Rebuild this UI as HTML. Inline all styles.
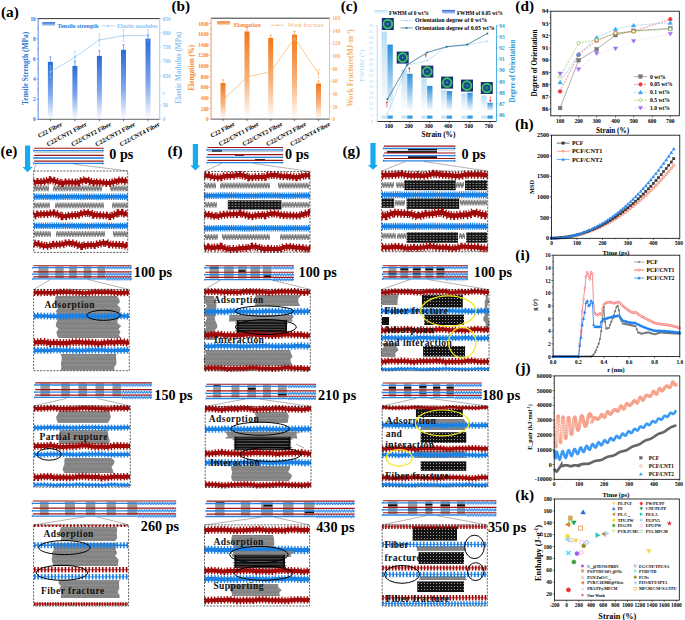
<!DOCTYPE html>
<html><head><meta charset="utf-8"><style>
html,body{margin:0;padding:0;background:#fff;width:685px;height:620px;overflow:hidden}
svg{display:block;font-family:"Liberation Serif", serif}
</style></head><body>
<svg width="685" height="620" viewBox="0 0 685 620">
<defs>
<linearGradient id="gBlue" x1="0" y1="0" x2="0" y2="1"><stop offset="0" stop-color="#2a6ad8"/><stop offset="0.55" stop-color="#7ea6ec"/><stop offset="1" stop-color="#ffffff"/></linearGradient>
<linearGradient id="gOr" x1="0" y1="0" x2="0" y2="1"><stop offset="0" stop-color="#f2771a"/><stop offset="0.55" stop-color="#f7b27c"/><stop offset="1" stop-color="#ffffff"/></linearGradient>
<linearGradient id="gLB" x1="0" y1="0" x2="0" y2="1"><stop offset="0" stop-color="#b9def6"/><stop offset="1" stop-color="#ffffff"/></linearGradient>
<linearGradient id="gDB" x1="0" y1="0" x2="0" y2="1"><stop offset="0" stop-color="#2b8fd8"/><stop offset="1" stop-color="#ffffff"/></linearGradient>
<linearGradient id="gLegB" x1="0" y1="0" x2="0" y2="1"><stop offset="0" stop-color="#2a6ad8"/><stop offset="1" stop-color="#cfdcf6"/></linearGradient>
<linearGradient id="gLegO" x1="0" y1="0" x2="0" y2="1"><stop offset="0" stop-color="#f2771a"/><stop offset="1" stop-color="#fbd3b4"/></linearGradient>
<radialGradient id="saxs" cx="0.5" cy="0.5" r="0.5"><stop offset="0" stop-color="#1c2d7a"/><stop offset="0.45" stop-color="#1b4a8a"/><stop offset="0.62" stop-color="#3ad36a"/><stop offset="0.78" stop-color="#2fae5a"/><stop offset="0.9" stop-color="#1d3d86"/><stop offset="1" stop-color="#1b2f7c"/></radialGradient>

<pattern id="pz" width="2.8" height="6" patternUnits="userSpaceOnUse"><path d="M-1.4,0.8 L0,5.2 L1.4,0.8 L2.8,5.2 L4.2,0.8" stroke="#7a7a7a" stroke-width="1.5" fill="none"/></pattern>
<pattern id="pg" width="2.4" height="4.4" patternUnits="userSpaceOnUse"><rect width="2.4" height="4.4" fill="#b4b4b4"/><path d="M-1.2,0.5 L0,1.9 L1.2,0.5 L2.4,1.9 L3.6,0.5 M-1.2,2.7 L0,4.1 L1.2,2.7 L2.4,4.1 L3.6,2.7" stroke="#7c7c7c" stroke-width="1.2" fill="none"/></pattern>
<pattern id="pc1" width="3.3" height="2.6" patternUnits="userSpaceOnUse"><rect width="3.3" height="2.6" fill="#111"/><path d="M0.5,1.3 H2.2" stroke="#e6e6e6" stroke-width="0.65"/></pattern>
<pattern id="pc2" width="3" height="3" patternUnits="userSpaceOnUse"><rect width="3" height="3" fill="#121212"/><ellipse cx="1.5" cy="1.5" rx="0.6" ry="0.45" fill="#e8e8e8"/></pattern>
<pattern id="pw" width="2.6" height="5" patternUnits="userSpaceOnUse"><path d="M-1.3,1.6 L0,3.4 L1.3,1.6 L2.6,3.4 L3.9,1.6" stroke="#2a86e6" stroke-width="1.2" fill="none"/></pattern></defs>
<rect width="685" height="620" fill="#fff"/>
<text x="0.9" y="16.7" font-size="15.3" fill="#000" text-anchor="start" font-weight="bold">(a)</text>
<rect x="47.9" y="61.9" width="5.0" height="57.4" fill="url(#gBlue)"/>
<line x1="50.4" y1="61.9" x2="50.4" y2="56.9" stroke="#2f74d6" stroke-width="0.6"/>
<line x1="49.2" y1="56.9" x2="51.6" y2="56.9" stroke="#2f74d6" stroke-width="0.6"/>
<rect x="72.4" y="65.9" width="5.0" height="53.4" fill="url(#gBlue)"/>
<line x1="74.9" y1="65.9" x2="74.9" y2="60.9" stroke="#2f74d6" stroke-width="0.6"/>
<line x1="73.7" y1="60.9" x2="76.1" y2="60.9" stroke="#2f74d6" stroke-width="0.6"/>
<rect x="96.9" y="55.9" width="5.0" height="63.4" fill="url(#gBlue)"/>
<line x1="99.4" y1="55.9" x2="99.4" y2="50.8" stroke="#2f74d6" stroke-width="0.6"/>
<line x1="98.2" y1="50.8" x2="100.6" y2="50.8" stroke="#2f74d6" stroke-width="0.6"/>
<rect x="121.0" y="49.8" width="5.0" height="69.5" fill="url(#gBlue)"/>
<line x1="123.5" y1="49.8" x2="123.5" y2="44.8" stroke="#2f74d6" stroke-width="0.6"/>
<line x1="122.3" y1="44.8" x2="124.7" y2="44.8" stroke="#2f74d6" stroke-width="0.6"/>
<rect x="145.5" y="38.7" width="5.0" height="80.6" fill="url(#gBlue)"/>
<line x1="148.0" y1="38.7" x2="148.0" y2="34.7" stroke="#2f74d6" stroke-width="0.6"/>
<line x1="146.8" y1="34.7" x2="149.2" y2="34.7" stroke="#2f74d6" stroke-width="0.6"/>
<polyline points="50.4,71.9 74.9,57.2 99.4,39.9 123.5,35.7 148.0,35.7" stroke="#8cc4f2" stroke-width="0.7" fill="none"/>
<line x1="50.4" y1="65.9" x2="50.4" y2="77.9" stroke="#8cc4f2" stroke-width="0.5"/>
<line x1="49.4" y1="65.9" x2="51.4" y2="65.9" stroke="#8cc4f2" stroke-width="0.5"/>
<line x1="49.4" y1="77.9" x2="51.4" y2="77.9" stroke="#8cc4f2" stroke-width="0.5"/>
<circle cx="50.4" cy="71.9" r="0.9" fill="#8cc4f2"/>
<line x1="74.9" y1="51.2" x2="74.9" y2="63.2" stroke="#8cc4f2" stroke-width="0.5"/>
<line x1="73.9" y1="51.2" x2="75.9" y2="51.2" stroke="#8cc4f2" stroke-width="0.5"/>
<line x1="73.9" y1="63.2" x2="75.9" y2="63.2" stroke="#8cc4f2" stroke-width="0.5"/>
<circle cx="74.9" cy="57.2" r="0.9" fill="#8cc4f2"/>
<line x1="99.4" y1="33.9" x2="99.4" y2="45.9" stroke="#8cc4f2" stroke-width="0.5"/>
<line x1="98.4" y1="33.9" x2="100.4" y2="33.9" stroke="#8cc4f2" stroke-width="0.5"/>
<line x1="98.4" y1="45.9" x2="100.4" y2="45.9" stroke="#8cc4f2" stroke-width="0.5"/>
<circle cx="99.4" cy="39.9" r="0.9" fill="#8cc4f2"/>
<line x1="123.5" y1="29.7" x2="123.5" y2="41.7" stroke="#8cc4f2" stroke-width="0.5"/>
<line x1="122.5" y1="29.7" x2="124.5" y2="29.7" stroke="#8cc4f2" stroke-width="0.5"/>
<line x1="122.5" y1="41.7" x2="124.5" y2="41.7" stroke="#8cc4f2" stroke-width="0.5"/>
<circle cx="123.5" cy="35.7" r="0.9" fill="#8cc4f2"/>
<line x1="148.0" y1="29.7" x2="148.0" y2="41.7" stroke="#8cc4f2" stroke-width="0.5"/>
<line x1="147.0" y1="29.7" x2="149.0" y2="29.7" stroke="#8cc4f2" stroke-width="0.5"/>
<line x1="147.0" y1="41.7" x2="149.0" y2="41.7" stroke="#8cc4f2" stroke-width="0.5"/>
<circle cx="148" cy="35.7" r="0.9" fill="#8cc4f2"/>
<line x1="38.2" y1="18.6" x2="159.7" y2="18.6" stroke="#000" stroke-width="0.8"/>
<line x1="38.2" y1="119.3" x2="159.7" y2="119.3" stroke="#666" stroke-width="1.0"/>
<line x1="38.2" y1="18.6" x2="38.2" y2="119.3" stroke="#2f74d6" stroke-width="0.8"/>
<line x1="159.7" y1="18.6" x2="159.7" y2="119.3" stroke="#8cc4f2" stroke-width="0.8"/>
<line x1="36.2" y1="119.3" x2="38.2" y2="119.3" stroke="#2f74d6" stroke-width="0.5"/>
<line x1="37.0" y1="109.2" x2="38.2" y2="109.2" stroke="#2f74d6" stroke-width="0.5"/>
<line x1="36.2" y1="99.2" x2="38.2" y2="99.2" stroke="#2f74d6" stroke-width="0.5"/>
<line x1="37.0" y1="89.1" x2="38.2" y2="89.1" stroke="#2f74d6" stroke-width="0.5"/>
<line x1="36.2" y1="79.0" x2="38.2" y2="79.0" stroke="#2f74d6" stroke-width="0.5"/>
<line x1="37.0" y1="69.0" x2="38.2" y2="69.0" stroke="#2f74d6" stroke-width="0.5"/>
<line x1="36.2" y1="58.9" x2="38.2" y2="58.9" stroke="#2f74d6" stroke-width="0.5"/>
<line x1="37.0" y1="48.8" x2="38.2" y2="48.8" stroke="#2f74d6" stroke-width="0.5"/>
<line x1="36.2" y1="38.7" x2="38.2" y2="38.7" stroke="#2f74d6" stroke-width="0.5"/>
<line x1="37.0" y1="28.7" x2="38.2" y2="28.7" stroke="#2f74d6" stroke-width="0.5"/>
<line x1="36.2" y1="18.6" x2="38.2" y2="18.6" stroke="#2f74d6" stroke-width="0.5"/>
<text x="35.7" y="121.3" font-size="5.2" fill="#2f74d6" text-anchor="end" font-weight="bold">0</text>
<text x="35.7" y="101.2" font-size="5.2" fill="#2f74d6" text-anchor="end" font-weight="bold">2</text>
<text x="35.7" y="81.0" font-size="5.2" fill="#2f74d6" text-anchor="end" font-weight="bold">4</text>
<text x="35.7" y="60.9" font-size="5.2" fill="#2f74d6" text-anchor="end" font-weight="bold">6</text>
<text x="35.7" y="40.7" font-size="5.2" fill="#2f74d6" text-anchor="end" font-weight="bold">8</text>
<text x="35.7" y="20.6" font-size="5.2" fill="#2f74d6" text-anchor="end" font-weight="bold">10</text>
<line x1="50.4" y1="119.3" x2="50.4" y2="121.3" stroke="#000" stroke-width="0.5"/>
<line x1="74.9" y1="119.3" x2="74.9" y2="121.3" stroke="#000" stroke-width="0.5"/>
<line x1="99.4" y1="119.3" x2="99.4" y2="121.3" stroke="#000" stroke-width="0.5"/>
<line x1="123.5" y1="119.3" x2="123.5" y2="121.3" stroke="#000" stroke-width="0.5"/>
<line x1="148.0" y1="119.3" x2="148.0" y2="121.3" stroke="#000" stroke-width="0.5"/>
<line x1="159.7" y1="18.6" x2="161.7" y2="18.6" stroke="#8cc4f2" stroke-width="0.5"/>
<text x="162.7" y="20.6" font-size="5.2" fill="#8cc4f2" text-anchor="start" font-weight="bold">850</text>
<line x1="159.7" y1="32.9" x2="161.7" y2="32.9" stroke="#8cc4f2" stroke-width="0.5"/>
<text x="162.7" y="34.9" font-size="5.2" fill="#8cc4f2" text-anchor="start" font-weight="bold">800</text>
<line x1="159.7" y1="46.9" x2="161.7" y2="46.9" stroke="#8cc4f2" stroke-width="0.5"/>
<text x="162.7" y="48.9" font-size="5.2" fill="#8cc4f2" text-anchor="start" font-weight="bold">750</text>
<line x1="159.7" y1="61.4" x2="161.7" y2="61.4" stroke="#8cc4f2" stroke-width="0.5"/>
<text x="162.7" y="63.4" font-size="5.2" fill="#8cc4f2" text-anchor="start" font-weight="bold">700</text>
<line x1="159.7" y1="75.9" x2="161.7" y2="75.9" stroke="#8cc4f2" stroke-width="0.5"/>
<text x="162.7" y="77.9" font-size="5.2" fill="#8cc4f2" text-anchor="start" font-weight="bold">650</text>
<line x1="159.7" y1="105.3" x2="161.7" y2="105.3" stroke="#8cc4f2" stroke-width="0.5"/>
<text x="162.7" y="107.3" font-size="5.2" fill="#8cc4f2" text-anchor="start" font-weight="bold">50</text>
<line x1="159.7" y1="119.3" x2="161.7" y2="119.3" stroke="#8cc4f2" stroke-width="0.5"/>
<text x="162.7" y="121.3" font-size="5.2" fill="#8cc4f2" text-anchor="start" font-weight="bold">0</text>
<text x="162.2" y="92.0" font-size="5" fill="#8cc4f2" text-anchor="start" font-weight="bold" transform="rotate(90 162.2 92.0)">≈</text>
<text x="62.7" y="125.5" font-size="6.2" fill="#000" text-anchor="end" font-weight="bold" transform="rotate(-28 62.7 125.5)">C22 Fiber</text>
<text x="87.2" y="125.5" font-size="6.2" fill="#000" text-anchor="end" font-weight="bold" transform="rotate(-28 87.2 125.5)">C22/CNT1 Fiber</text>
<text x="111.7" y="125.5" font-size="6.2" fill="#000" text-anchor="end" font-weight="bold" transform="rotate(-28 111.7 125.5)">C22/CNT2 Fiber</text>
<text x="135.8" y="125.5" font-size="6.2" fill="#000" text-anchor="end" font-weight="bold" transform="rotate(-28 135.8 125.5)">C22/CNT3 Fiber</text>
<text x="160.3" y="125.5" font-size="6.2" fill="#000" text-anchor="end" font-weight="bold" transform="rotate(-28 160.3 125.5)">C22/CNT4 Fiber</text>
<text x="27.8" y="68.4" font-size="7.6" fill="#2f74d6" text-anchor="middle" font-weight="bold" transform="rotate(-90 27.8 68.4)" textLength="73" lengthAdjust="spacingAndGlyphs">Tensile Strength (MPa)</text>
<text x="180.7" y="67.8" font-size="7.6" fill="#8cc4f2" text-anchor="middle" font-weight="bold" transform="rotate(-90 180.7 67.8)" textLength="72" lengthAdjust="spacingAndGlyphs">Elastic Modulus (MPa)</text>
<rect x="42.2" y="22.1" width="12.8" height="3.8" fill="url(#gLegB)"/>
<text x="57.4" y="27.9" font-size="6" fill="#2f74d6" text-anchor="start" font-weight="bold" textLength="41" lengthAdjust="spacingAndGlyphs">Tensile strength</text>
<line x1="101.8" y1="25.9" x2="114.6" y2="25.9" stroke="#8cc4f2" stroke-width="0.6"/>
<circle cx="108.2" cy="25.9" r="0.8" fill="#8cc4f2"/>
<text x="117.0" y="27.9" font-size="6" fill="#8cc4f2" text-anchor="start" font-weight="bold" textLength="40.8" lengthAdjust="spacingAndGlyphs">Elastic modulus</text>
<text x="171.4" y="11.0" font-size="15.3" fill="#000" text-anchor="start" font-weight="bold">(b)</text>
<rect x="220.5" y="83.0" width="5.0" height="36.1" fill="url(#gOr)"/>
<line x1="223.0" y1="83.0" x2="223.0" y2="79.8" stroke="#f5882a" stroke-width="0.6"/>
<line x1="221.8" y1="79.8" x2="224.2" y2="79.8" stroke="#f5882a" stroke-width="0.6"/>
<rect x="244.5" y="31.5" width="5.0" height="87.6" fill="url(#gOr)"/>
<line x1="247.0" y1="31.5" x2="247.0" y2="27.2" stroke="#f5882a" stroke-width="0.6"/>
<line x1="245.8" y1="27.2" x2="248.2" y2="27.2" stroke="#f5882a" stroke-width="0.6"/>
<rect x="268.2" y="37.9" width="5.0" height="81.2" fill="url(#gOr)"/>
<line x1="270.7" y1="37.9" x2="270.7" y2="35.2" stroke="#f5882a" stroke-width="0.6"/>
<line x1="269.5" y1="35.2" x2="271.9" y2="35.2" stroke="#f5882a" stroke-width="0.6"/>
<rect x="292.0" y="34.7" width="5.0" height="84.4" fill="url(#gOr)"/>
<line x1="294.5" y1="34.7" x2="294.5" y2="31.5" stroke="#f5882a" stroke-width="0.6"/>
<line x1="293.3" y1="31.5" x2="295.7" y2="31.5" stroke="#f5882a" stroke-width="0.6"/>
<rect x="316.0" y="83.5" width="5.0" height="35.6" fill="url(#gOr)"/>
<line x1="318.5" y1="83.5" x2="318.5" y2="80.9" stroke="#f5882a" stroke-width="0.6"/>
<line x1="317.3" y1="80.9" x2="319.7" y2="80.9" stroke="#f5882a" stroke-width="0.6"/>
<polyline points="223.0,100.0 247.0,77.0 270.7,71.9 294.5,38.0 318.5,73.6" stroke="#f7b06a" stroke-width="0.7" fill="none"/>
<line x1="223.0" y1="96.0" x2="223.0" y2="104.0" stroke="#f7b06a" stroke-width="0.5"/>
<line x1="222.0" y1="96.0" x2="224.0" y2="96.0" stroke="#f7b06a" stroke-width="0.5"/>
<line x1="222.0" y1="104.0" x2="224.0" y2="104.0" stroke="#f7b06a" stroke-width="0.5"/>
<circle cx="223" cy="100" r="0.9" fill="#f7b06a"/>
<line x1="247.0" y1="73.0" x2="247.0" y2="81.0" stroke="#f7b06a" stroke-width="0.5"/>
<line x1="246.0" y1="73.0" x2="248.0" y2="73.0" stroke="#f7b06a" stroke-width="0.5"/>
<line x1="246.0" y1="81.0" x2="248.0" y2="81.0" stroke="#f7b06a" stroke-width="0.5"/>
<circle cx="247" cy="77" r="0.9" fill="#f7b06a"/>
<line x1="270.7" y1="67.9" x2="270.7" y2="75.9" stroke="#f7b06a" stroke-width="0.5"/>
<line x1="269.7" y1="67.9" x2="271.7" y2="67.9" stroke="#f7b06a" stroke-width="0.5"/>
<line x1="269.7" y1="75.9" x2="271.7" y2="75.9" stroke="#f7b06a" stroke-width="0.5"/>
<circle cx="270.7" cy="71.9" r="0.9" fill="#f7b06a"/>
<line x1="294.5" y1="34.0" x2="294.5" y2="42.0" stroke="#f7b06a" stroke-width="0.5"/>
<line x1="293.5" y1="34.0" x2="295.5" y2="34.0" stroke="#f7b06a" stroke-width="0.5"/>
<line x1="293.5" y1="42.0" x2="295.5" y2="42.0" stroke="#f7b06a" stroke-width="0.5"/>
<circle cx="294.5" cy="38" r="0.9" fill="#f7b06a"/>
<line x1="318.5" y1="69.6" x2="318.5" y2="77.6" stroke="#f7b06a" stroke-width="0.5"/>
<line x1="317.5" y1="69.6" x2="319.5" y2="69.6" stroke="#f7b06a" stroke-width="0.5"/>
<line x1="317.5" y1="77.6" x2="319.5" y2="77.6" stroke="#f7b06a" stroke-width="0.5"/>
<circle cx="318.5" cy="73.6" r="0.9" fill="#f7b06a"/>
<line x1="211.1" y1="18.2" x2="329.5" y2="18.2" stroke="#000" stroke-width="0.8"/>
<line x1="211.1" y1="119.1" x2="329.5" y2="119.1" stroke="#555" stroke-width="1.0"/>
<line x1="211.1" y1="18.2" x2="211.1" y2="119.1" stroke="#f5882a" stroke-width="0.8"/>
<line x1="329.5" y1="18.2" x2="329.5" y2="119.1" stroke="#f7b06a" stroke-width="0.8"/>
<line x1="209.1" y1="119.1" x2="211.1" y2="119.1" stroke="#f5882a" stroke-width="0.5"/>
<line x1="209.9" y1="113.8" x2="211.1" y2="113.8" stroke="#f5882a" stroke-width="0.5"/>
<line x1="209.1" y1="108.5" x2="211.1" y2="108.5" stroke="#f5882a" stroke-width="0.5"/>
<line x1="209.9" y1="103.2" x2="211.1" y2="103.2" stroke="#f5882a" stroke-width="0.5"/>
<line x1="209.1" y1="97.9" x2="211.1" y2="97.9" stroke="#f5882a" stroke-width="0.5"/>
<line x1="209.9" y1="92.5" x2="211.1" y2="92.5" stroke="#f5882a" stroke-width="0.5"/>
<line x1="209.1" y1="87.2" x2="211.1" y2="87.2" stroke="#f5882a" stroke-width="0.5"/>
<line x1="209.9" y1="81.9" x2="211.1" y2="81.9" stroke="#f5882a" stroke-width="0.5"/>
<line x1="209.1" y1="76.6" x2="211.1" y2="76.6" stroke="#f5882a" stroke-width="0.5"/>
<line x1="209.9" y1="71.3" x2="211.1" y2="71.3" stroke="#f5882a" stroke-width="0.5"/>
<line x1="209.1" y1="66.0" x2="211.1" y2="66.0" stroke="#f5882a" stroke-width="0.5"/>
<line x1="209.9" y1="60.7" x2="211.1" y2="60.7" stroke="#f5882a" stroke-width="0.5"/>
<line x1="209.1" y1="55.4" x2="211.1" y2="55.4" stroke="#f5882a" stroke-width="0.5"/>
<line x1="209.9" y1="50.1" x2="211.1" y2="50.1" stroke="#f5882a" stroke-width="0.5"/>
<line x1="209.1" y1="44.8" x2="211.1" y2="44.8" stroke="#f5882a" stroke-width="0.5"/>
<line x1="209.9" y1="39.4" x2="211.1" y2="39.4" stroke="#f5882a" stroke-width="0.5"/>
<line x1="209.1" y1="34.1" x2="211.1" y2="34.1" stroke="#f5882a" stroke-width="0.5"/>
<line x1="209.9" y1="28.8" x2="211.1" y2="28.8" stroke="#f5882a" stroke-width="0.5"/>
<line x1="209.1" y1="23.5" x2="211.1" y2="23.5" stroke="#f5882a" stroke-width="0.5"/>
<text x="208.6" y="121.1" font-size="5.2" fill="#f5882a" text-anchor="end" font-weight="bold">0</text>
<text x="208.6" y="110.5" font-size="5.2" fill="#f5882a" text-anchor="end" font-weight="bold">200</text>
<text x="208.6" y="99.9" font-size="5.2" fill="#f5882a" text-anchor="end" font-weight="bold">400</text>
<text x="208.6" y="89.2" font-size="5.2" fill="#f5882a" text-anchor="end" font-weight="bold">600</text>
<text x="208.6" y="78.6" font-size="5.2" fill="#f5882a" text-anchor="end" font-weight="bold">800</text>
<text x="208.6" y="68.0" font-size="5.2" fill="#f5882a" text-anchor="end" font-weight="bold">1000</text>
<text x="208.6" y="57.4" font-size="5.2" fill="#f5882a" text-anchor="end" font-weight="bold">1200</text>
<text x="208.6" y="46.8" font-size="5.2" fill="#f5882a" text-anchor="end" font-weight="bold">1400</text>
<text x="208.6" y="36.1" font-size="5.2" fill="#f5882a" text-anchor="end" font-weight="bold">1600</text>
<text x="208.6" y="25.5" font-size="5.2" fill="#f5882a" text-anchor="end" font-weight="bold">1800</text>
<line x1="329.5" y1="119.1" x2="331.5" y2="119.1" stroke="#f7b06a" stroke-width="0.5"/>
<text x="332.5" y="121.1" font-size="5.2" fill="#f7b06a" text-anchor="start" font-weight="bold">0</text>
<line x1="329.5" y1="106.5" x2="331.5" y2="106.5" stroke="#f7b06a" stroke-width="0.5"/>
<text x="332.5" y="108.5" font-size="5.2" fill="#f7b06a" text-anchor="start" font-weight="bold">20</text>
<line x1="329.5" y1="93.9" x2="331.5" y2="93.9" stroke="#f7b06a" stroke-width="0.5"/>
<text x="332.5" y="95.9" font-size="5.2" fill="#f7b06a" text-anchor="start" font-weight="bold">40</text>
<line x1="329.5" y1="81.3" x2="331.5" y2="81.3" stroke="#f7b06a" stroke-width="0.5"/>
<text x="332.5" y="83.3" font-size="5.2" fill="#f7b06a" text-anchor="start" font-weight="bold">60</text>
<line x1="329.5" y1="68.7" x2="331.5" y2="68.7" stroke="#f7b06a" stroke-width="0.5"/>
<text x="332.5" y="70.7" font-size="5.2" fill="#f7b06a" text-anchor="start" font-weight="bold">80</text>
<line x1="329.5" y1="56.0" x2="331.5" y2="56.0" stroke="#f7b06a" stroke-width="0.5"/>
<text x="332.5" y="58.0" font-size="5.2" fill="#f7b06a" text-anchor="start" font-weight="bold">100</text>
<line x1="329.5" y1="43.4" x2="331.5" y2="43.4" stroke="#f7b06a" stroke-width="0.5"/>
<text x="332.5" y="45.4" font-size="5.2" fill="#f7b06a" text-anchor="start" font-weight="bold">120</text>
<line x1="329.5" y1="30.8" x2="331.5" y2="30.8" stroke="#f7b06a" stroke-width="0.5"/>
<text x="332.5" y="32.8" font-size="5.2" fill="#f7b06a" text-anchor="start" font-weight="bold">140</text>
<line x1="329.5" y1="18.2" x2="331.5" y2="18.2" stroke="#f7b06a" stroke-width="0.5"/>
<text x="332.5" y="20.2" font-size="5.2" fill="#f7b06a" text-anchor="start" font-weight="bold">160</text>
<line x1="223.0" y1="119.1" x2="223.0" y2="121.1" stroke="#000" stroke-width="0.5"/>
<line x1="247.0" y1="119.1" x2="247.0" y2="121.1" stroke="#000" stroke-width="0.5"/>
<line x1="270.7" y1="119.1" x2="270.7" y2="121.1" stroke="#000" stroke-width="0.5"/>
<line x1="294.5" y1="119.1" x2="294.5" y2="121.1" stroke="#000" stroke-width="0.5"/>
<line x1="318.5" y1="119.1" x2="318.5" y2="121.1" stroke="#000" stroke-width="0.5"/>
<text x="235.3" y="125.3" font-size="6.2" fill="#000" text-anchor="end" font-weight="bold" transform="rotate(-28 235.3 125.3)">C22 Fiber</text>
<text x="259.3" y="125.3" font-size="6.2" fill="#000" text-anchor="end" font-weight="bold" transform="rotate(-28 259.3 125.3)">C22/CNT1 Fiber</text>
<text x="283.0" y="125.3" font-size="6.2" fill="#000" text-anchor="end" font-weight="bold" transform="rotate(-28 283.0 125.3)">C22/CNT2 Fiber</text>
<text x="306.8" y="125.3" font-size="6.2" fill="#000" text-anchor="end" font-weight="bold" transform="rotate(-28 306.8 125.3)">C22/CNT3 Fiber</text>
<text x="330.8" y="125.3" font-size="6.2" fill="#000" text-anchor="end" font-weight="bold" transform="rotate(-28 330.8 125.3)">C22/CNT4 Fiber</text>
<text x="194.0" y="67.8" font-size="7.2" fill="#f5882a" text-anchor="middle" font-weight="bold" transform="rotate(-90 194.0 67.8)" textLength="45.6" lengthAdjust="spacingAndGlyphs">Elongation (%)</text>
<text x="352.5" y="68.0" font-size="7.4" fill="#f7b06a" text-anchor="middle" font-weight="bold" transform="rotate(-90 352.5 68.0)" textLength="77" lengthAdjust="spacingAndGlyphs">Work Fracture(MJ·m<tspan font-size="4.5" dy="-2.5">-3</tspan><tspan dy="2.5">)</tspan></text>
<rect x="217.0" y="21.3" width="13.0" height="3.6" fill="url(#gLegO)"/>
<text x="233.7" y="26.5" font-size="6" fill="#f5882a" text-anchor="start" font-weight="bold" textLength="26.9" lengthAdjust="spacingAndGlyphs">Elongation</text>
<line x1="271.0" y1="25.2" x2="284.0" y2="25.2" stroke="#f7b06a" stroke-width="0.6"/>
<circle cx="277.5" cy="25.2" r="0.8" fill="#f7b06a"/>
<text x="287.5" y="27.2" font-size="6" fill="#f7b06a" text-anchor="start" font-weight="normal" textLength="36.2" lengthAdjust="spacingAndGlyphs">Work fracture</text>
<text x="340.7" y="11.0" font-size="15.3" fill="#000" text-anchor="start" font-weight="bold">(c)</text>
<rect x="381.5" y="31.7" width="5.4" height="79.3" fill="url(#gLB)"/>
<rect x="381.5" y="115.5" width="5.4" height="3.2" fill="#c3e3f8"/>
<rect x="401.4" y="69.6" width="5.4" height="41.4" fill="url(#gLB)"/>
<rect x="401.4" y="115.5" width="5.4" height="3.2" fill="#c3e3f8"/>
<rect x="421.3" y="78.5" width="5.4" height="32.5" fill="url(#gLB)"/>
<rect x="421.3" y="115.5" width="5.4" height="3.2" fill="#c3e3f8"/>
<rect x="441.0" y="89.9" width="5.4" height="21.1" fill="url(#gLB)"/>
<rect x="441.0" y="115.5" width="5.4" height="3.2" fill="#c3e3f8"/>
<rect x="461.4" y="93.4" width="5.4" height="17.6" fill="url(#gLB)"/>
<rect x="461.4" y="115.5" width="5.4" height="3.2" fill="#c3e3f8"/>
<rect x="481.3" y="95.5" width="5.4" height="15.5" fill="url(#gLB)"/>
<rect x="481.3" y="115.5" width="5.4" height="3.2" fill="#c3e3f8"/>
<rect x="387.4" y="44.6" width="5.4" height="66.4" fill="url(#gDB)"/>
<rect x="387.4" y="115.5" width="5.4" height="3.2" fill="#3a9ee0"/>
<rect x="407.2" y="73.8" width="5.4" height="37.2" fill="url(#gDB)"/>
<rect x="407.2" y="115.5" width="5.4" height="3.2" fill="#3a9ee0"/>
<rect x="427.1" y="85.9" width="5.4" height="25.1" fill="url(#gDB)"/>
<rect x="427.1" y="115.5" width="5.4" height="3.2" fill="#3a9ee0"/>
<rect x="446.7" y="91.0" width="5.4" height="20.0" fill="url(#gDB)"/>
<rect x="446.7" y="115.5" width="5.4" height="3.2" fill="#3a9ee0"/>
<rect x="467.3" y="92.7" width="5.4" height="18.3" fill="url(#gDB)"/>
<rect x="467.3" y="115.5" width="5.4" height="3.2" fill="#3a9ee0"/>
<rect x="487.4" y="102.8" width="5.4" height="8.2" fill="url(#gDB)"/>
<rect x="487.4" y="115.5" width="5.4" height="3.2" fill="#3a9ee0"/>
<rect x="381.8" y="18.0" width="12.0" height="12.0" fill="#1b2f7c"/>
<circle cx="387.8" cy="24.0" r="4.3" fill="none" stroke="#37c85e" stroke-width="1.9"/>
<circle cx="387.8" cy="24.0" r="3.2" fill="#1d4f8e"/>
<circle cx="387.8" cy="24.0" r="0.7" fill="#8fd0a0"/>
<rect x="396.7" y="51.6" width="12.0" height="12.0" fill="#1b2f7c"/>
<circle cx="402.7" cy="57.6" r="4.3" fill="none" stroke="#37c85e" stroke-width="1.9"/>
<circle cx="402.7" cy="57.6" r="3.2" fill="#1d4f8e"/>
<circle cx="402.7" cy="57.6" r="0.7" fill="#8fd0a0"/>
<rect x="421.3" y="65.6" width="12.0" height="12.0" fill="#1b2f7c"/>
<circle cx="427.3" cy="71.6" r="4.3" fill="none" stroke="#37c85e" stroke-width="1.9"/>
<circle cx="427.3" cy="71.6" r="3.2" fill="#1d4f8e"/>
<circle cx="427.3" cy="71.6" r="0.7" fill="#8fd0a0"/>
<rect x="441.1" y="76.6" width="12.0" height="12.0" fill="#1b2f7c"/>
<circle cx="447.1" cy="82.6" r="4.3" fill="none" stroke="#37c85e" stroke-width="1.9"/>
<circle cx="447.1" cy="82.6" r="3.2" fill="#1d4f8e"/>
<circle cx="447.1" cy="82.6" r="0.7" fill="#8fd0a0"/>
<rect x="461.0" y="79.6" width="12.0" height="12.0" fill="#1b2f7c"/>
<circle cx="467.0" cy="85.6" r="4.3" fill="none" stroke="#37c85e" stroke-width="1.9"/>
<circle cx="467.0" cy="85.6" r="3.2" fill="#1d4f8e"/>
<circle cx="467.0" cy="85.6" r="0.7" fill="#8fd0a0"/>
<rect x="480.8" y="82.0" width="12.0" height="12.0" fill="#1b2f7c"/>
<circle cx="486.8" cy="88.0" r="4.3" fill="none" stroke="#37c85e" stroke-width="1.9"/>
<circle cx="486.8" cy="88.0" r="3.2" fill="#1d4f8e"/>
<circle cx="486.8" cy="88.0" r="0.7" fill="#8fd0a0"/>
<polyline points="387.4,114.0 407.2,65.4 427.1,60.5 446.7,46.9 467.3,45.0 487.4,41.0" stroke="#9fd2f3" stroke-width="0.6" fill="none"/>
<line x1="386.2" y1="114.0" x2="388.6" y2="114.0" stroke="#9fd2f3" stroke-width="0.5"/>
<line x1="387.4" y1="112.8" x2="387.4" y2="115.2" stroke="#9fd2f3" stroke-width="0.5"/>
<line x1="406.0" y1="65.4" x2="408.4" y2="65.4" stroke="#9fd2f3" stroke-width="0.5"/>
<line x1="407.2" y1="64.2" x2="407.2" y2="66.6" stroke="#9fd2f3" stroke-width="0.5"/>
<line x1="425.9" y1="60.5" x2="428.3" y2="60.5" stroke="#9fd2f3" stroke-width="0.5"/>
<line x1="427.1" y1="59.3" x2="427.1" y2="61.7" stroke="#9fd2f3" stroke-width="0.5"/>
<line x1="445.5" y1="46.9" x2="447.9" y2="46.9" stroke="#9fd2f3" stroke-width="0.5"/>
<line x1="446.7" y1="45.7" x2="446.7" y2="48.1" stroke="#9fd2f3" stroke-width="0.5"/>
<line x1="466.1" y1="45.0" x2="468.5" y2="45.0" stroke="#9fd2f3" stroke-width="0.5"/>
<line x1="467.3" y1="43.8" x2="467.3" y2="46.2" stroke="#9fd2f3" stroke-width="0.5"/>
<line x1="486.2" y1="41.0" x2="488.6" y2="41.0" stroke="#9fd2f3" stroke-width="0.5"/>
<line x1="487.4" y1="39.8" x2="487.4" y2="42.2" stroke="#9fd2f3" stroke-width="0.5"/>
<polyline points="387.4,99.3 407.2,64.9 427.1,52.5 446.7,46.7 467.3,44.6 487.4,33.4" stroke="#2b6e8c" stroke-width="0.8" fill="none"/>
<circle cx="387.4" cy="99.3" r="1" fill="#2b6e8c"/>
<circle cx="407.2" cy="64.9" r="1" fill="#2b6e8c"/>
<circle cx="427.1" cy="52.5" r="1" fill="#2b6e8c"/>
<circle cx="446.7" cy="46.7" r="1" fill="#2b6e8c"/>
<circle cx="467.3" cy="44.6" r="1" fill="#2b6e8c"/>
<circle cx="487.4" cy="33.4" r="1" fill="#2b6e8c"/>
<line x1="386.9" y1="107.5" x2="386.9" y2="102.6" stroke="#e81c1c" stroke-width="0.6"/>
<path d="M385.8,103.0 L386.9,101.0 L388.0,103.0Z" fill="#e81c1c"/>
<line x1="409.3" y1="72.5" x2="409.3" y2="68.6" stroke="#e81c1c" stroke-width="0.6"/>
<path d="M408.2,69.0 L409.3,67.0 L410.4,69.0Z" fill="#e81c1c"/>
<line x1="425.7" y1="57.8" x2="425.7" y2="55.1" stroke="#e81c1c" stroke-width="0.6"/>
<path d="M424.6,55.5 L425.7,53.5 L426.8,55.5Z" fill="#e81c1c"/>
<line x1="490.3" y1="96.4" x2="490.3" y2="100.7" stroke="#e81c1c" stroke-width="0.6"/>
<path d="M489.2,100.3 L490.3,102.3 L491.4,100.3Z" fill="#e81c1c"/>
<line x1="377.3" y1="121.5" x2="496.5" y2="121.5" stroke="#000" stroke-width="0.8"/>
<line x1="377.3" y1="25.6" x2="377.3" y2="121.5" stroke="#a9d8f5" stroke-width="0.8"/>
<line x1="496.5" y1="25.6" x2="496.5" y2="121.5" stroke="#2a9ad8" stroke-width="0.8"/>
<line x1="375.5" y1="108.6" x2="377.3" y2="108.6" stroke="#a9d8f5" stroke-width="0.5"/>
<text x="373.2" y="110.3" font-size="4.8" fill="#a9d8f5" text-anchor="end" font-weight="normal">11</text>
<line x1="375.5" y1="103.1" x2="377.3" y2="103.1" stroke="#a9d8f5" stroke-width="0.5"/>
<text x="373.2" y="104.8" font-size="4.8" fill="#a9d8f5" text-anchor="end" font-weight="normal">12</text>
<line x1="375.5" y1="97.5" x2="377.3" y2="97.5" stroke="#a9d8f5" stroke-width="0.5"/>
<text x="373.2" y="99.2" font-size="4.8" fill="#a9d8f5" text-anchor="end" font-weight="normal">13</text>
<line x1="375.5" y1="92.0" x2="377.3" y2="92.0" stroke="#a9d8f5" stroke-width="0.5"/>
<text x="373.2" y="93.7" font-size="4.8" fill="#a9d8f5" text-anchor="end" font-weight="normal">14</text>
<line x1="375.5" y1="86.5" x2="377.3" y2="86.5" stroke="#a9d8f5" stroke-width="0.5"/>
<text x="373.2" y="88.2" font-size="4.8" fill="#a9d8f5" text-anchor="end" font-weight="normal">15</text>
<line x1="375.5" y1="81.0" x2="377.3" y2="81.0" stroke="#a9d8f5" stroke-width="0.5"/>
<text x="373.2" y="82.7" font-size="4.8" fill="#a9d8f5" text-anchor="end" font-weight="normal">16</text>
<line x1="375.5" y1="75.4" x2="377.3" y2="75.4" stroke="#a9d8f5" stroke-width="0.5"/>
<text x="373.2" y="77.1" font-size="4.8" fill="#a9d8f5" text-anchor="end" font-weight="normal">17</text>
<line x1="375.5" y1="69.9" x2="377.3" y2="69.9" stroke="#a9d8f5" stroke-width="0.5"/>
<text x="373.2" y="71.6" font-size="4.8" fill="#a9d8f5" text-anchor="end" font-weight="normal">18</text>
<line x1="375.5" y1="64.4" x2="377.3" y2="64.4" stroke="#a9d8f5" stroke-width="0.5"/>
<text x="373.2" y="66.1" font-size="4.8" fill="#a9d8f5" text-anchor="end" font-weight="normal">19</text>
<line x1="375.5" y1="58.9" x2="377.3" y2="58.9" stroke="#a9d8f5" stroke-width="0.5"/>
<text x="373.2" y="60.6" font-size="4.8" fill="#a9d8f5" text-anchor="end" font-weight="normal">20</text>
<line x1="375.5" y1="53.3" x2="377.3" y2="53.3" stroke="#a9d8f5" stroke-width="0.5"/>
<text x="373.2" y="55.0" font-size="4.8" fill="#a9d8f5" text-anchor="end" font-weight="normal">21</text>
<line x1="375.5" y1="47.8" x2="377.3" y2="47.8" stroke="#a9d8f5" stroke-width="0.5"/>
<text x="373.2" y="49.5" font-size="4.8" fill="#a9d8f5" text-anchor="end" font-weight="normal">22</text>
<line x1="375.5" y1="42.3" x2="377.3" y2="42.3" stroke="#a9d8f5" stroke-width="0.5"/>
<text x="373.2" y="44.0" font-size="4.8" fill="#a9d8f5" text-anchor="end" font-weight="normal">23</text>
<line x1="375.5" y1="36.8" x2="377.3" y2="36.8" stroke="#a9d8f5" stroke-width="0.5"/>
<text x="373.2" y="38.5" font-size="4.8" fill="#a9d8f5" text-anchor="end" font-weight="normal">24</text>
<line x1="375.5" y1="31.2" x2="377.3" y2="31.2" stroke="#a9d8f5" stroke-width="0.5"/>
<text x="373.2" y="32.9" font-size="4.8" fill="#a9d8f5" text-anchor="end" font-weight="normal">25</text>
<line x1="375.5" y1="25.7" x2="377.3" y2="25.7" stroke="#a9d8f5" stroke-width="0.5"/>
<text x="373.2" y="27.4" font-size="4.8" fill="#a9d8f5" text-anchor="end" font-weight="normal">26</text>
<line x1="375.5" y1="114.9" x2="377.3" y2="114.9" stroke="#a9d8f5" stroke-width="0.5"/>
<text x="373.2" y="116.6" font-size="4.8" fill="#a9d8f5" text-anchor="end" font-weight="normal">7</text>
<line x1="375.5" y1="121.0" x2="377.3" y2="121.0" stroke="#a9d8f5" stroke-width="0.5"/>
<text x="373.2" y="122.7" font-size="4.8" fill="#a9d8f5" text-anchor="end" font-weight="normal">0</text>
<line x1="496.5" y1="115.1" x2="498.5" y2="115.1" stroke="#2a9ad8" stroke-width="0.5"/>
<text x="499.3" y="117.1" font-size="5.4" fill="#2a9ad8" text-anchor="start" font-weight="bold">86</text>
<line x1="496.5" y1="103.9" x2="498.5" y2="103.9" stroke="#2a9ad8" stroke-width="0.5"/>
<text x="499.3" y="105.9" font-size="5.4" fill="#2a9ad8" text-anchor="start" font-weight="bold">87</text>
<line x1="496.5" y1="92.8" x2="498.5" y2="92.8" stroke="#2a9ad8" stroke-width="0.5"/>
<text x="499.3" y="94.8" font-size="5.4" fill="#2a9ad8" text-anchor="start" font-weight="bold">88</text>
<line x1="496.5" y1="81.6" x2="498.5" y2="81.6" stroke="#2a9ad8" stroke-width="0.5"/>
<text x="499.3" y="83.6" font-size="5.4" fill="#2a9ad8" text-anchor="start" font-weight="bold">89</text>
<line x1="496.5" y1="70.4" x2="498.5" y2="70.4" stroke="#2a9ad8" stroke-width="0.5"/>
<text x="499.3" y="72.4" font-size="5.4" fill="#2a9ad8" text-anchor="start" font-weight="bold">90</text>
<line x1="496.5" y1="59.2" x2="498.5" y2="59.2" stroke="#2a9ad8" stroke-width="0.5"/>
<text x="499.3" y="61.2" font-size="5.4" fill="#2a9ad8" text-anchor="start" font-weight="bold">91</text>
<line x1="496.5" y1="48.0" x2="498.5" y2="48.0" stroke="#2a9ad8" stroke-width="0.5"/>
<text x="499.3" y="50.0" font-size="5.4" fill="#2a9ad8" text-anchor="start" font-weight="bold">92</text>
<line x1="496.5" y1="36.9" x2="498.5" y2="36.9" stroke="#2a9ad8" stroke-width="0.5"/>
<text x="499.3" y="38.9" font-size="5.4" fill="#2a9ad8" text-anchor="start" font-weight="bold">93</text>
<line x1="496.5" y1="25.7" x2="498.5" y2="25.7" stroke="#2a9ad8" stroke-width="0.5"/>
<text x="499.3" y="27.7" font-size="5.4" fill="#2a9ad8" text-anchor="start" font-weight="bold">94</text>
<line x1="390.1" y1="121.5" x2="390.1" y2="123.3" stroke="#000" stroke-width="0.5"/>
<text x="388.9" y="128.0" font-size="5.6" fill="#000" text-anchor="middle" font-weight="bold">100</text>
<line x1="409.9" y1="121.5" x2="409.9" y2="123.3" stroke="#000" stroke-width="0.5"/>
<text x="408.7" y="128.0" font-size="5.6" fill="#000" text-anchor="middle" font-weight="bold">200</text>
<line x1="429.8" y1="121.5" x2="429.8" y2="123.3" stroke="#000" stroke-width="0.5"/>
<text x="428.6" y="128.0" font-size="5.6" fill="#000" text-anchor="middle" font-weight="bold">300</text>
<line x1="449.4" y1="121.5" x2="449.4" y2="123.3" stroke="#000" stroke-width="0.5"/>
<text x="448.2" y="128.0" font-size="5.6" fill="#000" text-anchor="middle" font-weight="bold">400</text>
<line x1="470.0" y1="121.5" x2="470.0" y2="123.3" stroke="#000" stroke-width="0.5"/>
<text x="468.8" y="128.0" font-size="5.6" fill="#000" text-anchor="middle" font-weight="bold">500</text>
<line x1="490.1" y1="121.5" x2="490.1" y2="123.3" stroke="#000" stroke-width="0.5"/>
<text x="488.9" y="128.0" font-size="5.6" fill="#000" text-anchor="middle" font-weight="bold">700</text>
<text x="438.5" y="136.5" font-size="7.4" fill="#000" text-anchor="middle" font-weight="bold" textLength="34" lengthAdjust="spacingAndGlyphs">Strain (%)</text>
<text x="364.5" y="65.6" font-size="6.8" fill="#a9d8f5" text-anchor="middle" font-weight="normal" transform="rotate(-90 364.5 65.6)" textLength="32" lengthAdjust="spacingAndGlyphs">FWHM (°)</text>
<text x="514.5" y="71.0" font-size="7.2" fill="#2a9ad8" text-anchor="middle" font-weight="bold" transform="rotate(-90 514.5 71.0)" textLength="63" lengthAdjust="spacingAndGlyphs">Degree of Orientation</text>
<rect x="374.2" y="10.1" width="13.3" height="3.9" fill="url(#gLB)"/>
<text x="389.0" y="15.1" font-size="5.3" fill="#000" text-anchor="start" font-weight="bold" textLength="39.8" lengthAdjust="spacingAndGlyphs">FWHM of 0 wt%</text>
<rect x="442.1" y="9.9" width="12.9" height="3.9" fill="url(#gLegB)"/>
<text x="456.9" y="15.1" font-size="5.3" fill="#000" text-anchor="start" font-weight="bold" textLength="46" lengthAdjust="spacingAndGlyphs">FWHM of 0.05 wt%</text>
<line x1="400.4" y1="20.6" x2="412.7" y2="20.6" stroke="#9fd2f3" stroke-width="0.6"/>
<line x1="406.5" y1="19.4" x2="406.5" y2="21.8" stroke="#9fd2f3" stroke-width="0.5"/>
<line x1="405.3" y1="20.6" x2="407.7" y2="20.6" stroke="#9fd2f3" stroke-width="0.5"/>
<text x="415.0" y="22.4" font-size="5.9" fill="#000" text-anchor="start" font-weight="bold" textLength="72.2" lengthAdjust="spacingAndGlyphs">Orientation degree of 0 wt%</text>
<line x1="400.4" y1="27.9" x2="412.7" y2="27.9" stroke="#2b6e8c" stroke-width="0.7"/>
<circle cx="406.5" cy="27.9" r="1" fill="#2b6e8c"/>
<text x="415.0" y="29.5" font-size="5.9" fill="#000" text-anchor="start" font-weight="bold" textLength="79.7" lengthAdjust="spacingAndGlyphs">Orientation degree of 0.05 wt%</text>
<text x="515.3" y="11.4" font-size="15.3" fill="#000" text-anchor="start" font-weight="bold">(d)</text>
<polyline points="560.1,108.0 578.6,60.2 596.7,49.2 615.5,35.1 633.6,30.8 670.3,28.4" stroke="#7a7a7a" stroke-width="0.6" fill="none"/>
<polyline points="560.1,91.4 578.6,54.7 596.7,40.6 615.5,33.2 633.6,31.4 670.3,19.2" stroke="#ee3b3b" stroke-width="0.6" fill="none" stroke-dasharray="2,1.2"/>
<polyline points="560.1,82.2 578.6,54.1 596.7,37.5 615.5,29.0 633.6,25.3 670.3,22.8" stroke="#3aa6f0" stroke-width="0.6" fill="none" stroke-dasharray="0.8,0.8"/>
<polyline points="560.1,76.7 578.6,43.0 596.7,40.0 615.5,33.2 633.6,31.4 670.3,29.0" stroke="#77c22a" stroke-width="0.6" fill="none" stroke-dasharray="2,1.2"/>
<polyline points="560.1,73.7 578.6,69.4 596.7,53.5 615.5,48.6 633.6,41.2 670.3,33.9" stroke="#d8c8f8" stroke-width="0.3" fill="none"/>
<rect x="558.2" y="106.1" width="3.8" height="3.8" fill="#7a7a7a" stroke="#7a7a7a" stroke-width="0.4"/>
<rect x="576.7" y="58.3" width="3.8" height="3.8" fill="#7a7a7a" stroke="#7a7a7a" stroke-width="0.4"/>
<rect x="594.8" y="47.3" width="3.8" height="3.8" fill="#7a7a7a" stroke="#7a7a7a" stroke-width="0.4"/>
<rect x="613.6" y="33.2" width="3.8" height="3.8" fill="#7a7a7a" stroke="#7a7a7a" stroke-width="0.4"/>
<rect x="631.7" y="28.9" width="3.8" height="3.8" fill="#7a7a7a" stroke="#7a7a7a" stroke-width="0.4"/>
<rect x="668.4" y="26.5" width="3.8" height="3.8" fill="#7a7a7a" stroke="#7a7a7a" stroke-width="0.4"/>
<circle cx="560.1" cy="91.4" r="1.9" fill="#ee3b3b" stroke="#ee3b3b" stroke-width="0.5"/>
<circle cx="578.6" cy="54.7" r="1.9" fill="#ee3b3b" stroke="#ee3b3b" stroke-width="0.5"/>
<circle cx="596.7" cy="40.6" r="1.9" fill="#ee3b3b" stroke="#ee3b3b" stroke-width="0.5"/>
<circle cx="615.5" cy="33.2" r="1.9" fill="#ee3b3b" stroke="#ee3b3b" stroke-width="0.5"/>
<circle cx="633.6" cy="31.4" r="1.9" fill="#ee3b3b" stroke="#ee3b3b" stroke-width="0.5"/>
<circle cx="670.3" cy="19.2" r="1.9" fill="#ee3b3b" stroke="#ee3b3b" stroke-width="0.5"/>
<path d="M557.9,84.0 L560.1,80.2 L562.3,84.0Z" fill="#3aa6f0" stroke="#3aa6f0" stroke-width="0.4"/>
<path d="M576.4,55.8 L578.6,52.0 L580.8,55.8Z" fill="#3aa6f0" stroke="#3aa6f0" stroke-width="0.4"/>
<path d="M594.5,39.2 L596.7,35.4 L598.9,39.2Z" fill="#3aa6f0" stroke="#3aa6f0" stroke-width="0.4"/>
<path d="M613.3,30.7 L615.5,26.9 L617.7,30.7Z" fill="#3aa6f0" stroke="#3aa6f0" stroke-width="0.4"/>
<path d="M631.4,27.0 L633.6,23.2 L635.8,27.0Z" fill="#3aa6f0" stroke="#3aa6f0" stroke-width="0.4"/>
<path d="M668.1,24.5 L670.3,20.7 L672.5,24.5Z" fill="#3aa6f0" stroke="#3aa6f0" stroke-width="0.4"/>
<path d="M558.2,76.7 L560.1,74.8 L562.0,76.7 L560.1,78.6Z" fill="#fff" stroke="#77c22a" stroke-width="0.7"/>
<path d="M576.7,43.0 L578.6,41.1 L580.5,43.0 L578.6,44.9Z" fill="#fff" stroke="#77c22a" stroke-width="0.7"/>
<path d="M594.8,40.0 L596.7,38.1 L598.6,40.0 L596.7,41.9Z" fill="#fff" stroke="#77c22a" stroke-width="0.7"/>
<path d="M613.6,33.2 L615.5,31.3 L617.4,33.2 L615.5,35.1Z" fill="#fff" stroke="#77c22a" stroke-width="0.7"/>
<path d="M631.7,31.4 L633.6,29.5 L635.5,31.4 L633.6,33.3Z" fill="#fff" stroke="#77c22a" stroke-width="0.7"/>
<path d="M668.4,29.0 L670.3,27.1 L672.2,29.0 L670.3,30.9Z" fill="#fff" stroke="#77c22a" stroke-width="0.7"/>
<path d="M557.9,72.0 L560.1,75.8 L562.3,72.0Z" fill="#a06ef0" stroke="#a06ef0" stroke-width="0.4"/>
<path d="M576.4,67.7 L578.6,71.5 L580.8,67.7Z" fill="#a06ef0" stroke="#a06ef0" stroke-width="0.4"/>
<path d="M594.5,51.8 L596.7,55.6 L598.9,51.8Z" fill="#a06ef0" stroke="#a06ef0" stroke-width="0.4"/>
<path d="M613.3,46.9 L615.5,50.7 L617.7,46.9Z" fill="#a06ef0" stroke="#a06ef0" stroke-width="0.4"/>
<path d="M631.4,39.5 L633.6,43.3 L635.8,39.5Z" fill="#a06ef0" stroke="#a06ef0" stroke-width="0.4"/>
<path d="M668.1,32.2 L670.3,36.0 L672.5,32.2Z" fill="#a06ef0" stroke="#a06ef0" stroke-width="0.4"/>
<rect x="550.8" y="11.2" width="128.5" height="104.6" fill="none" stroke="#000" stroke-width="0.8"/>
<line x1="549.0" y1="109.2" x2="550.8" y2="109.2" stroke="#000" stroke-width="0.5"/>
<text x="548.5" y="111.4" font-size="6.5" fill="#000" text-anchor="end" font-weight="bold">86</text>
<line x1="549.8" y1="103.1" x2="550.8" y2="103.1" stroke="#000" stroke-width="0.4"/>
<line x1="549.0" y1="97.0" x2="550.8" y2="97.0" stroke="#000" stroke-width="0.5"/>
<text x="548.5" y="99.2" font-size="6.5" fill="#000" text-anchor="end" font-weight="bold">87</text>
<line x1="549.8" y1="90.8" x2="550.8" y2="90.8" stroke="#000" stroke-width="0.4"/>
<line x1="549.0" y1="84.7" x2="550.8" y2="84.7" stroke="#000" stroke-width="0.5"/>
<text x="548.5" y="86.9" font-size="6.5" fill="#000" text-anchor="end" font-weight="bold">88</text>
<line x1="549.8" y1="78.6" x2="550.8" y2="78.6" stroke="#000" stroke-width="0.4"/>
<line x1="549.0" y1="72.5" x2="550.8" y2="72.5" stroke="#000" stroke-width="0.5"/>
<text x="548.5" y="74.7" font-size="6.5" fill="#000" text-anchor="end" font-weight="bold">89</text>
<line x1="549.8" y1="66.3" x2="550.8" y2="66.3" stroke="#000" stroke-width="0.4"/>
<line x1="549.0" y1="60.2" x2="550.8" y2="60.2" stroke="#000" stroke-width="0.5"/>
<text x="548.5" y="62.4" font-size="6.5" fill="#000" text-anchor="end" font-weight="bold">90</text>
<line x1="549.8" y1="54.1" x2="550.8" y2="54.1" stroke="#000" stroke-width="0.4"/>
<line x1="549.0" y1="48.0" x2="550.8" y2="48.0" stroke="#000" stroke-width="0.5"/>
<text x="548.5" y="50.2" font-size="6.5" fill="#000" text-anchor="end" font-weight="bold">91</text>
<line x1="549.8" y1="41.8" x2="550.8" y2="41.8" stroke="#000" stroke-width="0.4"/>
<line x1="549.0" y1="35.7" x2="550.8" y2="35.7" stroke="#000" stroke-width="0.5"/>
<text x="548.5" y="37.9" font-size="6.5" fill="#000" text-anchor="end" font-weight="bold">92</text>
<line x1="549.8" y1="29.6" x2="550.8" y2="29.6" stroke="#000" stroke-width="0.4"/>
<line x1="549.0" y1="23.5" x2="550.8" y2="23.5" stroke="#000" stroke-width="0.5"/>
<text x="548.5" y="25.7" font-size="6.5" fill="#000" text-anchor="end" font-weight="bold">93</text>
<line x1="549.8" y1="17.3" x2="550.8" y2="17.3" stroke="#000" stroke-width="0.4"/>
<line x1="549.0" y1="11.2" x2="550.8" y2="11.2" stroke="#000" stroke-width="0.5"/>
<text x="548.5" y="13.4" font-size="6.5" fill="#000" text-anchor="end" font-weight="bold">94</text>
<line x1="560.1" y1="115.8" x2="560.1" y2="117.6" stroke="#000" stroke-width="0.5"/>
<text x="560.1" y="122.8" font-size="5.6" fill="#000" text-anchor="middle" font-weight="bold">100</text>
<line x1="578.6" y1="115.8" x2="578.6" y2="117.6" stroke="#000" stroke-width="0.5"/>
<text x="578.6" y="122.8" font-size="5.6" fill="#000" text-anchor="middle" font-weight="bold">200</text>
<line x1="596.7" y1="115.8" x2="596.7" y2="117.6" stroke="#000" stroke-width="0.5"/>
<text x="596.7" y="122.8" font-size="5.6" fill="#000" text-anchor="middle" font-weight="bold">300</text>
<line x1="615.5" y1="115.8" x2="615.5" y2="117.6" stroke="#000" stroke-width="0.5"/>
<text x="615.5" y="122.8" font-size="5.6" fill="#000" text-anchor="middle" font-weight="bold">400</text>
<line x1="633.6" y1="115.8" x2="633.6" y2="117.6" stroke="#000" stroke-width="0.5"/>
<text x="633.6" y="122.8" font-size="5.6" fill="#000" text-anchor="middle" font-weight="bold">500</text>
<line x1="652.2" y1="115.8" x2="652.2" y2="117.6" stroke="#000" stroke-width="0.5"/>
<text x="652.2" y="122.8" font-size="5.6" fill="#000" text-anchor="middle" font-weight="bold">600</text>
<line x1="670.3" y1="115.8" x2="670.3" y2="117.6" stroke="#000" stroke-width="0.5"/>
<text x="670.3" y="122.8" font-size="5.6" fill="#000" text-anchor="middle" font-weight="bold">700</text>
<text x="612.6" y="132.5" font-size="7.2" fill="#000" text-anchor="middle" font-weight="bold">Strain (%)</text>
<text x="537.0" y="63.0" font-size="7.2" fill="#000" text-anchor="middle" font-weight="bold" transform="rotate(-90 537.0 63.0)">Degree of Orientation</text>
<line x1="634.0" y1="76.5" x2="647.0" y2="76.5" stroke="#7a7a7a" stroke-width="0.6"/>
<rect x="638.7" y="74.7" width="3.6" height="3.6" fill="#7a7a7a" stroke="#7a7a7a" stroke-width="0.4"/>
<text x="650.0" y="78.5" font-size="5.6" fill="#000" text-anchor="start" font-weight="bold">0 wt%</text>
<line x1="634.0" y1="84.4" x2="647.0" y2="84.4" stroke="#ee3b3b" stroke-width="0.6" stroke-dasharray="1.5,1"/>
<circle cx="640.5" cy="84.4" r="1.8" fill="#ee3b3b" stroke="#ee3b3b" stroke-width="0.5"/>
<text x="650.0" y="86.4" font-size="5.6" fill="#000" text-anchor="start" font-weight="bold">0.05 wt%</text>
<line x1="634.0" y1="92.3" x2="647.0" y2="92.3" stroke="#3aa6f0" stroke-width="0.6" stroke-dasharray="0.8,0.8"/>
<path d="M638.4,93.9 L640.5,90.3 L642.6,93.9Z" fill="#3aa6f0" stroke="#3aa6f0" stroke-width="0.4"/>
<text x="650.0" y="94.3" font-size="5.6" fill="#000" text-anchor="start" font-weight="bold">0.1 wt%</text>
<line x1="634.0" y1="100.2" x2="647.0" y2="100.2" stroke="#77c22a" stroke-width="0.6" stroke-dasharray="1.5,1"/>
<path d="M638.7,100.2 L640.5,98.4 L642.3,100.2 L640.5,102.0Z" fill="#fff" stroke="#77c22a" stroke-width="0.7"/>
<text x="650.0" y="102.2" font-size="5.6" fill="#000" text-anchor="start" font-weight="bold">0.5 wt%</text>
<line x1="634.0" y1="108.1" x2="647.0" y2="108.1" stroke="#d8c8f8" stroke-width="0.6"/>
<path d="M638.4,106.5 L640.5,110.1 L642.6,106.5Z" fill="#a06ef0" stroke="#a06ef0" stroke-width="0.4"/>
<text x="650.0" y="110.1" font-size="5.6" fill="#000" text-anchor="start" font-weight="bold">1.0 wt%</text>
<text x="514.9" y="129.1" font-size="15.3" fill="#000" text-anchor="start" font-weight="bold">(h)</text>
<polyline points="551.5,238.1 554.0,238.1 556.6,238.0 559.1,237.9 561.7,237.7 564.2,237.4 566.8,237.1 569.3,236.7 571.9,236.2 574.4,235.7 577.0,235.2 579.5,234.5 582.1,233.9 584.6,233.1 587.2,232.3 589.7,231.4 592.3,230.4 594.8,229.4 597.4,228.3 599.9,227.2 602.5,226.0 605.0,224.7 607.6,223.4 610.1,222.0 612.7,220.5 615.2,219.0 617.7,217.4 620.3,215.7 622.8,214.0 625.4,212.2 627.9,210.3 630.5,208.4 633.0,206.4 635.6,204.3 638.1,202.2 640.7,200.0 643.2,197.7 645.8,195.4 648.3,193.0 650.9,190.5 653.4,188.0 656.0,185.4 658.5,182.7 661.1,180.0 663.6,177.1 666.2,174.3 668.7,171.3 671.3,168.3 673.8,165.2" stroke="#f47a62" stroke-width="0.7" fill="none"/>
<circle cx="551.5" cy="238.1" r="1.3" fill="none" stroke="#f47a62" stroke-width="0.7"/>
<circle cx="554.0" cy="238.1" r="1.3" fill="none" stroke="#f47a62" stroke-width="0.7"/>
<circle cx="556.6" cy="238.0" r="1.3" fill="none" stroke="#f47a62" stroke-width="0.7"/>
<circle cx="559.1" cy="237.9" r="1.3" fill="none" stroke="#f47a62" stroke-width="0.7"/>
<circle cx="561.7" cy="237.7" r="1.3" fill="none" stroke="#f47a62" stroke-width="0.7"/>
<circle cx="564.2" cy="237.4" r="1.3" fill="none" stroke="#f47a62" stroke-width="0.7"/>
<circle cx="566.8" cy="237.1" r="1.3" fill="none" stroke="#f47a62" stroke-width="0.7"/>
<circle cx="569.3" cy="236.7" r="1.3" fill="none" stroke="#f47a62" stroke-width="0.7"/>
<circle cx="571.9" cy="236.2" r="1.3" fill="none" stroke="#f47a62" stroke-width="0.7"/>
<circle cx="574.4" cy="235.7" r="1.3" fill="none" stroke="#f47a62" stroke-width="0.7"/>
<circle cx="577.0" cy="235.2" r="1.3" fill="none" stroke="#f47a62" stroke-width="0.7"/>
<circle cx="579.5" cy="234.5" r="1.3" fill="none" stroke="#f47a62" stroke-width="0.7"/>
<circle cx="582.1" cy="233.9" r="1.3" fill="none" stroke="#f47a62" stroke-width="0.7"/>
<circle cx="584.6" cy="233.1" r="1.3" fill="none" stroke="#f47a62" stroke-width="0.7"/>
<circle cx="587.2" cy="232.3" r="1.3" fill="none" stroke="#f47a62" stroke-width="0.7"/>
<circle cx="589.7" cy="231.4" r="1.3" fill="none" stroke="#f47a62" stroke-width="0.7"/>
<circle cx="592.3" cy="230.4" r="1.3" fill="none" stroke="#f47a62" stroke-width="0.7"/>
<circle cx="594.8" cy="229.4" r="1.3" fill="none" stroke="#f47a62" stroke-width="0.7"/>
<circle cx="597.4" cy="228.3" r="1.3" fill="none" stroke="#f47a62" stroke-width="0.7"/>
<circle cx="599.9" cy="227.2" r="1.3" fill="none" stroke="#f47a62" stroke-width="0.7"/>
<circle cx="602.5" cy="226.0" r="1.3" fill="none" stroke="#f47a62" stroke-width="0.7"/>
<circle cx="605.0" cy="224.7" r="1.3" fill="none" stroke="#f47a62" stroke-width="0.7"/>
<circle cx="607.6" cy="223.4" r="1.3" fill="none" stroke="#f47a62" stroke-width="0.7"/>
<circle cx="610.1" cy="222.0" r="1.3" fill="none" stroke="#f47a62" stroke-width="0.7"/>
<circle cx="612.7" cy="220.5" r="1.3" fill="none" stroke="#f47a62" stroke-width="0.7"/>
<circle cx="615.2" cy="219.0" r="1.3" fill="none" stroke="#f47a62" stroke-width="0.7"/>
<circle cx="617.7" cy="217.4" r="1.3" fill="none" stroke="#f47a62" stroke-width="0.7"/>
<circle cx="620.3" cy="215.7" r="1.3" fill="none" stroke="#f47a62" stroke-width="0.7"/>
<circle cx="622.8" cy="214.0" r="1.3" fill="none" stroke="#f47a62" stroke-width="0.7"/>
<circle cx="625.4" cy="212.2" r="1.3" fill="none" stroke="#f47a62" stroke-width="0.7"/>
<circle cx="627.9" cy="210.3" r="1.3" fill="none" stroke="#f47a62" stroke-width="0.7"/>
<circle cx="630.5" cy="208.4" r="1.3" fill="none" stroke="#f47a62" stroke-width="0.7"/>
<circle cx="633.0" cy="206.4" r="1.3" fill="none" stroke="#f47a62" stroke-width="0.7"/>
<circle cx="635.6" cy="204.3" r="1.3" fill="none" stroke="#f47a62" stroke-width="0.7"/>
<circle cx="638.1" cy="202.2" r="1.3" fill="none" stroke="#f47a62" stroke-width="0.7"/>
<circle cx="640.7" cy="200.0" r="1.3" fill="none" stroke="#f47a62" stroke-width="0.7"/>
<circle cx="643.2" cy="197.7" r="1.3" fill="none" stroke="#f47a62" stroke-width="0.7"/>
<circle cx="645.8" cy="195.4" r="1.3" fill="none" stroke="#f47a62" stroke-width="0.7"/>
<circle cx="648.3" cy="193.0" r="1.3" fill="none" stroke="#f47a62" stroke-width="0.7"/>
<circle cx="650.9" cy="190.5" r="1.3" fill="none" stroke="#f47a62" stroke-width="0.7"/>
<circle cx="653.4" cy="188.0" r="1.3" fill="none" stroke="#f47a62" stroke-width="0.7"/>
<circle cx="656.0" cy="185.4" r="1.3" fill="none" stroke="#f47a62" stroke-width="0.7"/>
<circle cx="658.5" cy="182.7" r="1.3" fill="none" stroke="#f47a62" stroke-width="0.7"/>
<circle cx="661.1" cy="180.0" r="1.3" fill="none" stroke="#f47a62" stroke-width="0.7"/>
<circle cx="663.6" cy="177.1" r="1.3" fill="none" stroke="#f47a62" stroke-width="0.7"/>
<circle cx="666.2" cy="174.3" r="1.3" fill="none" stroke="#f47a62" stroke-width="0.7"/>
<circle cx="668.7" cy="171.3" r="1.3" fill="none" stroke="#f47a62" stroke-width="0.7"/>
<circle cx="671.3" cy="168.3" r="1.3" fill="none" stroke="#f47a62" stroke-width="0.7"/>
<circle cx="673.8" cy="165.2" r="1.3" fill="none" stroke="#f47a62" stroke-width="0.7"/>
<polyline points="551.5,238.1 554.0,238.1 556.6,238.0 559.1,237.8 561.7,237.6 564.2,237.3 566.8,237.0 569.3,236.6 571.9,236.1 574.4,235.5 577.0,234.9 579.5,234.2 582.1,233.5 584.6,232.6 587.2,231.7 589.7,230.8 592.3,229.7 594.8,228.6 597.4,227.5 599.9,226.2 602.5,224.9 605.0,223.5 607.6,222.1 610.1,220.5 612.7,218.9 615.2,217.2 617.7,215.5 620.3,213.7 622.8,211.8 625.4,209.8 627.9,207.8 630.5,205.7 633.0,203.5 635.6,201.2 638.1,198.9 640.7,196.5 643.2,194.1 645.8,191.5 648.3,188.9 650.9,186.2 653.4,183.4 656.0,180.6 658.5,177.7 661.1,174.7 663.6,171.6 666.2,168.5 668.7,165.3 671.3,162.0 673.8,158.7" stroke="#333333" stroke-width="0.7" fill="none"/>
<rect x="550.4" y="237.0" width="2.2" height="2.2" fill="#333333" stroke="#333333" stroke-width="0.4"/>
<rect x="552.9" y="237.0" width="2.2" height="2.2" fill="#333333" stroke="#333333" stroke-width="0.4"/>
<rect x="555.5" y="236.9" width="2.2" height="2.2" fill="#333333" stroke="#333333" stroke-width="0.4"/>
<rect x="558.0" y="236.7" width="2.2" height="2.2" fill="#333333" stroke="#333333" stroke-width="0.4"/>
<rect x="560.6" y="236.5" width="2.2" height="2.2" fill="#333333" stroke="#333333" stroke-width="0.4"/>
<rect x="563.1" y="236.2" width="2.2" height="2.2" fill="#333333" stroke="#333333" stroke-width="0.4"/>
<rect x="565.7" y="235.9" width="2.2" height="2.2" fill="#333333" stroke="#333333" stroke-width="0.4"/>
<rect x="568.2" y="235.5" width="2.2" height="2.2" fill="#333333" stroke="#333333" stroke-width="0.4"/>
<rect x="570.8" y="235.0" width="2.2" height="2.2" fill="#333333" stroke="#333333" stroke-width="0.4"/>
<rect x="573.3" y="234.4" width="2.2" height="2.2" fill="#333333" stroke="#333333" stroke-width="0.4"/>
<rect x="575.9" y="233.8" width="2.2" height="2.2" fill="#333333" stroke="#333333" stroke-width="0.4"/>
<rect x="578.4" y="233.1" width="2.2" height="2.2" fill="#333333" stroke="#333333" stroke-width="0.4"/>
<rect x="581.0" y="232.4" width="2.2" height="2.2" fill="#333333" stroke="#333333" stroke-width="0.4"/>
<rect x="583.5" y="231.5" width="2.2" height="2.2" fill="#333333" stroke="#333333" stroke-width="0.4"/>
<rect x="586.1" y="230.6" width="2.2" height="2.2" fill="#333333" stroke="#333333" stroke-width="0.4"/>
<rect x="588.6" y="229.7" width="2.2" height="2.2" fill="#333333" stroke="#333333" stroke-width="0.4"/>
<rect x="591.2" y="228.6" width="2.2" height="2.2" fill="#333333" stroke="#333333" stroke-width="0.4"/>
<rect x="593.7" y="227.5" width="2.2" height="2.2" fill="#333333" stroke="#333333" stroke-width="0.4"/>
<rect x="596.3" y="226.4" width="2.2" height="2.2" fill="#333333" stroke="#333333" stroke-width="0.4"/>
<rect x="598.8" y="225.1" width="2.2" height="2.2" fill="#333333" stroke="#333333" stroke-width="0.4"/>
<rect x="601.4" y="223.8" width="2.2" height="2.2" fill="#333333" stroke="#333333" stroke-width="0.4"/>
<rect x="603.9" y="222.4" width="2.2" height="2.2" fill="#333333" stroke="#333333" stroke-width="0.4"/>
<rect x="606.5" y="221.0" width="2.2" height="2.2" fill="#333333" stroke="#333333" stroke-width="0.4"/>
<rect x="609.0" y="219.4" width="2.2" height="2.2" fill="#333333" stroke="#333333" stroke-width="0.4"/>
<rect x="611.6" y="217.8" width="2.2" height="2.2" fill="#333333" stroke="#333333" stroke-width="0.4"/>
<rect x="614.1" y="216.1" width="2.2" height="2.2" fill="#333333" stroke="#333333" stroke-width="0.4"/>
<rect x="616.6" y="214.4" width="2.2" height="2.2" fill="#333333" stroke="#333333" stroke-width="0.4"/>
<rect x="619.2" y="212.6" width="2.2" height="2.2" fill="#333333" stroke="#333333" stroke-width="0.4"/>
<rect x="621.7" y="210.7" width="2.2" height="2.2" fill="#333333" stroke="#333333" stroke-width="0.4"/>
<rect x="624.3" y="208.7" width="2.2" height="2.2" fill="#333333" stroke="#333333" stroke-width="0.4"/>
<rect x="626.8" y="206.7" width="2.2" height="2.2" fill="#333333" stroke="#333333" stroke-width="0.4"/>
<rect x="629.4" y="204.6" width="2.2" height="2.2" fill="#333333" stroke="#333333" stroke-width="0.4"/>
<rect x="631.9" y="202.4" width="2.2" height="2.2" fill="#333333" stroke="#333333" stroke-width="0.4"/>
<rect x="634.5" y="200.1" width="2.2" height="2.2" fill="#333333" stroke="#333333" stroke-width="0.4"/>
<rect x="637.0" y="197.8" width="2.2" height="2.2" fill="#333333" stroke="#333333" stroke-width="0.4"/>
<rect x="639.6" y="195.4" width="2.2" height="2.2" fill="#333333" stroke="#333333" stroke-width="0.4"/>
<rect x="642.1" y="193.0" width="2.2" height="2.2" fill="#333333" stroke="#333333" stroke-width="0.4"/>
<rect x="644.7" y="190.4" width="2.2" height="2.2" fill="#333333" stroke="#333333" stroke-width="0.4"/>
<rect x="647.2" y="187.8" width="2.2" height="2.2" fill="#333333" stroke="#333333" stroke-width="0.4"/>
<rect x="649.8" y="185.1" width="2.2" height="2.2" fill="#333333" stroke="#333333" stroke-width="0.4"/>
<rect x="652.3" y="182.3" width="2.2" height="2.2" fill="#333333" stroke="#333333" stroke-width="0.4"/>
<rect x="654.9" y="179.5" width="2.2" height="2.2" fill="#333333" stroke="#333333" stroke-width="0.4"/>
<rect x="657.4" y="176.6" width="2.2" height="2.2" fill="#333333" stroke="#333333" stroke-width="0.4"/>
<rect x="660.0" y="173.6" width="2.2" height="2.2" fill="#333333" stroke="#333333" stroke-width="0.4"/>
<rect x="662.5" y="170.5" width="2.2" height="2.2" fill="#333333" stroke="#333333" stroke-width="0.4"/>
<rect x="665.1" y="167.4" width="2.2" height="2.2" fill="#333333" stroke="#333333" stroke-width="0.4"/>
<rect x="667.6" y="164.2" width="2.2" height="2.2" fill="#333333" stroke="#333333" stroke-width="0.4"/>
<rect x="670.2" y="160.9" width="2.2" height="2.2" fill="#333333" stroke="#333333" stroke-width="0.4"/>
<rect x="672.7" y="157.6" width="2.2" height="2.2" fill="#333333" stroke="#333333" stroke-width="0.4"/>
<polyline points="551.5,238.1 554.0,238.1 556.6,238.0 559.1,237.8 561.7,237.6 564.2,237.2 566.8,236.8 569.3,236.4 571.9,235.8 574.4,235.2 577.0,234.5 579.5,233.7 582.1,232.9 584.6,232.0 587.2,231.0 589.7,229.9 592.3,228.7 594.8,227.5 597.4,226.1 599.9,224.7 602.5,223.3 605.0,221.7 607.6,220.1 610.1,218.3 612.7,216.5 615.2,214.6 617.7,212.7 620.3,210.6 622.8,208.5 625.4,206.3 627.9,204.0 630.5,201.7 633.0,199.2 635.6,196.7 638.1,194.1 640.7,191.4 643.2,188.6 645.8,185.7 648.3,182.8 650.9,179.7 653.4,176.6 656.0,173.4 658.5,170.2 661.1,166.8 663.6,163.4 666.2,159.9 668.7,156.2 671.3,152.6 673.8,148.8" stroke="#2a86f0" stroke-width="0.7" fill="none"/>
<path d="M550.0,239.3 L551.5,236.7 L553.0,239.3Z" fill="#2a86f0" stroke="#2a86f0" stroke-width="0.4"/>
<path d="M552.6,239.2 L554.0,236.6 L555.5,239.2Z" fill="#2a86f0" stroke="#2a86f0" stroke-width="0.4"/>
<path d="M555.1,239.1 L556.6,236.5 L558.1,239.1Z" fill="#2a86f0" stroke="#2a86f0" stroke-width="0.4"/>
<path d="M557.6,239.0 L559.1,236.4 L560.6,239.0Z" fill="#2a86f0" stroke="#2a86f0" stroke-width="0.4"/>
<path d="M560.2,238.7 L561.7,236.1 L563.2,238.7Z" fill="#2a86f0" stroke="#2a86f0" stroke-width="0.4"/>
<path d="M562.7,238.4 L564.2,235.8 L565.7,238.4Z" fill="#2a86f0" stroke="#2a86f0" stroke-width="0.4"/>
<path d="M565.3,238.0 L566.8,235.4 L568.3,238.0Z" fill="#2a86f0" stroke="#2a86f0" stroke-width="0.4"/>
<path d="M567.8,237.5 L569.3,234.9 L570.8,237.5Z" fill="#2a86f0" stroke="#2a86f0" stroke-width="0.4"/>
<path d="M570.4,237.0 L571.9,234.4 L573.4,237.0Z" fill="#2a86f0" stroke="#2a86f0" stroke-width="0.4"/>
<path d="M572.9,236.4 L574.4,233.8 L575.9,236.4Z" fill="#2a86f0" stroke="#2a86f0" stroke-width="0.4"/>
<path d="M575.5,235.7 L577.0,233.1 L578.5,235.7Z" fill="#2a86f0" stroke="#2a86f0" stroke-width="0.4"/>
<path d="M578.0,234.9 L579.5,232.3 L581.0,234.9Z" fill="#2a86f0" stroke="#2a86f0" stroke-width="0.4"/>
<path d="M580.6,234.1 L582.1,231.5 L583.6,234.1Z" fill="#2a86f0" stroke="#2a86f0" stroke-width="0.4"/>
<path d="M583.1,233.1 L584.6,230.5 L586.1,233.1Z" fill="#2a86f0" stroke="#2a86f0" stroke-width="0.4"/>
<path d="M585.7,232.1 L587.2,229.5 L588.7,232.1Z" fill="#2a86f0" stroke="#2a86f0" stroke-width="0.4"/>
<path d="M588.2,231.0 L589.7,228.4 L591.2,231.0Z" fill="#2a86f0" stroke="#2a86f0" stroke-width="0.4"/>
<path d="M590.8,229.9 L592.3,227.3 L593.8,229.9Z" fill="#2a86f0" stroke="#2a86f0" stroke-width="0.4"/>
<path d="M593.3,228.6 L594.8,226.0 L596.3,228.6Z" fill="#2a86f0" stroke="#2a86f0" stroke-width="0.4"/>
<path d="M595.9,227.3 L597.4,224.7 L598.9,227.3Z" fill="#2a86f0" stroke="#2a86f0" stroke-width="0.4"/>
<path d="M598.4,225.9 L599.9,223.3 L601.4,225.9Z" fill="#2a86f0" stroke="#2a86f0" stroke-width="0.4"/>
<path d="M601.0,224.4 L602.5,221.8 L604.0,224.4Z" fill="#2a86f0" stroke="#2a86f0" stroke-width="0.4"/>
<path d="M603.5,222.9 L605.0,220.3 L606.5,222.9Z" fill="#2a86f0" stroke="#2a86f0" stroke-width="0.4"/>
<path d="M606.1,221.2 L607.6,218.6 L609.1,221.2Z" fill="#2a86f0" stroke="#2a86f0" stroke-width="0.4"/>
<path d="M608.6,219.5 L610.1,216.9 L611.6,219.5Z" fill="#2a86f0" stroke="#2a86f0" stroke-width="0.4"/>
<path d="M611.2,217.7 L612.7,215.1 L614.1,217.7Z" fill="#2a86f0" stroke="#2a86f0" stroke-width="0.4"/>
<path d="M613.7,215.8 L615.2,213.2 L616.7,215.8Z" fill="#2a86f0" stroke="#2a86f0" stroke-width="0.4"/>
<path d="M616.3,213.9 L617.7,211.3 L619.2,213.9Z" fill="#2a86f0" stroke="#2a86f0" stroke-width="0.4"/>
<path d="M618.8,211.8 L620.3,209.2 L621.8,211.8Z" fill="#2a86f0" stroke="#2a86f0" stroke-width="0.4"/>
<path d="M621.3,209.7 L622.8,207.1 L624.3,209.7Z" fill="#2a86f0" stroke="#2a86f0" stroke-width="0.4"/>
<path d="M623.9,207.5 L625.4,204.9 L626.9,207.5Z" fill="#2a86f0" stroke="#2a86f0" stroke-width="0.4"/>
<path d="M626.4,205.2 L627.9,202.6 L629.4,205.2Z" fill="#2a86f0" stroke="#2a86f0" stroke-width="0.4"/>
<path d="M629.0,202.8 L630.5,200.2 L632.0,202.8Z" fill="#2a86f0" stroke="#2a86f0" stroke-width="0.4"/>
<path d="M631.5,200.4 L633.0,197.8 L634.5,200.4Z" fill="#2a86f0" stroke="#2a86f0" stroke-width="0.4"/>
<path d="M634.1,197.8 L635.6,195.2 L637.1,197.8Z" fill="#2a86f0" stroke="#2a86f0" stroke-width="0.4"/>
<path d="M636.6,195.2 L638.1,192.6 L639.6,195.2Z" fill="#2a86f0" stroke="#2a86f0" stroke-width="0.4"/>
<path d="M639.2,192.5 L640.7,189.9 L642.2,192.5Z" fill="#2a86f0" stroke="#2a86f0" stroke-width="0.4"/>
<path d="M641.7,189.7 L643.2,187.1 L644.7,189.7Z" fill="#2a86f0" stroke="#2a86f0" stroke-width="0.4"/>
<path d="M644.3,186.9 L645.8,184.3 L647.3,186.9Z" fill="#2a86f0" stroke="#2a86f0" stroke-width="0.4"/>
<path d="M646.8,183.9 L648.3,181.3 L649.8,183.9Z" fill="#2a86f0" stroke="#2a86f0" stroke-width="0.4"/>
<path d="M649.4,180.9 L650.9,178.3 L652.4,180.9Z" fill="#2a86f0" stroke="#2a86f0" stroke-width="0.4"/>
<path d="M651.9,177.8 L653.4,175.2 L654.9,177.8Z" fill="#2a86f0" stroke="#2a86f0" stroke-width="0.4"/>
<path d="M654.5,174.6 L656.0,172.0 L657.5,174.6Z" fill="#2a86f0" stroke="#2a86f0" stroke-width="0.4"/>
<path d="M657.0,171.3 L658.5,168.7 L660.0,171.3Z" fill="#2a86f0" stroke="#2a86f0" stroke-width="0.4"/>
<path d="M659.6,168.0 L661.1,165.4 L662.6,168.0Z" fill="#2a86f0" stroke="#2a86f0" stroke-width="0.4"/>
<path d="M662.1,164.5 L663.6,161.9 L665.1,164.5Z" fill="#2a86f0" stroke="#2a86f0" stroke-width="0.4"/>
<path d="M664.7,161.0 L666.2,158.4 L667.7,161.0Z" fill="#2a86f0" stroke="#2a86f0" stroke-width="0.4"/>
<path d="M667.2,157.4 L668.7,154.8 L670.2,157.4Z" fill="#2a86f0" stroke="#2a86f0" stroke-width="0.4"/>
<path d="M669.8,153.7 L671.3,151.1 L672.8,153.7Z" fill="#2a86f0" stroke="#2a86f0" stroke-width="0.4"/>
<path d="M672.3,150.0 L673.8,147.4 L675.3,150.0Z" fill="#2a86f0" stroke="#2a86f0" stroke-width="0.4"/>
<rect x="551.5" y="135.2" width="128.3" height="103.1" fill="none" stroke="#000" stroke-width="0.8"/>
<line x1="549.7" y1="238.1" x2="551.5" y2="238.1" stroke="#000" stroke-width="0.5"/>
<text x="549.0" y="240.1" font-size="6.0" fill="#000" text-anchor="end" font-weight="bold">0</text>
<line x1="550.5" y1="227.8" x2="551.5" y2="227.8" stroke="#000" stroke-width="0.4"/>
<line x1="549.7" y1="217.5" x2="551.5" y2="217.5" stroke="#000" stroke-width="0.5"/>
<text x="549.0" y="219.5" font-size="6.0" fill="#000" text-anchor="end" font-weight="bold">500</text>
<line x1="550.5" y1="207.2" x2="551.5" y2="207.2" stroke="#000" stroke-width="0.4"/>
<line x1="549.7" y1="196.9" x2="551.5" y2="196.9" stroke="#000" stroke-width="0.5"/>
<text x="549.0" y="198.9" font-size="6.0" fill="#000" text-anchor="end" font-weight="bold">1000</text>
<line x1="550.5" y1="186.6" x2="551.5" y2="186.6" stroke="#000" stroke-width="0.4"/>
<line x1="549.7" y1="176.4" x2="551.5" y2="176.4" stroke="#000" stroke-width="0.5"/>
<text x="549.0" y="178.4" font-size="6.0" fill="#000" text-anchor="end" font-weight="bold">1500</text>
<line x1="550.5" y1="166.1" x2="551.5" y2="166.1" stroke="#000" stroke-width="0.4"/>
<line x1="549.7" y1="155.8" x2="551.5" y2="155.8" stroke="#000" stroke-width="0.5"/>
<text x="549.0" y="157.8" font-size="6.0" fill="#000" text-anchor="end" font-weight="bold">2000</text>
<line x1="550.5" y1="145.5" x2="551.5" y2="145.5" stroke="#000" stroke-width="0.4"/>
<line x1="549.7" y1="135.2" x2="551.5" y2="135.2" stroke="#000" stroke-width="0.5"/>
<text x="549.0" y="137.2" font-size="6.0" fill="#000" text-anchor="end" font-weight="bold">2500</text>
<line x1="551.5" y1="238.3" x2="551.5" y2="240.1" stroke="#000" stroke-width="0.5"/>
<text x="551.5" y="245.3" font-size="5.4" fill="#000" text-anchor="middle" font-weight="bold">0</text>
<line x1="564.2" y1="238.3" x2="564.2" y2="239.3" stroke="#000" stroke-width="0.4"/>
<line x1="577.0" y1="238.3" x2="577.0" y2="240.1" stroke="#000" stroke-width="0.5"/>
<text x="577.0" y="245.3" font-size="5.4" fill="#000" text-anchor="middle" font-weight="bold">100</text>
<line x1="589.7" y1="238.3" x2="589.7" y2="239.3" stroke="#000" stroke-width="0.4"/>
<line x1="602.5" y1="238.3" x2="602.5" y2="240.1" stroke="#000" stroke-width="0.5"/>
<text x="602.5" y="245.3" font-size="5.4" fill="#000" text-anchor="middle" font-weight="bold">200</text>
<line x1="615.2" y1="238.3" x2="615.2" y2="239.3" stroke="#000" stroke-width="0.4"/>
<line x1="627.9" y1="238.3" x2="627.9" y2="240.1" stroke="#000" stroke-width="0.5"/>
<text x="627.9" y="245.3" font-size="5.4" fill="#000" text-anchor="middle" font-weight="bold">300</text>
<line x1="640.7" y1="238.3" x2="640.7" y2="239.3" stroke="#000" stroke-width="0.4"/>
<line x1="653.4" y1="238.3" x2="653.4" y2="240.1" stroke="#000" stroke-width="0.5"/>
<text x="653.4" y="245.3" font-size="5.4" fill="#000" text-anchor="middle" font-weight="bold">400</text>
<line x1="666.2" y1="238.3" x2="666.2" y2="239.3" stroke="#000" stroke-width="0.4"/>
<line x1="678.9" y1="238.3" x2="678.9" y2="240.1" stroke="#000" stroke-width="0.5"/>
<text x="678.9" y="245.3" font-size="5.4" fill="#000" text-anchor="middle" font-weight="bold">500</text>
<text x="616.0" y="255.0" font-size="6.6" fill="#000" text-anchor="middle" font-weight="bold">Time (ps)</text>
<text x="534.0" y="187.0" font-size="6.4" fill="#000" text-anchor="middle" font-weight="bold" transform="rotate(-90 534.0 187.0)">MSD</text>
<line x1="556.7" y1="143.1" x2="569.6" y2="143.1" stroke="#333333" stroke-width="0.7"/>
<rect x="561.9" y="141.9" width="2.4" height="2.4" fill="#333333" stroke="#333333" stroke-width="0.4"/>
<text x="571.9" y="145.3" font-size="6.2" fill="#000" text-anchor="start" font-weight="bold" textLength="11.399999999999999" lengthAdjust="spacingAndGlyphs">PCF</text>
<line x1="556.7" y1="151.2" x2="569.6" y2="151.2" stroke="#f47a62" stroke-width="0.7"/>
<circle cx="563.1" cy="151.25" r="1.1" fill="none" stroke="#f47a62" stroke-width="0.5"/>
<text x="571.9" y="153.4" font-size="6.2" fill="#000" text-anchor="start" font-weight="bold" textLength="30.4" lengthAdjust="spacingAndGlyphs">PCF/CNT1</text>
<line x1="556.7" y1="159.4" x2="569.6" y2="159.4" stroke="#2a86f0" stroke-width="0.7"/>
<path d="M561.7,160.5 L563.1,158.1 L564.5,160.5Z" fill="#2a86f0" stroke="#2a86f0" stroke-width="0.4"/>
<text x="571.9" y="161.6" font-size="6.2" fill="#000" text-anchor="start" font-weight="bold" textLength="30.4" lengthAdjust="spacingAndGlyphs">PCF/CNT2</text>
<text x="515.3" y="259.8" font-size="15.3" fill="#000" text-anchor="start" font-weight="bold">(i)</text>
<polyline points="553.1,356.5 553.7,356.5 554.4,356.5 555.0,356.5 555.6,356.5 556.3,356.5 556.9,356.5 557.5,356.5 558.2,356.5 558.8,356.5 559.4,356.5 560.1,356.5 560.7,356.5 561.3,356.5 562.0,356.5 562.6,356.5 563.2,356.5 563.9,356.5 564.5,356.5 565.1,356.5 565.8,356.5 566.4,356.5 567.0,356.5 567.7,356.5 568.3,356.5 568.9,356.5 569.6,356.5 570.2,356.5 570.8,356.5 571.5,356.5 572.1,356.5 572.7,356.5 573.4,356.5 574.0,356.5 574.6,356.5 575.3,356.5 575.9,356.5 576.5,356.5 577.2,356.5 577.8,356.5 578.4,356.5 579.1,356.5 579.7,356.5 580.3,356.5 581.0,356.5 581.6,356.5 582.2,356.5 582.9,356.5 583.5,356.5 584.1,356.5 584.8,356.5 585.4,356.5 586.0,356.5 586.7,356.5 587.3,356.5 587.9,356.5 588.6,356.5 589.2,356.5 589.8,356.5 590.5,356.5 591.1,356.5 591.7,356.0 592.4,355.6 593.0,355.1 593.6,354.6 594.3,353.5 594.9,352.4 595.5,351.3 596.2,350.2 596.8,348.6 597.4,347.0 598.1,345.4 598.7,343.8 599.3,341.3 600.0,338.8 600.6,335.0 601.2,331.2 601.9,324.8 602.5,318.5 603.1,312.8 603.8,307.1 604.4,314.4 605.0,321.7 605.7,325.2 606.3,328.6 606.9,328.5 607.6,328.3 608.2,328.2 608.8,328.0 609.5,326.4 610.1,324.8 610.7,323.3 611.4,321.7 612.0,320.1 612.6,318.5 613.3,316.9 613.9,315.3 614.5,313.3 615.2,311.2 615.8,309.2 616.5,307.1 617.1,306.5 617.7,305.9 618.4,308.1 619.0,310.3 619.6,314.4 620.3,318.5 620.9,319.8 621.5,321.0 622.2,322.3 622.8,323.6 623.4,323.7 624.1,323.8 624.7,324.0 625.3,324.1 626.0,324.2 626.6,324.3 627.2,324.5 627.9,324.6 628.5,324.7 629.1,324.8 629.8,325.0 630.4,325.1 631.0,325.2 631.7,325.4 632.3,325.5 632.9,325.6 633.6,325.7 634.2,325.9 634.8,326.0 635.5,326.1 636.1,327.7 636.7,329.3 637.4,330.9 638.0,332.4 638.6,332.7 639.3,332.9 639.9,333.1 640.5,333.3 641.2,333.5 641.8,333.7 642.4,333.6 643.1,333.5 643.7,333.3 644.3,333.2 645.0,333.1 645.6,332.9 646.2,332.8 646.9,332.7 647.5,332.6 648.1,332.4 648.8,332.6 649.4,332.8 650.0,333.0 650.7,333.2 651.3,333.4 651.9,333.6 652.6,333.8 653.2,334.0 653.8,334.2 654.5,334.3 655.1,334.2 655.7,334.0 656.4,333.8 657.0,333.6 657.6,333.4 658.3,333.2 658.9,333.0 659.5,332.8 660.2,332.6 660.8,332.4 661.4,332.5 662.1,332.6 662.7,332.6 663.3,332.7 664.0,332.8 664.6,332.8 665.2,332.9 665.9,332.9 666.5,333.0 667.1,333.1 667.8,333.1 668.4,333.1 669.0,333.2 669.7,333.2 670.3,333.2 670.9,333.3 671.6,333.3 672.2,333.3 672.8,333.4 673.5,333.4 674.1,333.4 674.7,333.5 675.4,333.5 676.0,333.5 676.6,333.5 677.3,333.6 677.9,333.6 678.5,333.6 679.2,333.7 679.8,333.7" stroke="#7a7a7a" stroke-width="1.0" fill="none"/>
<circle cx="553.1" cy="356.5" r="1.1" fill="#7a7a7a"/>
<circle cx="554.4" cy="356.5" r="1.1" fill="#7a7a7a"/>
<circle cx="555.6" cy="356.5" r="1.1" fill="#7a7a7a"/>
<circle cx="556.9" cy="356.5" r="1.1" fill="#7a7a7a"/>
<circle cx="558.2" cy="356.5" r="1.1" fill="#7a7a7a"/>
<circle cx="559.4" cy="356.5" r="1.1" fill="#7a7a7a"/>
<circle cx="560.7" cy="356.5" r="1.1" fill="#7a7a7a"/>
<circle cx="562.0" cy="356.5" r="1.1" fill="#7a7a7a"/>
<circle cx="563.2" cy="356.5" r="1.1" fill="#7a7a7a"/>
<circle cx="564.5" cy="356.5" r="1.1" fill="#7a7a7a"/>
<circle cx="565.8" cy="356.5" r="1.1" fill="#7a7a7a"/>
<circle cx="567.0" cy="356.5" r="1.1" fill="#7a7a7a"/>
<circle cx="568.3" cy="356.5" r="1.1" fill="#7a7a7a"/>
<circle cx="569.6" cy="356.5" r="1.1" fill="#7a7a7a"/>
<circle cx="570.8" cy="356.5" r="1.1" fill="#7a7a7a"/>
<circle cx="572.1" cy="356.5" r="1.1" fill="#7a7a7a"/>
<circle cx="573.4" cy="356.5" r="1.1" fill="#7a7a7a"/>
<circle cx="574.6" cy="356.5" r="1.1" fill="#7a7a7a"/>
<circle cx="575.9" cy="356.5" r="1.1" fill="#7a7a7a"/>
<circle cx="577.2" cy="356.5" r="1.1" fill="#7a7a7a"/>
<circle cx="578.4" cy="356.5" r="1.1" fill="#7a7a7a"/>
<circle cx="579.7" cy="356.5" r="1.1" fill="#7a7a7a"/>
<circle cx="581.0" cy="356.5" r="1.1" fill="#7a7a7a"/>
<circle cx="582.2" cy="356.5" r="1.1" fill="#7a7a7a"/>
<circle cx="583.5" cy="356.5" r="1.1" fill="#7a7a7a"/>
<circle cx="584.8" cy="356.5" r="1.1" fill="#7a7a7a"/>
<circle cx="586.0" cy="356.5" r="1.1" fill="#7a7a7a"/>
<circle cx="587.3" cy="356.5" r="1.1" fill="#7a7a7a"/>
<circle cx="588.6" cy="356.5" r="1.1" fill="#7a7a7a"/>
<circle cx="589.8" cy="356.5" r="1.1" fill="#7a7a7a"/>
<circle cx="591.1" cy="356.5" r="1.1" fill="#7a7a7a"/>
<circle cx="592.4" cy="355.6" r="1.1" fill="#7a7a7a"/>
<circle cx="593.6" cy="354.6" r="1.1" fill="#7a7a7a"/>
<circle cx="594.9" cy="352.4" r="1.1" fill="#7a7a7a"/>
<circle cx="596.2" cy="350.2" r="1.1" fill="#7a7a7a"/>
<circle cx="597.4" cy="347.0" r="1.1" fill="#7a7a7a"/>
<circle cx="598.7" cy="343.8" r="1.1" fill="#7a7a7a"/>
<circle cx="600.0" cy="338.8" r="1.1" fill="#7a7a7a"/>
<circle cx="601.2" cy="331.2" r="1.1" fill="#7a7a7a"/>
<circle cx="602.5" cy="318.5" r="1.1" fill="#7a7a7a"/>
<circle cx="603.8" cy="307.1" r="1.1" fill="#7a7a7a"/>
<circle cx="605.0" cy="321.7" r="1.1" fill="#7a7a7a"/>
<circle cx="606.3" cy="328.6" r="1.1" fill="#7a7a7a"/>
<circle cx="607.6" cy="328.3" r="1.1" fill="#7a7a7a"/>
<circle cx="608.8" cy="328.0" r="1.1" fill="#7a7a7a"/>
<circle cx="610.1" cy="324.8" r="1.1" fill="#7a7a7a"/>
<circle cx="611.4" cy="321.7" r="1.1" fill="#7a7a7a"/>
<circle cx="612.6" cy="318.5" r="1.1" fill="#7a7a7a"/>
<circle cx="613.9" cy="315.3" r="1.1" fill="#7a7a7a"/>
<circle cx="615.2" cy="311.2" r="1.1" fill="#7a7a7a"/>
<circle cx="616.5" cy="307.1" r="1.1" fill="#7a7a7a"/>
<circle cx="617.7" cy="305.9" r="1.1" fill="#7a7a7a"/>
<circle cx="619.0" cy="310.3" r="1.1" fill="#7a7a7a"/>
<circle cx="620.3" cy="318.5" r="1.1" fill="#7a7a7a"/>
<circle cx="621.5" cy="321.0" r="1.1" fill="#7a7a7a"/>
<circle cx="622.8" cy="323.6" r="1.1" fill="#7a7a7a"/>
<circle cx="624.1" cy="323.8" r="1.1" fill="#7a7a7a"/>
<circle cx="625.3" cy="324.1" r="1.1" fill="#7a7a7a"/>
<circle cx="626.6" cy="324.3" r="1.1" fill="#7a7a7a"/>
<circle cx="627.9" cy="324.6" r="1.1" fill="#7a7a7a"/>
<circle cx="629.1" cy="324.8" r="1.1" fill="#7a7a7a"/>
<circle cx="630.4" cy="325.1" r="1.1" fill="#7a7a7a"/>
<circle cx="631.7" cy="325.4" r="1.1" fill="#7a7a7a"/>
<circle cx="632.9" cy="325.6" r="1.1" fill="#7a7a7a"/>
<circle cx="634.2" cy="325.9" r="1.1" fill="#7a7a7a"/>
<circle cx="635.5" cy="326.1" r="1.1" fill="#7a7a7a"/>
<circle cx="636.7" cy="329.3" r="1.1" fill="#7a7a7a"/>
<circle cx="638.0" cy="332.4" r="1.1" fill="#7a7a7a"/>
<circle cx="639.3" cy="332.9" r="1.1" fill="#7a7a7a"/>
<circle cx="640.5" cy="333.3" r="1.1" fill="#7a7a7a"/>
<circle cx="641.8" cy="333.7" r="1.1" fill="#7a7a7a"/>
<circle cx="643.1" cy="333.5" r="1.1" fill="#7a7a7a"/>
<circle cx="644.3" cy="333.2" r="1.1" fill="#7a7a7a"/>
<circle cx="645.6" cy="332.9" r="1.1" fill="#7a7a7a"/>
<circle cx="646.9" cy="332.7" r="1.1" fill="#7a7a7a"/>
<circle cx="648.1" cy="332.4" r="1.1" fill="#7a7a7a"/>
<circle cx="649.4" cy="332.8" r="1.1" fill="#7a7a7a"/>
<circle cx="650.7" cy="333.2" r="1.1" fill="#7a7a7a"/>
<circle cx="651.9" cy="333.6" r="1.1" fill="#7a7a7a"/>
<circle cx="653.2" cy="334.0" r="1.1" fill="#7a7a7a"/>
<circle cx="654.5" cy="334.3" r="1.1" fill="#7a7a7a"/>
<circle cx="655.7" cy="334.0" r="1.1" fill="#7a7a7a"/>
<circle cx="657.0" cy="333.6" r="1.1" fill="#7a7a7a"/>
<circle cx="658.3" cy="333.2" r="1.1" fill="#7a7a7a"/>
<circle cx="659.5" cy="332.8" r="1.1" fill="#7a7a7a"/>
<circle cx="660.8" cy="332.4" r="1.1" fill="#7a7a7a"/>
<circle cx="662.1" cy="332.6" r="1.1" fill="#7a7a7a"/>
<circle cx="663.3" cy="332.7" r="1.1" fill="#7a7a7a"/>
<circle cx="664.6" cy="332.8" r="1.1" fill="#7a7a7a"/>
<circle cx="665.9" cy="332.9" r="1.1" fill="#7a7a7a"/>
<circle cx="667.1" cy="333.1" r="1.1" fill="#7a7a7a"/>
<circle cx="668.4" cy="333.1" r="1.1" fill="#7a7a7a"/>
<circle cx="669.7" cy="333.2" r="1.1" fill="#7a7a7a"/>
<circle cx="670.9" cy="333.3" r="1.1" fill="#7a7a7a"/>
<circle cx="672.2" cy="333.3" r="1.1" fill="#7a7a7a"/>
<circle cx="673.5" cy="333.4" r="1.1" fill="#7a7a7a"/>
<circle cx="674.7" cy="333.5" r="1.1" fill="#7a7a7a"/>
<circle cx="676.0" cy="333.5" r="1.1" fill="#7a7a7a"/>
<circle cx="677.3" cy="333.6" r="1.1" fill="#7a7a7a"/>
<circle cx="678.5" cy="333.6" r="1.1" fill="#7a7a7a"/>
<circle cx="679.8" cy="333.7" r="1.1" fill="#7a7a7a"/>
<polyline points="553.1,356.5 553.7,356.5 554.4,356.5 555.0,356.5 555.6,356.5 556.3,356.5 556.9,356.5 557.5,356.5 558.2,356.5 558.8,356.5 559.4,356.5 560.1,356.5 560.7,356.5 561.3,356.5 562.0,356.5 562.6,356.5 563.2,356.5 563.9,356.5 564.5,356.5 565.1,356.5 565.8,356.5 566.4,356.5 567.0,356.5 567.7,356.5 568.3,356.5 568.9,356.5 569.6,356.5 570.2,356.5 570.8,356.5 571.5,356.5 572.1,356.5 572.7,356.5 573.4,356.5 574.0,356.5 574.6,356.5 575.3,356.5 575.9,356.5 576.5,356.5 577.2,356.5 577.8,356.5 578.4,356.5 579.1,353.3 579.7,343.8 580.3,337.5 581.0,331.2 581.6,321.0 582.2,310.9 582.9,305.2 583.5,299.5 584.1,293.8 584.8,288.1 585.4,282.4 586.0,276.7 586.7,274.5 587.3,272.3 587.9,273.9 588.6,275.5 589.2,277.4 589.8,279.3 590.5,275.8 591.1,272.3 591.7,273.2 592.4,274.2 593.0,290.0 593.6,305.9 594.3,309.6 594.9,313.4 595.5,313.9 596.2,314.4 596.8,314.9 597.4,315.3 598.1,314.9 598.7,314.4 599.3,313.9 600.0,313.4 600.6,314.1 601.2,314.7 601.9,311.9 602.5,309.0 603.1,306.8 603.8,304.6 604.4,304.1 605.0,303.6 605.7,303.2 606.3,302.7 606.9,302.6 607.6,302.5 608.2,302.4 608.8,302.3 609.5,302.2 610.1,302.1 610.7,302.3 611.4,302.5 612.0,302.7 612.6,302.9 613.3,303.1 613.9,303.3 614.5,303.2 615.2,303.0 615.8,302.8 616.5,302.7 617.1,302.5 617.7,302.4 618.4,302.2 619.0,302.1 619.6,302.7 620.3,303.3 620.9,304.0 621.5,304.6 622.2,305.2 622.8,305.9 623.4,306.4 624.1,306.9 624.7,307.4 625.3,307.9 626.0,308.4 626.6,308.9 627.2,309.4 627.9,309.9 628.5,310.4 629.1,310.9 629.8,311.2 630.4,311.5 631.0,311.9 631.7,312.2 632.3,312.5 632.9,312.8 633.6,312.7 634.2,312.5 634.8,312.3 635.5,312.2 636.1,312.6 636.7,313.1 637.4,313.5 638.0,314.0 638.6,314.4 639.3,314.8 639.9,315.3 640.5,315.7 641.2,316.2 641.8,316.6 642.4,316.9 643.1,317.2 643.7,317.6 644.3,317.9 645.0,318.2 645.6,318.5 646.2,318.8 646.9,319.1 647.5,319.5 648.1,319.8 648.8,320.1 649.4,320.4 650.0,320.7 650.7,321.0 651.3,321.4 651.9,321.7 652.6,322.0 653.2,322.3 653.8,322.6 654.5,322.9 655.1,323.1 655.7,323.2 656.4,323.3 657.0,323.5 657.6,323.6 658.3,323.7 658.9,323.8 659.5,324.0 660.2,324.1 660.8,324.2 661.4,324.3 662.1,324.3 662.7,324.4 663.3,324.5 664.0,324.5 664.6,324.6 665.2,324.7 665.9,324.7 666.5,324.8 667.1,324.8 667.8,325.0 668.4,325.1 669.0,325.2 669.7,325.4 670.3,325.5 670.9,325.6 671.6,325.7 672.2,325.9 672.8,326.0 673.5,326.1 674.1,326.3 674.7,326.5 675.4,326.7 676.0,326.9 676.6,327.1 677.3,327.2 677.9,327.4 678.5,327.6 679.2,327.8 679.8,328.0" stroke="#f03c3c" stroke-width="0.6" fill="none"/>
<circle cx="553.1" cy="356.5" r="1.0" fill="#fff" stroke="#f03c3c" stroke-width="0.5"/>
<circle cx="554.4" cy="356.5" r="1.0" fill="#fff" stroke="#f03c3c" stroke-width="0.5"/>
<circle cx="555.6" cy="356.5" r="1.0" fill="#fff" stroke="#f03c3c" stroke-width="0.5"/>
<circle cx="556.9" cy="356.5" r="1.0" fill="#fff" stroke="#f03c3c" stroke-width="0.5"/>
<circle cx="558.2" cy="356.5" r="1.0" fill="#fff" stroke="#f03c3c" stroke-width="0.5"/>
<circle cx="559.4" cy="356.5" r="1.0" fill="#fff" stroke="#f03c3c" stroke-width="0.5"/>
<circle cx="560.7" cy="356.5" r="1.0" fill="#fff" stroke="#f03c3c" stroke-width="0.5"/>
<circle cx="562.0" cy="356.5" r="1.0" fill="#fff" stroke="#f03c3c" stroke-width="0.5"/>
<circle cx="563.2" cy="356.5" r="1.0" fill="#fff" stroke="#f03c3c" stroke-width="0.5"/>
<circle cx="564.5" cy="356.5" r="1.0" fill="#fff" stroke="#f03c3c" stroke-width="0.5"/>
<circle cx="565.8" cy="356.5" r="1.0" fill="#fff" stroke="#f03c3c" stroke-width="0.5"/>
<circle cx="567.0" cy="356.5" r="1.0" fill="#fff" stroke="#f03c3c" stroke-width="0.5"/>
<circle cx="568.3" cy="356.5" r="1.0" fill="#fff" stroke="#f03c3c" stroke-width="0.5"/>
<circle cx="569.6" cy="356.5" r="1.0" fill="#fff" stroke="#f03c3c" stroke-width="0.5"/>
<circle cx="570.8" cy="356.5" r="1.0" fill="#fff" stroke="#f03c3c" stroke-width="0.5"/>
<circle cx="572.1" cy="356.5" r="1.0" fill="#fff" stroke="#f03c3c" stroke-width="0.5"/>
<circle cx="573.4" cy="356.5" r="1.0" fill="#fff" stroke="#f03c3c" stroke-width="0.5"/>
<circle cx="574.6" cy="356.5" r="1.0" fill="#fff" stroke="#f03c3c" stroke-width="0.5"/>
<circle cx="575.9" cy="356.5" r="1.0" fill="#fff" stroke="#f03c3c" stroke-width="0.5"/>
<circle cx="577.2" cy="356.5" r="1.0" fill="#fff" stroke="#f03c3c" stroke-width="0.5"/>
<circle cx="578.4" cy="356.5" r="1.0" fill="#fff" stroke="#f03c3c" stroke-width="0.5"/>
<circle cx="579.7" cy="343.8" r="1.0" fill="#fff" stroke="#f03c3c" stroke-width="0.5"/>
<circle cx="581.0" cy="331.2" r="1.0" fill="#fff" stroke="#f03c3c" stroke-width="0.5"/>
<circle cx="582.2" cy="310.9" r="1.0" fill="#fff" stroke="#f03c3c" stroke-width="0.5"/>
<circle cx="583.5" cy="299.5" r="1.0" fill="#fff" stroke="#f03c3c" stroke-width="0.5"/>
<circle cx="584.8" cy="288.1" r="1.0" fill="#fff" stroke="#f03c3c" stroke-width="0.5"/>
<circle cx="586.0" cy="276.7" r="1.0" fill="#fff" stroke="#f03c3c" stroke-width="0.5"/>
<circle cx="587.3" cy="272.3" r="1.0" fill="#fff" stroke="#f03c3c" stroke-width="0.5"/>
<circle cx="588.6" cy="275.5" r="1.0" fill="#fff" stroke="#f03c3c" stroke-width="0.5"/>
<circle cx="589.8" cy="279.3" r="1.0" fill="#fff" stroke="#f03c3c" stroke-width="0.5"/>
<circle cx="591.1" cy="272.3" r="1.0" fill="#fff" stroke="#f03c3c" stroke-width="0.5"/>
<circle cx="592.4" cy="274.2" r="1.0" fill="#fff" stroke="#f03c3c" stroke-width="0.5"/>
<circle cx="593.6" cy="305.9" r="1.0" fill="#fff" stroke="#f03c3c" stroke-width="0.5"/>
<circle cx="594.9" cy="313.4" r="1.0" fill="#fff" stroke="#f03c3c" stroke-width="0.5"/>
<circle cx="596.2" cy="314.4" r="1.0" fill="#fff" stroke="#f03c3c" stroke-width="0.5"/>
<circle cx="597.4" cy="315.3" r="1.0" fill="#fff" stroke="#f03c3c" stroke-width="0.5"/>
<circle cx="598.7" cy="314.4" r="1.0" fill="#fff" stroke="#f03c3c" stroke-width="0.5"/>
<circle cx="600.0" cy="313.4" r="1.0" fill="#fff" stroke="#f03c3c" stroke-width="0.5"/>
<circle cx="601.2" cy="314.7" r="1.0" fill="#fff" stroke="#f03c3c" stroke-width="0.5"/>
<circle cx="602.5" cy="309.0" r="1.0" fill="#fff" stroke="#f03c3c" stroke-width="0.5"/>
<circle cx="603.8" cy="304.6" r="1.0" fill="#fff" stroke="#f03c3c" stroke-width="0.5"/>
<circle cx="605.0" cy="303.6" r="1.0" fill="#fff" stroke="#f03c3c" stroke-width="0.5"/>
<circle cx="606.3" cy="302.7" r="1.0" fill="#fff" stroke="#f03c3c" stroke-width="0.5"/>
<circle cx="607.6" cy="302.5" r="1.0" fill="#fff" stroke="#f03c3c" stroke-width="0.5"/>
<circle cx="608.8" cy="302.3" r="1.0" fill="#fff" stroke="#f03c3c" stroke-width="0.5"/>
<circle cx="610.1" cy="302.1" r="1.0" fill="#fff" stroke="#f03c3c" stroke-width="0.5"/>
<circle cx="611.4" cy="302.5" r="1.0" fill="#fff" stroke="#f03c3c" stroke-width="0.5"/>
<circle cx="612.6" cy="302.9" r="1.0" fill="#fff" stroke="#f03c3c" stroke-width="0.5"/>
<circle cx="613.9" cy="303.3" r="1.0" fill="#fff" stroke="#f03c3c" stroke-width="0.5"/>
<circle cx="615.2" cy="303.0" r="1.0" fill="#fff" stroke="#f03c3c" stroke-width="0.5"/>
<circle cx="616.5" cy="302.7" r="1.0" fill="#fff" stroke="#f03c3c" stroke-width="0.5"/>
<circle cx="617.7" cy="302.4" r="1.0" fill="#fff" stroke="#f03c3c" stroke-width="0.5"/>
<circle cx="619.0" cy="302.1" r="1.0" fill="#fff" stroke="#f03c3c" stroke-width="0.5"/>
<circle cx="620.3" cy="303.3" r="1.0" fill="#fff" stroke="#f03c3c" stroke-width="0.5"/>
<circle cx="621.5" cy="304.6" r="1.0" fill="#fff" stroke="#f03c3c" stroke-width="0.5"/>
<circle cx="622.8" cy="305.9" r="1.0" fill="#fff" stroke="#f03c3c" stroke-width="0.5"/>
<circle cx="624.1" cy="306.9" r="1.0" fill="#fff" stroke="#f03c3c" stroke-width="0.5"/>
<circle cx="625.3" cy="307.9" r="1.0" fill="#fff" stroke="#f03c3c" stroke-width="0.5"/>
<circle cx="626.6" cy="308.9" r="1.0" fill="#fff" stroke="#f03c3c" stroke-width="0.5"/>
<circle cx="627.9" cy="309.9" r="1.0" fill="#fff" stroke="#f03c3c" stroke-width="0.5"/>
<circle cx="629.1" cy="310.9" r="1.0" fill="#fff" stroke="#f03c3c" stroke-width="0.5"/>
<circle cx="630.4" cy="311.5" r="1.0" fill="#fff" stroke="#f03c3c" stroke-width="0.5"/>
<circle cx="631.7" cy="312.2" r="1.0" fill="#fff" stroke="#f03c3c" stroke-width="0.5"/>
<circle cx="632.9" cy="312.8" r="1.0" fill="#fff" stroke="#f03c3c" stroke-width="0.5"/>
<circle cx="634.2" cy="312.5" r="1.0" fill="#fff" stroke="#f03c3c" stroke-width="0.5"/>
<circle cx="635.5" cy="312.2" r="1.0" fill="#fff" stroke="#f03c3c" stroke-width="0.5"/>
<circle cx="636.7" cy="313.1" r="1.0" fill="#fff" stroke="#f03c3c" stroke-width="0.5"/>
<circle cx="638.0" cy="314.0" r="1.0" fill="#fff" stroke="#f03c3c" stroke-width="0.5"/>
<circle cx="639.3" cy="314.8" r="1.0" fill="#fff" stroke="#f03c3c" stroke-width="0.5"/>
<circle cx="640.5" cy="315.7" r="1.0" fill="#fff" stroke="#f03c3c" stroke-width="0.5"/>
<circle cx="641.8" cy="316.6" r="1.0" fill="#fff" stroke="#f03c3c" stroke-width="0.5"/>
<circle cx="643.1" cy="317.2" r="1.0" fill="#fff" stroke="#f03c3c" stroke-width="0.5"/>
<circle cx="644.3" cy="317.9" r="1.0" fill="#fff" stroke="#f03c3c" stroke-width="0.5"/>
<circle cx="645.6" cy="318.5" r="1.0" fill="#fff" stroke="#f03c3c" stroke-width="0.5"/>
<circle cx="646.9" cy="319.1" r="1.0" fill="#fff" stroke="#f03c3c" stroke-width="0.5"/>
<circle cx="648.1" cy="319.8" r="1.0" fill="#fff" stroke="#f03c3c" stroke-width="0.5"/>
<circle cx="649.4" cy="320.4" r="1.0" fill="#fff" stroke="#f03c3c" stroke-width="0.5"/>
<circle cx="650.7" cy="321.0" r="1.0" fill="#fff" stroke="#f03c3c" stroke-width="0.5"/>
<circle cx="651.9" cy="321.7" r="1.0" fill="#fff" stroke="#f03c3c" stroke-width="0.5"/>
<circle cx="653.2" cy="322.3" r="1.0" fill="#fff" stroke="#f03c3c" stroke-width="0.5"/>
<circle cx="654.5" cy="322.9" r="1.0" fill="#fff" stroke="#f03c3c" stroke-width="0.5"/>
<circle cx="655.7" cy="323.2" r="1.0" fill="#fff" stroke="#f03c3c" stroke-width="0.5"/>
<circle cx="657.0" cy="323.5" r="1.0" fill="#fff" stroke="#f03c3c" stroke-width="0.5"/>
<circle cx="658.3" cy="323.7" r="1.0" fill="#fff" stroke="#f03c3c" stroke-width="0.5"/>
<circle cx="659.5" cy="324.0" r="1.0" fill="#fff" stroke="#f03c3c" stroke-width="0.5"/>
<circle cx="660.8" cy="324.2" r="1.0" fill="#fff" stroke="#f03c3c" stroke-width="0.5"/>
<circle cx="662.1" cy="324.3" r="1.0" fill="#fff" stroke="#f03c3c" stroke-width="0.5"/>
<circle cx="663.3" cy="324.5" r="1.0" fill="#fff" stroke="#f03c3c" stroke-width="0.5"/>
<circle cx="664.6" cy="324.6" r="1.0" fill="#fff" stroke="#f03c3c" stroke-width="0.5"/>
<circle cx="665.9" cy="324.7" r="1.0" fill="#fff" stroke="#f03c3c" stroke-width="0.5"/>
<circle cx="667.1" cy="324.8" r="1.0" fill="#fff" stroke="#f03c3c" stroke-width="0.5"/>
<circle cx="668.4" cy="325.1" r="1.0" fill="#fff" stroke="#f03c3c" stroke-width="0.5"/>
<circle cx="669.7" cy="325.4" r="1.0" fill="#fff" stroke="#f03c3c" stroke-width="0.5"/>
<circle cx="670.9" cy="325.6" r="1.0" fill="#fff" stroke="#f03c3c" stroke-width="0.5"/>
<circle cx="672.2" cy="325.9" r="1.0" fill="#fff" stroke="#f03c3c" stroke-width="0.5"/>
<circle cx="673.5" cy="326.1" r="1.0" fill="#fff" stroke="#f03c3c" stroke-width="0.5"/>
<circle cx="674.7" cy="326.5" r="1.0" fill="#fff" stroke="#f03c3c" stroke-width="0.5"/>
<circle cx="676.0" cy="326.9" r="1.0" fill="#fff" stroke="#f03c3c" stroke-width="0.5"/>
<circle cx="677.3" cy="327.2" r="1.0" fill="#fff" stroke="#f03c3c" stroke-width="0.5"/>
<circle cx="678.5" cy="327.6" r="1.0" fill="#fff" stroke="#f03c3c" stroke-width="0.5"/>
<circle cx="679.8" cy="328.0" r="1.0" fill="#fff" stroke="#f03c3c" stroke-width="0.5"/>
<polyline points="553.1,356.5 553.7,356.5 554.4,356.5 555.0,356.5 555.6,356.5 556.3,356.5 556.9,356.5 557.5,356.5 558.2,356.5 558.8,356.5 559.4,356.5 560.1,356.5 560.7,356.5 561.3,356.5 562.0,356.5 562.6,356.5 563.2,356.5 563.9,356.5 564.5,356.5 565.1,356.5 565.8,356.5 566.4,356.5 567.0,356.5 567.7,356.5 568.3,356.5 568.9,356.5 569.6,356.5 570.2,356.5 570.8,356.5 571.5,356.5 572.1,356.5 572.7,356.5 573.4,356.5 574.0,356.5 574.6,356.5 575.3,356.5 575.9,356.5 576.5,356.5 577.2,356.5 577.8,356.5 578.4,356.5 579.1,351.4 579.7,345.7 580.3,341.6 581.0,337.5 581.6,331.2 582.2,324.8 582.9,321.7 583.5,318.5 584.1,315.3 584.8,312.2 585.4,307.4 586.0,302.7 586.7,301.7 587.3,300.8 587.9,303.3 588.6,305.9 589.2,305.2 589.8,304.6 590.5,302.7 591.1,300.8 591.7,301.7 592.4,302.7 593.0,313.8 593.6,324.8 594.3,325.8 594.9,326.7 595.5,326.7 596.2,326.7 596.8,326.7 597.4,326.7 598.1,326.7 598.7,326.7 599.3,326.7 600.0,326.7 600.6,324.2 601.2,321.7 601.9,321.0 602.5,320.4 603.1,319.8 603.8,319.1 604.4,319.0 605.0,318.8 605.7,318.6 606.3,318.4 606.9,318.2 607.6,318.0 608.2,317.8 608.8,317.6 609.5,317.4 610.1,317.2 610.7,317.1 611.4,317.0 612.0,316.9 612.6,316.7 613.3,316.6 613.9,316.5 614.5,316.4 615.2,316.2 615.8,316.1 616.5,316.0 617.1,315.8 617.7,315.7 618.4,315.5 619.0,315.3 619.6,316.2 620.3,317.0 620.9,317.9 621.5,318.7 622.2,319.6 622.8,320.4 623.4,320.6 624.1,320.8 624.7,321.0 625.3,321.2 626.0,321.4 626.6,321.6 627.2,321.7 627.9,321.9 628.5,322.1 629.1,322.3 629.8,322.4 630.4,322.4 631.0,322.5 631.7,322.6 632.3,322.6 632.9,322.7 633.6,322.8 634.2,322.8 634.8,322.9 635.5,322.9 636.1,323.3 636.7,323.6 637.4,323.9 638.0,324.2 638.6,324.5 639.3,324.8 639.9,325.2 640.5,325.5 641.2,325.8 641.8,326.1 642.4,326.4 643.1,326.6 643.7,326.9 644.3,327.1 645.0,327.4 645.6,327.6 646.2,327.9 646.9,328.1 647.5,328.4 648.1,328.6 648.8,328.8 649.4,329.0 650.0,329.2 650.7,329.4 651.3,329.6 651.9,329.8 652.6,330.0 653.2,330.2 653.8,330.4 654.5,330.5 655.1,330.6 655.7,330.6 656.4,330.6 657.0,330.7 657.6,330.7 658.3,330.7 658.9,330.8 659.5,330.8 660.2,330.8 660.8,330.9 661.4,330.9 662.1,330.9 662.7,331.0 663.3,331.0 664.0,331.0 664.6,331.0 665.2,331.1 665.9,331.1 666.5,331.1 667.1,331.2 667.8,331.2 668.4,331.3 669.0,331.4 669.7,331.4 670.3,331.5 670.9,331.6 671.6,331.6 672.2,331.7 672.8,331.7 673.5,331.8 674.1,331.9 674.7,331.9 675.4,332.0 676.0,332.1 676.6,332.1 677.3,332.2 677.9,332.3 678.5,332.3 679.2,332.4 679.8,332.4" stroke="#1a7ff0" stroke-width="0.8" fill="none"/>
<path d="M551.8,357.5 L553.1,355.3 L554.4,357.5Z" fill="#1a7ff0" stroke="#1a7ff0" stroke-width="0.4"/>
<path d="M553.1,357.5 L554.4,355.3 L555.6,357.5Z" fill="#1a7ff0" stroke="#1a7ff0" stroke-width="0.4"/>
<path d="M554.4,357.5 L555.6,355.3 L556.9,357.5Z" fill="#1a7ff0" stroke="#1a7ff0" stroke-width="0.4"/>
<path d="M555.6,357.5 L556.9,355.3 L558.2,357.5Z" fill="#1a7ff0" stroke="#1a7ff0" stroke-width="0.4"/>
<path d="M556.9,357.5 L558.2,355.3 L559.4,357.5Z" fill="#1a7ff0" stroke="#1a7ff0" stroke-width="0.4"/>
<path d="M558.2,357.5 L559.4,355.3 L560.7,357.5Z" fill="#1a7ff0" stroke="#1a7ff0" stroke-width="0.4"/>
<path d="M559.4,357.5 L560.7,355.3 L562.0,357.5Z" fill="#1a7ff0" stroke="#1a7ff0" stroke-width="0.4"/>
<path d="M560.7,357.5 L562.0,355.3 L563.2,357.5Z" fill="#1a7ff0" stroke="#1a7ff0" stroke-width="0.4"/>
<path d="M562.0,357.5 L563.2,355.3 L564.5,357.5Z" fill="#1a7ff0" stroke="#1a7ff0" stroke-width="0.4"/>
<path d="M563.2,357.5 L564.5,355.3 L565.8,357.5Z" fill="#1a7ff0" stroke="#1a7ff0" stroke-width="0.4"/>
<path d="M564.5,357.5 L565.8,355.3 L567.0,357.5Z" fill="#1a7ff0" stroke="#1a7ff0" stroke-width="0.4"/>
<path d="M565.8,357.5 L567.0,355.3 L568.3,357.5Z" fill="#1a7ff0" stroke="#1a7ff0" stroke-width="0.4"/>
<path d="M567.0,357.5 L568.3,355.3 L569.6,357.5Z" fill="#1a7ff0" stroke="#1a7ff0" stroke-width="0.4"/>
<path d="M568.3,357.5 L569.6,355.3 L570.8,357.5Z" fill="#1a7ff0" stroke="#1a7ff0" stroke-width="0.4"/>
<path d="M569.6,357.5 L570.8,355.3 L572.1,357.5Z" fill="#1a7ff0" stroke="#1a7ff0" stroke-width="0.4"/>
<path d="M570.8,357.5 L572.1,355.3 L573.4,357.5Z" fill="#1a7ff0" stroke="#1a7ff0" stroke-width="0.4"/>
<path d="M572.1,357.5 L573.4,355.3 L574.6,357.5Z" fill="#1a7ff0" stroke="#1a7ff0" stroke-width="0.4"/>
<path d="M573.4,357.5 L574.6,355.3 L575.9,357.5Z" fill="#1a7ff0" stroke="#1a7ff0" stroke-width="0.4"/>
<path d="M574.6,357.5 L575.9,355.3 L577.2,357.5Z" fill="#1a7ff0" stroke="#1a7ff0" stroke-width="0.4"/>
<path d="M575.9,357.5 L577.2,355.3 L578.4,357.5Z" fill="#1a7ff0" stroke="#1a7ff0" stroke-width="0.4"/>
<path d="M577.2,357.5 L578.4,355.3 L579.7,357.5Z" fill="#1a7ff0" stroke="#1a7ff0" stroke-width="0.4"/>
<path d="M578.4,346.7 L579.7,344.5 L581.0,346.7Z" fill="#1a7ff0" stroke="#1a7ff0" stroke-width="0.4"/>
<path d="M579.7,338.5 L581.0,336.3 L582.2,338.5Z" fill="#1a7ff0" stroke="#1a7ff0" stroke-width="0.4"/>
<path d="M581.0,325.8 L582.2,323.6 L583.5,325.8Z" fill="#1a7ff0" stroke="#1a7ff0" stroke-width="0.4"/>
<path d="M582.2,319.5 L583.5,317.3 L584.8,319.5Z" fill="#1a7ff0" stroke="#1a7ff0" stroke-width="0.4"/>
<path d="M583.5,313.2 L584.8,311.0 L586.0,313.2Z" fill="#1a7ff0" stroke="#1a7ff0" stroke-width="0.4"/>
<path d="M584.8,303.7 L586.0,301.5 L587.3,303.7Z" fill="#1a7ff0" stroke="#1a7ff0" stroke-width="0.4"/>
<path d="M586.0,301.8 L587.3,299.6 L588.6,301.8Z" fill="#1a7ff0" stroke="#1a7ff0" stroke-width="0.4"/>
<path d="M587.3,306.8 L588.6,304.6 L589.8,306.8Z" fill="#1a7ff0" stroke="#1a7ff0" stroke-width="0.4"/>
<path d="M588.6,305.6 L589.8,303.4 L591.1,305.6Z" fill="#1a7ff0" stroke="#1a7ff0" stroke-width="0.4"/>
<path d="M589.8,301.8 L591.1,299.6 L592.4,301.8Z" fill="#1a7ff0" stroke="#1a7ff0" stroke-width="0.4"/>
<path d="M591.1,303.7 L592.4,301.5 L593.6,303.7Z" fill="#1a7ff0" stroke="#1a7ff0" stroke-width="0.4"/>
<path d="M592.4,325.8 L593.6,323.6 L594.9,325.8Z" fill="#1a7ff0" stroke="#1a7ff0" stroke-width="0.4"/>
<path d="M593.6,327.7 L594.9,325.5 L596.2,327.7Z" fill="#1a7ff0" stroke="#1a7ff0" stroke-width="0.4"/>
<path d="M594.9,327.7 L596.2,325.5 L597.4,327.7Z" fill="#1a7ff0" stroke="#1a7ff0" stroke-width="0.4"/>
<path d="M596.2,327.7 L597.4,325.5 L598.7,327.7Z" fill="#1a7ff0" stroke="#1a7ff0" stroke-width="0.4"/>
<path d="M597.4,327.7 L598.7,325.5 L600.0,327.7Z" fill="#1a7ff0" stroke="#1a7ff0" stroke-width="0.4"/>
<path d="M598.7,327.7 L600.0,325.5 L601.2,327.7Z" fill="#1a7ff0" stroke="#1a7ff0" stroke-width="0.4"/>
<path d="M600.0,322.7 L601.2,320.5 L602.5,322.7Z" fill="#1a7ff0" stroke="#1a7ff0" stroke-width="0.4"/>
<path d="M601.2,321.4 L602.5,319.2 L603.8,321.4Z" fill="#1a7ff0" stroke="#1a7ff0" stroke-width="0.4"/>
<path d="M602.5,320.1 L603.8,317.9 L605.0,320.1Z" fill="#1a7ff0" stroke="#1a7ff0" stroke-width="0.4"/>
<path d="M603.8,319.8 L605.0,317.6 L606.3,319.8Z" fill="#1a7ff0" stroke="#1a7ff0" stroke-width="0.4"/>
<path d="M605.0,319.4 L606.3,317.2 L607.6,319.4Z" fill="#1a7ff0" stroke="#1a7ff0" stroke-width="0.4"/>
<path d="M606.3,319.0 L607.6,316.8 L608.8,319.0Z" fill="#1a7ff0" stroke="#1a7ff0" stroke-width="0.4"/>
<path d="M607.6,318.6 L608.8,316.4 L610.1,318.6Z" fill="#1a7ff0" stroke="#1a7ff0" stroke-width="0.4"/>
<path d="M608.9,318.2 L610.1,316.0 L611.4,318.2Z" fill="#1a7ff0" stroke="#1a7ff0" stroke-width="0.4"/>
<path d="M610.1,318.0 L611.4,315.8 L612.6,318.0Z" fill="#1a7ff0" stroke="#1a7ff0" stroke-width="0.4"/>
<path d="M611.4,317.7 L612.6,315.5 L613.9,317.7Z" fill="#1a7ff0" stroke="#1a7ff0" stroke-width="0.4"/>
<path d="M612.7,317.5 L613.9,315.3 L615.2,317.5Z" fill="#1a7ff0" stroke="#1a7ff0" stroke-width="0.4"/>
<path d="M613.9,317.2 L615.2,315.0 L616.4,317.2Z" fill="#1a7ff0" stroke="#1a7ff0" stroke-width="0.4"/>
<path d="M615.2,317.0 L616.5,314.8 L617.7,317.0Z" fill="#1a7ff0" stroke="#1a7ff0" stroke-width="0.4"/>
<path d="M616.5,316.7 L617.7,314.5 L619.0,316.7Z" fill="#1a7ff0" stroke="#1a7ff0" stroke-width="0.4"/>
<path d="M617.7,316.3 L619.0,314.1 L620.2,316.3Z" fill="#1a7ff0" stroke="#1a7ff0" stroke-width="0.4"/>
<path d="M619.0,318.0 L620.3,315.8 L621.5,318.0Z" fill="#1a7ff0" stroke="#1a7ff0" stroke-width="0.4"/>
<path d="M620.3,319.7 L621.5,317.5 L622.8,319.7Z" fill="#1a7ff0" stroke="#1a7ff0" stroke-width="0.4"/>
<path d="M621.5,321.4 L622.8,319.2 L624.0,321.4Z" fill="#1a7ff0" stroke="#1a7ff0" stroke-width="0.4"/>
<path d="M622.8,321.8 L624.1,319.6 L625.3,321.8Z" fill="#1a7ff0" stroke="#1a7ff0" stroke-width="0.4"/>
<path d="M624.1,322.2 L625.3,320.0 L626.6,322.2Z" fill="#1a7ff0" stroke="#1a7ff0" stroke-width="0.4"/>
<path d="M625.3,322.5 L626.6,320.3 L627.9,322.5Z" fill="#1a7ff0" stroke="#1a7ff0" stroke-width="0.4"/>
<path d="M626.6,322.9 L627.9,320.7 L629.1,322.9Z" fill="#1a7ff0" stroke="#1a7ff0" stroke-width="0.4"/>
<path d="M627.9,323.3 L629.1,321.1 L630.4,323.3Z" fill="#1a7ff0" stroke="#1a7ff0" stroke-width="0.4"/>
<path d="M629.1,323.4 L630.4,321.2 L631.7,323.4Z" fill="#1a7ff0" stroke="#1a7ff0" stroke-width="0.4"/>
<path d="M630.4,323.6 L631.7,321.4 L632.9,323.6Z" fill="#1a7ff0" stroke="#1a7ff0" stroke-width="0.4"/>
<path d="M631.7,323.7 L632.9,321.5 L634.2,323.7Z" fill="#1a7ff0" stroke="#1a7ff0" stroke-width="0.4"/>
<path d="M632.9,323.8 L634.2,321.6 L635.5,323.8Z" fill="#1a7ff0" stroke="#1a7ff0" stroke-width="0.4"/>
<path d="M634.2,323.9 L635.5,321.7 L636.7,323.9Z" fill="#1a7ff0" stroke="#1a7ff0" stroke-width="0.4"/>
<path d="M635.5,324.6 L636.7,322.4 L638.0,324.6Z" fill="#1a7ff0" stroke="#1a7ff0" stroke-width="0.4"/>
<path d="M636.7,325.2 L638.0,323.0 L639.3,325.2Z" fill="#1a7ff0" stroke="#1a7ff0" stroke-width="0.4"/>
<path d="M638.0,325.8 L639.3,323.6 L640.5,325.8Z" fill="#1a7ff0" stroke="#1a7ff0" stroke-width="0.4"/>
<path d="M639.3,326.5 L640.5,324.3 L641.8,326.5Z" fill="#1a7ff0" stroke="#1a7ff0" stroke-width="0.4"/>
<path d="M640.5,327.1 L641.8,324.9 L643.1,327.1Z" fill="#1a7ff0" stroke="#1a7ff0" stroke-width="0.4"/>
<path d="M641.8,327.6 L643.1,325.4 L644.3,327.6Z" fill="#1a7ff0" stroke="#1a7ff0" stroke-width="0.4"/>
<path d="M643.1,328.1 L644.3,325.9 L645.6,328.1Z" fill="#1a7ff0" stroke="#1a7ff0" stroke-width="0.4"/>
<path d="M644.3,328.6 L645.6,326.4 L646.9,328.6Z" fill="#1a7ff0" stroke="#1a7ff0" stroke-width="0.4"/>
<path d="M645.6,329.1 L646.9,326.9 L648.1,329.1Z" fill="#1a7ff0" stroke="#1a7ff0" stroke-width="0.4"/>
<path d="M646.9,329.6 L648.1,327.4 L649.4,329.6Z" fill="#1a7ff0" stroke="#1a7ff0" stroke-width="0.4"/>
<path d="M648.1,330.0 L649.4,327.8 L650.7,330.0Z" fill="#1a7ff0" stroke="#1a7ff0" stroke-width="0.4"/>
<path d="M649.4,330.4 L650.7,328.2 L651.9,330.4Z" fill="#1a7ff0" stroke="#1a7ff0" stroke-width="0.4"/>
<path d="M650.7,330.8 L651.9,328.6 L653.2,330.8Z" fill="#1a7ff0" stroke="#1a7ff0" stroke-width="0.4"/>
<path d="M651.9,331.2 L653.2,329.0 L654.5,331.2Z" fill="#1a7ff0" stroke="#1a7ff0" stroke-width="0.4"/>
<path d="M653.2,331.5 L654.5,329.3 L655.7,331.5Z" fill="#1a7ff0" stroke="#1a7ff0" stroke-width="0.4"/>
<path d="M654.5,331.6 L655.7,329.4 L657.0,331.6Z" fill="#1a7ff0" stroke="#1a7ff0" stroke-width="0.4"/>
<path d="M655.7,331.7 L657.0,329.5 L658.3,331.7Z" fill="#1a7ff0" stroke="#1a7ff0" stroke-width="0.4"/>
<path d="M657.0,331.7 L658.3,329.5 L659.5,331.7Z" fill="#1a7ff0" stroke="#1a7ff0" stroke-width="0.4"/>
<path d="M658.3,331.8 L659.5,329.6 L660.8,331.8Z" fill="#1a7ff0" stroke="#1a7ff0" stroke-width="0.4"/>
<path d="M659.5,331.8 L660.8,329.6 L662.1,331.8Z" fill="#1a7ff0" stroke="#1a7ff0" stroke-width="0.4"/>
<path d="M660.8,331.9 L662.1,329.7 L663.3,331.9Z" fill="#1a7ff0" stroke="#1a7ff0" stroke-width="0.4"/>
<path d="M662.1,332.0 L663.3,329.8 L664.6,332.0Z" fill="#1a7ff0" stroke="#1a7ff0" stroke-width="0.4"/>
<path d="M663.3,332.0 L664.6,329.8 L665.9,332.0Z" fill="#1a7ff0" stroke="#1a7ff0" stroke-width="0.4"/>
<path d="M664.6,332.1 L665.9,329.9 L667.1,332.1Z" fill="#1a7ff0" stroke="#1a7ff0" stroke-width="0.4"/>
<path d="M665.9,332.2 L667.1,330.0 L668.4,332.2Z" fill="#1a7ff0" stroke="#1a7ff0" stroke-width="0.4"/>
<path d="M667.1,332.3 L668.4,330.1 L669.7,332.3Z" fill="#1a7ff0" stroke="#1a7ff0" stroke-width="0.4"/>
<path d="M668.4,332.4 L669.7,330.2 L670.9,332.4Z" fill="#1a7ff0" stroke="#1a7ff0" stroke-width="0.4"/>
<path d="M669.7,332.5 L670.9,330.3 L672.2,332.5Z" fill="#1a7ff0" stroke="#1a7ff0" stroke-width="0.4"/>
<path d="M670.9,332.7 L672.2,330.5 L673.5,332.7Z" fill="#1a7ff0" stroke="#1a7ff0" stroke-width="0.4"/>
<path d="M672.2,332.8 L673.5,330.6 L674.7,332.8Z" fill="#1a7ff0" stroke="#1a7ff0" stroke-width="0.4"/>
<path d="M673.5,332.9 L674.7,330.7 L676.0,332.9Z" fill="#1a7ff0" stroke="#1a7ff0" stroke-width="0.4"/>
<path d="M674.7,333.1 L676.0,330.9 L677.3,333.1Z" fill="#1a7ff0" stroke="#1a7ff0" stroke-width="0.4"/>
<path d="M676.0,333.2 L677.3,331.0 L678.5,333.2Z" fill="#1a7ff0" stroke="#1a7ff0" stroke-width="0.4"/>
<path d="M677.3,333.3 L678.5,331.1 L679.8,333.3Z" fill="#1a7ff0" stroke="#1a7ff0" stroke-width="0.4"/>
<path d="M678.5,333.4 L679.8,331.2 L681.1,333.4Z" fill="#1a7ff0" stroke="#1a7ff0" stroke-width="0.4"/>
<rect x="553.1" y="255.2" width="126.7" height="101.3" fill="none" stroke="#000" stroke-width="0.8"/>
<line x1="551.3" y1="356.5" x2="553.1" y2="356.5" stroke="#000" stroke-width="0.5"/>
<text x="550.6" y="358.5" font-size="5.4" fill="#000" text-anchor="end" font-weight="bold">0</text>
<line x1="552.1" y1="350.2" x2="553.1" y2="350.2" stroke="#000" stroke-width="0.4"/>
<line x1="551.3" y1="343.8" x2="553.1" y2="343.8" stroke="#000" stroke-width="0.5"/>
<text x="550.6" y="345.8" font-size="5.4" fill="#000" text-anchor="end" font-weight="bold">2</text>
<line x1="552.1" y1="337.5" x2="553.1" y2="337.5" stroke="#000" stroke-width="0.4"/>
<line x1="551.3" y1="331.2" x2="553.1" y2="331.2" stroke="#000" stroke-width="0.5"/>
<text x="550.6" y="333.2" font-size="5.4" fill="#000" text-anchor="end" font-weight="bold">4</text>
<line x1="552.1" y1="324.8" x2="553.1" y2="324.8" stroke="#000" stroke-width="0.4"/>
<line x1="551.3" y1="318.5" x2="553.1" y2="318.5" stroke="#000" stroke-width="0.5"/>
<text x="550.6" y="320.5" font-size="5.4" fill="#000" text-anchor="end" font-weight="bold">6</text>
<line x1="552.1" y1="312.2" x2="553.1" y2="312.2" stroke="#000" stroke-width="0.4"/>
<line x1="551.3" y1="305.9" x2="553.1" y2="305.9" stroke="#000" stroke-width="0.5"/>
<text x="550.6" y="307.9" font-size="5.4" fill="#000" text-anchor="end" font-weight="bold">8</text>
<line x1="552.1" y1="299.5" x2="553.1" y2="299.5" stroke="#000" stroke-width="0.4"/>
<line x1="551.3" y1="293.2" x2="553.1" y2="293.2" stroke="#000" stroke-width="0.5"/>
<text x="550.6" y="295.2" font-size="5.4" fill="#000" text-anchor="end" font-weight="bold">10</text>
<line x1="552.1" y1="286.9" x2="553.1" y2="286.9" stroke="#000" stroke-width="0.4"/>
<line x1="551.3" y1="280.5" x2="553.1" y2="280.5" stroke="#000" stroke-width="0.5"/>
<text x="550.6" y="282.5" font-size="5.4" fill="#000" text-anchor="end" font-weight="bold">12</text>
<line x1="552.1" y1="274.2" x2="553.1" y2="274.2" stroke="#000" stroke-width="0.4"/>
<line x1="551.3" y1="267.9" x2="553.1" y2="267.9" stroke="#000" stroke-width="0.5"/>
<text x="550.6" y="269.9" font-size="5.4" fill="#000" text-anchor="end" font-weight="bold">14</text>
<line x1="552.1" y1="261.5" x2="553.1" y2="261.5" stroke="#000" stroke-width="0.4"/>
<line x1="551.3" y1="255.2" x2="553.1" y2="255.2" stroke="#000" stroke-width="0.5"/>
<text x="550.6" y="257.2" font-size="5.4" fill="#000" text-anchor="end" font-weight="bold">16</text>
<line x1="553.1" y1="356.5" x2="553.1" y2="358.3" stroke="#000" stroke-width="0.5"/>
<text x="553.1" y="363.5" font-size="5.4" fill="#000" text-anchor="middle" font-weight="bold">0.0</text>
<line x1="565.8" y1="356.5" x2="565.8" y2="357.5" stroke="#000" stroke-width="0.4"/>
<line x1="578.4" y1="356.5" x2="578.4" y2="358.3" stroke="#000" stroke-width="0.5"/>
<text x="578.4" y="363.5" font-size="5.4" fill="#000" text-anchor="middle" font-weight="bold">0.2</text>
<line x1="591.1" y1="356.5" x2="591.1" y2="357.5" stroke="#000" stroke-width="0.4"/>
<line x1="603.8" y1="356.5" x2="603.8" y2="358.3" stroke="#000" stroke-width="0.5"/>
<text x="603.8" y="363.5" font-size="5.4" fill="#000" text-anchor="middle" font-weight="bold">0.4</text>
<line x1="616.5" y1="356.5" x2="616.5" y2="357.5" stroke="#000" stroke-width="0.4"/>
<line x1="629.1" y1="356.5" x2="629.1" y2="358.3" stroke="#000" stroke-width="0.5"/>
<text x="629.1" y="363.5" font-size="5.4" fill="#000" text-anchor="middle" font-weight="bold">0.6</text>
<line x1="641.8" y1="356.5" x2="641.8" y2="357.5" stroke="#000" stroke-width="0.4"/>
<line x1="654.5" y1="356.5" x2="654.5" y2="358.3" stroke="#000" stroke-width="0.5"/>
<text x="654.5" y="363.5" font-size="5.4" fill="#000" text-anchor="middle" font-weight="bold">0.8</text>
<line x1="667.1" y1="356.5" x2="667.1" y2="357.5" stroke="#000" stroke-width="0.4"/>
<line x1="679.8" y1="356.5" x2="679.8" y2="358.3" stroke="#000" stroke-width="0.5"/>
<text x="679.8" y="363.5" font-size="5.4" fill="#000" text-anchor="middle" font-weight="bold">1.0</text>
<text x="616.0" y="371.5" font-size="6.4" fill="#000" text-anchor="middle" font-weight="bold">r (nm)</text>
<text x="537.0" y="305.0" font-size="6.4" fill="#000" text-anchor="middle" font-weight="bold" transform="rotate(-90 537.0 305.0)">g (<tspan font-style="italic">r</tspan>)</text>
<line x1="634.0" y1="262.0" x2="644.3" y2="262.0" stroke="#808080" stroke-width="0.7"/>
<circle cx="639" cy="262" r="1" fill="#808080"/>
<text x="646.5" y="264.2" font-size="5.8" fill="#000" text-anchor="start" font-weight="bold">PCF</text>
<line x1="634.0" y1="270.0" x2="644.3" y2="270.0" stroke="#f03c3c" stroke-width="0.7"/>
<circle cx="639" cy="270" r="1.1" fill="#fff" stroke="#f03c3c" stroke-width="0.5"/>
<text x="646.5" y="272.2" font-size="5.8" fill="#000" text-anchor="start" font-weight="bold">PCF/CNT1</text>
<line x1="634.0" y1="278.0" x2="644.3" y2="278.0" stroke="#1a7ff0" stroke-width="0.7"/>
<path d="M637.6,279.1 L639.0,276.7 L640.4,279.1Z" fill="#1a7ff0" stroke="#1a7ff0" stroke-width="0.4"/>
<text x="646.5" y="280.2" font-size="5.8" fill="#000" text-anchor="start" font-weight="bold">PCF/CNT2</text>
<text x="515.3" y="372.8" font-size="15.3" fill="#000" text-anchor="start" font-weight="bold">(j)</text>
<polyline points="554.2,468.9 554.3,469.1 554.5,469.3 554.6,469.5 554.8,469.6 554.9,469.8 555.1,470.0 555.2,470.2 555.4,470.3 555.5,470.5 555.7,470.7 555.8,470.9 556.0,471.1 556.1,471.2 556.3,471.4 556.4,471.6 556.6,471.8 556.7,471.8 556.9,471.6 557.0,471.4 557.2,471.1 557.3,470.9 557.5,470.7 557.6,470.5 557.8,470.3 557.9,470.0 558.1,469.8 558.2,469.6 558.4,469.4 558.5,469.2 558.7,468.9 558.8,468.7 559.0,468.5 559.1,468.3 559.3,468.0 559.4,467.8 559.6,467.6 559.7,467.4 559.9,467.2 560.0,466.9 560.2,466.7 560.3,466.5 560.5,466.3 560.6,466.1 560.8,465.8 560.9,465.6 561.1,465.4 561.2,465.2 561.4,464.9 561.5,464.7 561.7,466.1 561.8,466.1 562.0,466.1 562.1,466.1 562.3,466.0 562.4,466.0 562.6,466.0 562.7,465.9 562.9,465.9 563.0,465.8 563.2,465.8 563.3,465.8 563.5,465.7 563.6,465.7 563.8,465.6 563.9,465.6 564.1,465.5 564.2,465.5 564.4,465.5 564.5,465.4 564.7,465.4 564.8,465.4 565.0,465.3 565.1,465.3 565.3,465.3 565.4,465.3 565.6,465.3 565.7,465.2 565.9,465.2 566.0,465.2 566.2,465.2 566.3,465.3 566.5,465.3 566.6,465.3 566.8,465.3 566.9,465.3 567.1,465.4 567.2,465.4 567.4,465.4 567.5,465.5 567.7,465.5 567.8,465.5 568.0,465.6 568.1,465.6 568.3,465.7 568.4,465.7 568.6,465.8 568.7,465.8 568.9,465.8 569.0,465.9 569.2,465.9 569.3,466.0 569.5,466.0 569.6,466.0 569.8,466.0 569.9,466.1 570.1,466.1 570.2,466.1 570.4,466.1 570.5,466.1 570.7,466.1 570.8,466.1 571.0,466.1 571.1,466.1 571.3,466.1 571.4,466.1 571.6,466.0 571.7,466.0 571.9,466.0 572.0,466.0 572.2,465.9 572.3,465.9 572.5,465.8 572.6,465.8 572.8,465.8 572.9,465.7 573.1,465.7 573.2,465.6 573.4,465.6 573.5,465.5 573.7,465.5 573.8,465.5 574.0,465.4 574.1,465.4 574.3,465.4 574.4,465.3 574.6,465.3 574.7,465.3 574.9,465.3 575.0,465.3 575.2,465.2 575.3,465.2 575.5,465.2 575.6,465.2 575.8,465.3 575.9,465.3 576.1,465.3 576.2,465.3 576.4,465.3 576.5,465.4 576.7,465.4 576.8,465.4 577.0,465.5 577.1,465.5 577.3,465.5 577.4,465.6 577.6,465.6 577.7,465.7 577.9,465.7 578.0,465.8 578.2,465.8 578.3,465.9 578.5,465.9 578.6,465.9 578.8,466.0 578.9,466.0 579.1,466.0 579.2,465.0 579.4,464.9 579.5,464.9 579.7,464.8 579.8,464.8 580.0,464.7 580.1,464.7 580.3,464.6 580.4,464.6 580.6,464.5 580.7,464.5 580.9,464.5 581.0,464.4 581.2,464.4 581.3,464.3 581.5,464.3 581.6,464.3 581.8,464.2 581.9,464.2 582.1,464.2 582.2,464.1 582.4,464.1 582.5,464.1 582.7,464.1 582.8,464.0 583.0,464.0 583.1,464.0 583.3,464.0 583.4,464.0 583.6,464.0 583.7,463.9 583.9,463.9 584.0,463.9 584.2,463.9 584.3,463.9 584.5,463.9 584.6,463.9 584.8,463.9 584.9,463.9 585.1,463.9 585.2,463.9 585.4,463.9 585.5,463.9 585.6,463.9 585.8,463.9 585.9,463.9 586.1,463.9 586.2,463.9 586.4,463.9 586.5,463.9 586.7,463.9 586.8,463.9 587.0,463.9 587.1,463.9 587.3,463.9 587.4,463.9 587.6,463.8 587.7,463.8 587.9,463.8 588.0,463.8 588.2,463.7 588.3,463.7 588.5,463.7 588.6,463.6 588.8,463.6 588.9,463.6 589.1,463.5 589.2,463.5 589.4,463.4 589.5,463.4 589.7,463.3 589.8,463.3 590.0,463.2 590.1,463.2 590.3,463.1 590.4,463.0 590.6,463.0 590.7,462.9 590.9,462.8 591.0,462.8 591.2,462.7 591.3,462.6 591.5,462.5 591.6,462.5 592.0,462.3 592.4,462.1 592.8,461.9 593.1,461.7 593.5,461.6 593.9,461.4 594.3,461.3 594.6,461.1 595.0,461.0 595.4,460.9 595.8,460.8 596.1,460.8 596.5,460.7 596.9,460.6 597.3,460.6 597.6,460.6 598.0,460.5 598.4,460.5 598.8,460.5 599.1,460.4 599.5,460.4 599.9,460.3 600.3,460.2 600.6,460.1 601.0,460.0 601.4,459.9 601.7,459.8 602.1,459.6 602.5,459.4 602.9,459.3 603.2,459.1 603.6,458.9 604.0,458.7 604.4,458.4 604.7,458.2 605.1,458.0 605.5,457.8 605.9,457.6 606.2,457.4 606.6,457.2 607.0,457.1 607.4,456.9 607.7,456.8 608.1,456.7 608.5,456.6 608.9,456.5 609.2,456.4 609.6,456.3 610.0,456.3 610.4,456.2 610.7,456.1 611.1,456.1 611.5,456.0 611.9,455.9 612.2,455.9 612.6,455.8 613.0,455.7 613.4,455.6 613.7,455.4 614.1,455.3 614.5,455.1 614.9,454.9 615.2,454.7 615.6,454.5 616.0,454.3 616.4,454.1 616.7,453.8 617.1,453.6 617.5,453.4 617.8,453.1 618.2,452.9 618.6,452.7 619.0,452.5 619.3,452.3 619.7,452.1 620.1,452.0 620.5,451.8 620.8,451.7 621.2,451.6 621.6,451.5 622.0,451.4 622.3,451.3 622.7,451.2 623.1,451.1 623.5,451.1 623.8,451.0 624.2,450.9 624.6,450.8 625.0,450.7 625.3,450.6 625.7,450.5 626.1,450.3 626.5,450.2 626.8,450.0 627.2,449.8 627.6,449.6 628.0,449.4 628.3,449.1 628.7,448.9 629.1,448.7 629.5,448.4 629.8,448.2 630.2,447.9 630.6,447.7 631.0,447.4 631.3,447.2 631.7,447.0 632.1,446.8 632.4,446.6 632.8,446.5 633.2,446.3 633.6,446.2 633.9,446.0 634.3,445.9 634.7,445.8 635.1,445.7 635.4,445.6 635.8,445.5 636.2,445.4 636.6,445.4 636.9,445.3 637.3,445.1 637.7,445.0 638.1,444.9 638.4,444.7 638.8,444.6 639.2,444.4 639.6,444.2 639.9,444.0 640.3,443.8 640.7,443.5 641.1,443.3 641.4,443.0 641.8,442.7 642.2,442.5 642.6,442.2 642.9,442.0 643.3,441.7 643.7,441.5 644.1,441.2 644.4,441.0 644.8,440.8 645.2,440.6 645.6,440.5 645.9,440.3 646.3,440.1 646.7,440.0 647.1,439.9 647.4,439.8 647.8,439.7 648.2,439.6 648.5,439.5 648.9,439.4 649.3,439.3 649.7,439.1 650.0,439.0 650.4,438.9 650.8,438.7 651.2,438.5 651.5,438.4 651.9,438.2 652.3,437.9 652.7,437.7 653.0,437.5 653.4,437.2 653.8,436.9 654.2,436.7 654.5,436.4 654.9,436.1 655.3,435.9 655.7,435.6 656.0,435.3 656.4,435.1 656.8,434.8 657.2,434.6 657.5,434.4 657.9,434.2 658.3,434.0 658.7,433.9 659.0,433.7 659.4,433.6 659.8,433.5 660.2,433.3 660.5,433.2 660.9,433.1 661.3,433.0 661.7,432.9 662.0,432.7 662.4,432.6 662.8,432.5 663.2,432.3 663.5,432.1 663.9,431.9 664.3,431.7 664.6,431.5 665.0,431.3 665.4,431.0 665.8,430.8 666.1,430.5 666.5,430.2 666.9,429.9 667.3,429.7 667.6,429.4 668.0,429.1 668.4,428.8 668.8,428.6 669.1,428.3 669.5,428.1 669.9,427.8 670.3,427.6 670.6,427.4 671.0,427.2 671.4,427.1 671.8,426.9 672.1,426.8 672.5,426.6 672.9,426.5 673.3,426.4 673.6,426.3 674.0,426.1 674.4,426.0 674.8,425.9 675.1,425.7 675.5,425.6 675.9,425.4 676.3,425.2" stroke="#666666" stroke-width="2.6" fill="none"/>
<polyline points="554.2,449.7 554.3,450.8 554.5,451.9 554.6,452.9 554.8,454.0 554.9,455.0 555.1,456.1 555.2,457.2 555.4,458.2 555.5,459.3 555.7,453.9 555.8,453.4 556.0,452.9 556.1,452.5 556.3,452.2 556.4,452.0 556.6,451.9 556.7,451.9 556.9,452.0 557.0,452.2 557.2,452.5 557.3,452.9 557.5,453.3 557.6,453.9 557.8,454.4 557.9,455.0 558.1,455.6 558.2,456.2 558.4,456.8 558.5,457.4 558.7,457.9 558.8,458.4 559.0,458.8 559.1,459.1 559.3,459.4 559.4,459.5 559.6,459.6 559.7,459.5 559.9,459.4 560.0,459.1 560.2,458.8 560.3,458.4 560.5,457.9 560.6,457.4 560.8,456.8 560.9,456.2 561.1,455.5 561.2,454.9 561.4,454.3 561.5,453.7 561.7,453.1 561.8,452.6 562.0,452.2 562.1,451.8 562.3,451.5 562.4,451.4 562.6,451.3 562.7,451.2 562.9,451.3 563.0,451.5 563.2,451.7 563.3,452.1 563.5,452.5 563.6,452.9 563.8,453.4 563.9,453.9 564.1,454.5 564.2,455.0 564.4,455.5 564.5,456.0 564.7,456.5 564.8,456.9 565.0,457.2 565.1,457.5 565.3,457.7 565.4,457.8 565.6,457.9 565.7,457.8 565.9,457.7 566.0,457.4 566.2,457.1 566.3,456.7 566.5,456.3 566.6,455.8 566.8,455.3 566.9,454.7 567.1,454.2 567.2,453.6 567.4,453.0 567.5,452.5 567.7,452.0 567.8,451.5 568.0,451.1 568.1,450.8 568.3,450.5 568.4,450.3 568.6,450.2 568.7,450.2 568.9,450.3 569.0,450.4 569.2,450.7 569.3,450.9 569.5,451.3 569.6,451.7 569.8,452.1 569.9,452.6 570.1,453.0 570.2,453.5 570.4,454.0 570.5,454.4 570.7,454.8 570.8,455.1 571.0,455.5 571.1,455.7 571.3,455.9 571.4,456.0 571.6,456.0 571.7,455.9 571.9,455.8 572.0,455.6 572.2,455.3 572.3,454.9 572.5,454.5 572.6,454.1 572.8,453.6 572.9,453.1 573.1,452.6 573.2,452.1 573.4,451.5 573.5,451.1 573.7,450.6 573.8,450.2 574.0,449.8 574.1,449.5 574.3,449.3 574.4,449.1 574.6,449.0 574.7,449.0 574.9,449.0 575.0,449.1 575.2,449.3 575.3,449.6 575.5,449.9 575.6,450.2 575.8,450.6 575.9,451.0 576.1,451.4 576.2,451.8 576.4,452.2 576.5,452.6 576.7,453.0 576.8,453.3 577.0,453.5 577.1,453.8 577.3,453.9 577.4,454.0 577.6,454.0 577.7,453.9 577.9,453.8 578.0,453.6 578.2,453.3 578.3,453.0 578.5,452.7 578.6,452.2 578.8,451.8 578.9,451.3 579.1,450.9 579.2,450.4 579.4,449.9 579.5,449.5 579.7,449.0 579.8,448.6 580.0,448.3 580.1,448.0 580.3,447.8 580.4,447.6 580.6,447.5 580.7,447.5 580.9,447.5 581.0,447.6 581.2,447.8 581.3,448.0 581.5,448.3 581.6,448.6 581.8,448.9 581.9,449.3 582.1,449.6 582.2,450.0 582.4,450.4 582.5,450.7 582.7,451.0 582.8,451.3 583.0,451.5 583.1,451.7 583.3,451.8 583.4,451.9 583.6,451.9 583.7,451.8 583.9,451.7 584.0,451.5 584.2,451.3 584.3,451.0 584.5,450.7 584.6,450.3 584.8,449.9 584.9,449.4 585.1,449.0 585.2,448.6 585.4,448.1 585.5,447.7 585.6,447.3 585.8,447.0 585.9,446.6 586.1,446.4 586.2,446.2 586.4,446.0 586.5,445.9 586.7,445.9 586.8,445.9 587.0,446.0 587.1,446.1 587.3,446.3 587.4,446.6 587.6,446.8 587.7,447.1 587.9,447.4 588.0,447.8 588.2,448.1 588.3,448.4 588.5,448.7 588.6,449.0 588.8,449.2 588.9,449.4 589.1,449.6 589.2,449.7 589.4,449.8 589.5,449.8 589.7,449.7 589.8,449.6 590.0,449.4 590.1,449.2 590.3,448.9 590.4,448.6 590.6,448.2 590.7,447.8 590.9,447.5 591.0,447.0 591.2,446.6 591.3,446.2 591.5,445.8 591.6,445.5 592.0,444.7 592.4,444.2 592.8,444.1 593.1,444.3 593.5,444.8 593.9,445.5 594.3,446.2 594.6,446.9 595.0,447.3 595.4,447.5 595.8,447.4 596.1,447.0 596.5,446.3 596.9,445.4 597.3,444.4 597.6,443.5 598.0,442.8 598.4,442.4 598.8,442.2 599.1,442.4 599.5,442.8 599.9,443.4 600.3,444.1 600.6,444.7 601.0,445.1 601.4,445.3 601.7,445.1 602.1,444.7 602.5,444.0 602.9,443.2 603.2,442.3 603.6,441.5 604.0,440.8 604.4,440.4 604.7,440.2 605.1,440.4 605.5,440.7 605.9,441.3 606.2,441.9 606.6,442.4 607.0,442.8 607.4,442.9 607.7,442.8 608.1,442.4 608.5,441.7 608.9,441.0 609.2,440.1 609.6,439.3 610.0,438.7 610.4,438.2 610.7,438.1 611.1,438.2 611.5,438.6 611.9,439.1 612.2,439.6 612.6,440.1 613.0,440.4 613.4,440.5 613.7,440.4 614.1,440.0 614.5,439.4 614.9,438.6 615.2,437.8 615.6,437.1 616.0,436.5 616.4,436.1 616.7,435.9 617.1,436.0 617.5,436.3 617.8,436.8 618.2,437.2 618.6,437.7 619.0,438.0 619.3,438.1 619.7,438.0 620.1,437.6 620.5,437.0 620.8,436.3 621.2,435.5 621.6,434.8 622.0,434.2 622.3,433.8 622.7,433.6 623.1,433.7 623.5,434.0 623.8,434.4 624.2,434.8 624.6,435.2 625.0,435.5 625.3,435.6 625.7,435.5 626.1,435.1 626.5,434.5 626.8,433.8 627.2,433.1 627.6,432.4 628.0,431.8 628.3,431.4 628.7,431.3 629.1,431.3 629.5,431.6 629.8,431.9 630.2,432.4 630.6,432.7 631.0,433.0 631.3,433.1 631.7,432.9 632.1,432.6 632.4,432.0 632.8,431.3 633.2,430.6 633.6,429.9 633.9,429.4 634.3,429.0 634.7,428.8 635.1,428.9 635.4,429.1 635.8,429.4 636.2,429.8 636.6,430.2 636.9,430.4 637.3,430.5 637.7,430.3 638.1,430.0 638.4,429.4 638.8,428.8 639.2,428.1 639.6,427.4 639.9,426.9 640.3,426.5 640.7,426.3 641.1,426.4 641.4,426.6 641.8,426.9 642.2,427.3 642.6,427.6 642.9,427.8 643.3,427.8 643.7,427.7 644.1,427.3 644.4,426.8 644.8,426.2 645.2,425.5 645.6,424.8 645.9,424.3 646.3,423.9 646.7,423.8 647.1,423.8 647.4,424.0 647.8,424.3 648.2,424.6 648.5,424.9 648.9,425.1 649.3,425.2 649.7,425.0 650.0,424.7 650.4,424.1 650.8,423.5 651.2,422.8 651.5,422.2 651.9,421.7 652.3,421.3 652.7,421.1 653.0,421.1 653.4,421.3 653.8,421.6 654.2,421.9 654.5,422.2 654.9,422.4 655.3,422.4 655.7,422.3 656.0,421.9 656.4,421.4 656.8,420.8 657.2,420.1 657.5,419.5 657.9,419.0 658.3,418.6 658.7,418.5 659.0,418.5 659.4,418.6 659.8,418.9 660.2,419.2 660.5,419.5 660.9,419.7 661.3,419.7 661.7,419.5 662.0,419.2 662.4,418.7 662.8,418.0 663.2,417.4 663.5,416.8 663.9,416.3 664.3,415.9 664.6,415.7 665.0,415.7 665.4,415.9 665.8,416.1 666.1,416.4 666.5,416.7 666.9,416.9 667.3,416.9 667.6,416.7 668.0,416.4 668.4,415.9 668.8,415.3 669.1,414.6 669.5,414.0 669.9,413.5 670.3,413.1 670.6,412.9 671.0,412.9 671.4,413.1 671.8,413.3 672.1,413.6 672.5,413.9 672.9,414.0 673.3,414.0 673.6,413.9 674.0,413.5 674.4,413.0 674.8,412.4 675.1,411.8 675.5,411.2 675.9,410.7 676.3,410.3" stroke="#3a9af5" stroke-width="2.6" fill="none"/>
<circle cx="554.2" cy="420.2" r="1.2" fill="none" stroke="#f7a08a" stroke-width="0.7"/>
<circle cx="554.3" cy="423.7" r="1.2" fill="none" stroke="#f7a08a" stroke-width="0.7"/>
<circle cx="554.5" cy="427.3" r="1.2" fill="none" stroke="#f7a08a" stroke-width="0.7"/>
<circle cx="554.6" cy="430.8" r="1.2" fill="none" stroke="#f7a08a" stroke-width="0.7"/>
<circle cx="554.8" cy="434.4" r="1.2" fill="none" stroke="#f7a08a" stroke-width="0.7"/>
<circle cx="554.9" cy="433.7" r="1.2" fill="none" stroke="#f7a08a" stroke-width="0.7"/>
<circle cx="555.1" cy="437.2" r="1.2" fill="none" stroke="#f7a08a" stroke-width="0.7"/>
<circle cx="555.2" cy="440.2" r="1.2" fill="none" stroke="#f7a08a" stroke-width="0.7"/>
<circle cx="555.4" cy="442.8" r="1.2" fill="none" stroke="#f7a08a" stroke-width="0.7"/>
<circle cx="555.5" cy="444.8" r="1.2" fill="none" stroke="#f7a08a" stroke-width="0.7"/>
<circle cx="555.7" cy="446.2" r="1.2" fill="none" stroke="#f7a08a" stroke-width="0.7"/>
<circle cx="555.8" cy="446.8" r="1.2" fill="none" stroke="#f7a08a" stroke-width="0.7"/>
<circle cx="556.0" cy="446.7" r="1.2" fill="none" stroke="#f7a08a" stroke-width="0.7"/>
<circle cx="556.1" cy="445.9" r="1.2" fill="none" stroke="#f7a08a" stroke-width="0.7"/>
<circle cx="556.3" cy="444.4" r="1.2" fill="none" stroke="#f7a08a" stroke-width="0.7"/>
<circle cx="556.4" cy="442.4" r="1.2" fill="none" stroke="#f7a08a" stroke-width="0.7"/>
<circle cx="556.6" cy="439.9" r="1.2" fill="none" stroke="#f7a08a" stroke-width="0.7"/>
<circle cx="556.7" cy="437.0" r="1.2" fill="none" stroke="#f7a08a" stroke-width="0.7"/>
<circle cx="556.9" cy="433.9" r="1.2" fill="none" stroke="#f7a08a" stroke-width="0.7"/>
<circle cx="557.0" cy="430.7" r="1.2" fill="none" stroke="#f7a08a" stroke-width="0.7"/>
<circle cx="557.2" cy="427.5" r="1.2" fill="none" stroke="#f7a08a" stroke-width="0.7"/>
<circle cx="557.3" cy="424.6" r="1.2" fill="none" stroke="#f7a08a" stroke-width="0.7"/>
<circle cx="557.5" cy="421.9" r="1.2" fill="none" stroke="#f7a08a" stroke-width="0.7"/>
<circle cx="557.6" cy="419.6" r="1.2" fill="none" stroke="#f7a08a" stroke-width="0.7"/>
<circle cx="557.8" cy="417.9" r="1.2" fill="none" stroke="#f7a08a" stroke-width="0.7"/>
<circle cx="557.9" cy="416.6" r="1.2" fill="none" stroke="#f7a08a" stroke-width="0.7"/>
<circle cx="558.1" cy="416.0" r="1.2" fill="none" stroke="#f7a08a" stroke-width="0.7"/>
<circle cx="558.2" cy="415.9" r="1.2" fill="none" stroke="#f7a08a" stroke-width="0.7"/>
<circle cx="558.4" cy="416.4" r="1.2" fill="none" stroke="#f7a08a" stroke-width="0.7"/>
<circle cx="558.5" cy="417.5" r="1.2" fill="none" stroke="#f7a08a" stroke-width="0.7"/>
<circle cx="558.7" cy="419.0" r="1.2" fill="none" stroke="#f7a08a" stroke-width="0.7"/>
<circle cx="558.8" cy="421.0" r="1.2" fill="none" stroke="#f7a08a" stroke-width="0.7"/>
<circle cx="559.0" cy="423.3" r="1.2" fill="none" stroke="#f7a08a" stroke-width="0.7"/>
<circle cx="559.1" cy="425.8" r="1.2" fill="none" stroke="#f7a08a" stroke-width="0.7"/>
<circle cx="559.3" cy="428.4" r="1.2" fill="none" stroke="#f7a08a" stroke-width="0.7"/>
<circle cx="559.4" cy="431.1" r="1.2" fill="none" stroke="#f7a08a" stroke-width="0.7"/>
<circle cx="559.6" cy="433.6" r="1.2" fill="none" stroke="#f7a08a" stroke-width="0.7"/>
<circle cx="559.7" cy="436.0" r="1.2" fill="none" stroke="#f7a08a" stroke-width="0.7"/>
<circle cx="559.9" cy="438.1" r="1.2" fill="none" stroke="#f7a08a" stroke-width="0.7"/>
<circle cx="560.0" cy="439.9" r="1.2" fill="none" stroke="#f7a08a" stroke-width="0.7"/>
<circle cx="560.2" cy="441.2" r="1.2" fill="none" stroke="#f7a08a" stroke-width="0.7"/>
<circle cx="560.3" cy="442.1" r="1.2" fill="none" stroke="#f7a08a" stroke-width="0.7"/>
<circle cx="560.5" cy="442.5" r="1.2" fill="none" stroke="#f7a08a" stroke-width="0.7"/>
<circle cx="560.6" cy="442.5" r="1.2" fill="none" stroke="#f7a08a" stroke-width="0.7"/>
<circle cx="560.8" cy="441.9" r="1.2" fill="none" stroke="#f7a08a" stroke-width="0.7"/>
<circle cx="560.9" cy="441.0" r="1.2" fill="none" stroke="#f7a08a" stroke-width="0.7"/>
<circle cx="561.1" cy="439.6" r="1.2" fill="none" stroke="#f7a08a" stroke-width="0.7"/>
<circle cx="561.2" cy="437.9" r="1.2" fill="none" stroke="#f7a08a" stroke-width="0.7"/>
<circle cx="561.4" cy="435.9" r="1.2" fill="none" stroke="#f7a08a" stroke-width="0.7"/>
<circle cx="561.5" cy="433.7" r="1.2" fill="none" stroke="#f7a08a" stroke-width="0.7"/>
<circle cx="561.7" cy="431.4" r="1.2" fill="none" stroke="#f7a08a" stroke-width="0.7"/>
<circle cx="561.8" cy="429.1" r="1.2" fill="none" stroke="#f7a08a" stroke-width="0.7"/>
<circle cx="562.0" cy="426.7" r="1.2" fill="none" stroke="#f7a08a" stroke-width="0.7"/>
<circle cx="562.1" cy="424.5" r="1.2" fill="none" stroke="#f7a08a" stroke-width="0.7"/>
<circle cx="562.3" cy="422.5" r="1.2" fill="none" stroke="#f7a08a" stroke-width="0.7"/>
<circle cx="562.4" cy="420.8" r="1.2" fill="none" stroke="#f7a08a" stroke-width="0.7"/>
<circle cx="562.6" cy="419.3" r="1.2" fill="none" stroke="#f7a08a" stroke-width="0.7"/>
<circle cx="562.7" cy="418.2" r="1.2" fill="none" stroke="#f7a08a" stroke-width="0.7"/>
<circle cx="562.9" cy="417.5" r="1.2" fill="none" stroke="#f7a08a" stroke-width="0.7"/>
<circle cx="563.0" cy="417.1" r="1.2" fill="none" stroke="#f7a08a" stroke-width="0.7"/>
<circle cx="563.2" cy="417.1" r="1.2" fill="none" stroke="#f7a08a" stroke-width="0.7"/>
<circle cx="563.3" cy="417.6" r="1.2" fill="none" stroke="#f7a08a" stroke-width="0.7"/>
<circle cx="563.5" cy="418.3" r="1.2" fill="none" stroke="#f7a08a" stroke-width="0.7"/>
<circle cx="563.6" cy="419.4" r="1.2" fill="none" stroke="#f7a08a" stroke-width="0.7"/>
<circle cx="563.8" cy="420.8" r="1.2" fill="none" stroke="#f7a08a" stroke-width="0.7"/>
<circle cx="563.9" cy="422.3" r="1.2" fill="none" stroke="#f7a08a" stroke-width="0.7"/>
<circle cx="564.1" cy="424.1" r="1.2" fill="none" stroke="#f7a08a" stroke-width="0.7"/>
<circle cx="564.2" cy="425.9" r="1.2" fill="none" stroke="#f7a08a" stroke-width="0.7"/>
<circle cx="564.4" cy="427.9" r="1.2" fill="none" stroke="#f7a08a" stroke-width="0.7"/>
<circle cx="564.5" cy="429.8" r="1.2" fill="none" stroke="#f7a08a" stroke-width="0.7"/>
<circle cx="564.7" cy="431.6" r="1.2" fill="none" stroke="#f7a08a" stroke-width="0.7"/>
<circle cx="564.8" cy="433.3" r="1.2" fill="none" stroke="#f7a08a" stroke-width="0.7"/>
<circle cx="565.0" cy="434.8" r="1.2" fill="none" stroke="#f7a08a" stroke-width="0.7"/>
<circle cx="565.1" cy="436.1" r="1.2" fill="none" stroke="#f7a08a" stroke-width="0.7"/>
<circle cx="565.3" cy="437.1" r="1.2" fill="none" stroke="#f7a08a" stroke-width="0.7"/>
<circle cx="565.4" cy="437.8" r="1.2" fill="none" stroke="#f7a08a" stroke-width="0.7"/>
<circle cx="565.6" cy="438.3" r="1.2" fill="none" stroke="#f7a08a" stroke-width="0.7"/>
<circle cx="565.7" cy="438.4" r="1.2" fill="none" stroke="#f7a08a" stroke-width="0.7"/>
<circle cx="565.9" cy="438.2" r="1.2" fill="none" stroke="#f7a08a" stroke-width="0.7"/>
<circle cx="566.0" cy="437.7" r="1.2" fill="none" stroke="#f7a08a" stroke-width="0.7"/>
<circle cx="566.2" cy="437.0" r="1.2" fill="none" stroke="#f7a08a" stroke-width="0.7"/>
<circle cx="566.3" cy="435.9" r="1.2" fill="none" stroke="#f7a08a" stroke-width="0.7"/>
<circle cx="566.5" cy="434.7" r="1.2" fill="none" stroke="#f7a08a" stroke-width="0.7"/>
<circle cx="566.6" cy="433.3" r="1.2" fill="none" stroke="#f7a08a" stroke-width="0.7"/>
<circle cx="566.8" cy="431.7" r="1.2" fill="none" stroke="#f7a08a" stroke-width="0.7"/>
<circle cx="566.9" cy="430.1" r="1.2" fill="none" stroke="#f7a08a" stroke-width="0.7"/>
<circle cx="567.1" cy="428.3" r="1.2" fill="none" stroke="#f7a08a" stroke-width="0.7"/>
<circle cx="567.2" cy="426.6" r="1.2" fill="none" stroke="#f7a08a" stroke-width="0.7"/>
<circle cx="567.4" cy="425.0" r="1.2" fill="none" stroke="#f7a08a" stroke-width="0.7"/>
<circle cx="567.5" cy="423.4" r="1.2" fill="none" stroke="#f7a08a" stroke-width="0.7"/>
<circle cx="567.7" cy="422.0" r="1.2" fill="none" stroke="#f7a08a" stroke-width="0.7"/>
<circle cx="567.8" cy="420.7" r="1.2" fill="none" stroke="#f7a08a" stroke-width="0.7"/>
<circle cx="568.0" cy="419.6" r="1.2" fill="none" stroke="#f7a08a" stroke-width="0.7"/>
<circle cx="568.1" cy="418.7" r="1.2" fill="none" stroke="#f7a08a" stroke-width="0.7"/>
<circle cx="568.3" cy="418.1" r="1.2" fill="none" stroke="#f7a08a" stroke-width="0.7"/>
<circle cx="568.4" cy="417.7" r="1.2" fill="none" stroke="#f7a08a" stroke-width="0.7"/>
<circle cx="568.6" cy="417.5" r="1.2" fill="none" stroke="#f7a08a" stroke-width="0.7"/>
<circle cx="568.7" cy="417.6" r="1.2" fill="none" stroke="#f7a08a" stroke-width="0.7"/>
<circle cx="568.9" cy="417.9" r="1.2" fill="none" stroke="#f7a08a" stroke-width="0.7"/>
<circle cx="569.0" cy="418.5" r="1.2" fill="none" stroke="#f7a08a" stroke-width="0.7"/>
<circle cx="569.2" cy="419.3" r="1.2" fill="none" stroke="#f7a08a" stroke-width="0.7"/>
<circle cx="569.3" cy="420.2" r="1.2" fill="none" stroke="#f7a08a" stroke-width="0.7"/>
<circle cx="569.5" cy="421.3" r="1.2" fill="none" stroke="#f7a08a" stroke-width="0.7"/>
<circle cx="569.6" cy="422.5" r="1.2" fill="none" stroke="#f7a08a" stroke-width="0.7"/>
<circle cx="569.8" cy="423.8" r="1.2" fill="none" stroke="#f7a08a" stroke-width="0.7"/>
<circle cx="569.9" cy="425.1" r="1.2" fill="none" stroke="#f7a08a" stroke-width="0.7"/>
<circle cx="570.1" cy="426.5" r="1.2" fill="none" stroke="#f7a08a" stroke-width="0.7"/>
<circle cx="570.2" cy="427.8" r="1.2" fill="none" stroke="#f7a08a" stroke-width="0.7"/>
<circle cx="570.4" cy="429.1" r="1.2" fill="none" stroke="#f7a08a" stroke-width="0.7"/>
<circle cx="570.5" cy="430.3" r="1.2" fill="none" stroke="#f7a08a" stroke-width="0.7"/>
<circle cx="570.7" cy="431.4" r="1.2" fill="none" stroke="#f7a08a" stroke-width="0.7"/>
<circle cx="570.8" cy="432.3" r="1.2" fill="none" stroke="#f7a08a" stroke-width="0.7"/>
<circle cx="571.0" cy="433.1" r="1.2" fill="none" stroke="#f7a08a" stroke-width="0.7"/>
<circle cx="571.1" cy="433.7" r="1.2" fill="none" stroke="#f7a08a" stroke-width="0.7"/>
<circle cx="571.3" cy="434.1" r="1.2" fill="none" stroke="#f7a08a" stroke-width="0.7"/>
<circle cx="571.4" cy="434.3" r="1.2" fill="none" stroke="#f7a08a" stroke-width="0.7"/>
<circle cx="571.6" cy="434.3" r="1.2" fill="none" stroke="#f7a08a" stroke-width="0.7"/>
<circle cx="571.7" cy="434.1" r="1.2" fill="none" stroke="#f7a08a" stroke-width="0.7"/>
<circle cx="571.9" cy="433.7" r="1.2" fill="none" stroke="#f7a08a" stroke-width="0.7"/>
<circle cx="572.0" cy="433.2" r="1.2" fill="none" stroke="#f7a08a" stroke-width="0.7"/>
<circle cx="572.2" cy="432.5" r="1.2" fill="none" stroke="#f7a08a" stroke-width="0.7"/>
<circle cx="572.3" cy="431.6" r="1.2" fill="none" stroke="#f7a08a" stroke-width="0.7"/>
<circle cx="572.5" cy="430.6" r="1.2" fill="none" stroke="#f7a08a" stroke-width="0.7"/>
<circle cx="572.6" cy="429.5" r="1.2" fill="none" stroke="#f7a08a" stroke-width="0.7"/>
<circle cx="572.8" cy="428.4" r="1.2" fill="none" stroke="#f7a08a" stroke-width="0.7"/>
<circle cx="572.9" cy="427.2" r="1.2" fill="none" stroke="#f7a08a" stroke-width="0.7"/>
<circle cx="573.1" cy="425.9" r="1.2" fill="none" stroke="#f7a08a" stroke-width="0.7"/>
<circle cx="573.2" cy="424.7" r="1.2" fill="none" stroke="#f7a08a" stroke-width="0.7"/>
<circle cx="573.4" cy="423.5" r="1.2" fill="none" stroke="#f7a08a" stroke-width="0.7"/>
<circle cx="573.5" cy="422.3" r="1.2" fill="none" stroke="#f7a08a" stroke-width="0.7"/>
<circle cx="573.7" cy="421.2" r="1.2" fill="none" stroke="#f7a08a" stroke-width="0.7"/>
<circle cx="573.8" cy="420.2" r="1.2" fill="none" stroke="#f7a08a" stroke-width="0.7"/>
<circle cx="574.0" cy="419.4" r="1.2" fill="none" stroke="#f7a08a" stroke-width="0.7"/>
<circle cx="574.1" cy="418.6" r="1.2" fill="none" stroke="#f7a08a" stroke-width="0.7"/>
<circle cx="574.3" cy="418.0" r="1.2" fill="none" stroke="#f7a08a" stroke-width="0.7"/>
<circle cx="574.4" cy="417.6" r="1.2" fill="none" stroke="#f7a08a" stroke-width="0.7"/>
<circle cx="574.6" cy="417.3" r="1.2" fill="none" stroke="#f7a08a" stroke-width="0.7"/>
<circle cx="574.7" cy="417.1" r="1.2" fill="none" stroke="#f7a08a" stroke-width="0.7"/>
<circle cx="574.9" cy="417.2" r="1.2" fill="none" stroke="#f7a08a" stroke-width="0.7"/>
<circle cx="575.0" cy="417.3" r="1.2" fill="none" stroke="#f7a08a" stroke-width="0.7"/>
<circle cx="575.2" cy="417.7" r="1.2" fill="none" stroke="#f7a08a" stroke-width="0.7"/>
<circle cx="575.3" cy="418.1" r="1.2" fill="none" stroke="#f7a08a" stroke-width="0.7"/>
<circle cx="575.5" cy="418.7" r="1.2" fill="none" stroke="#f7a08a" stroke-width="0.7"/>
<circle cx="575.6" cy="419.4" r="1.2" fill="none" stroke="#f7a08a" stroke-width="0.7"/>
<circle cx="575.8" cy="420.1" r="1.2" fill="none" stroke="#f7a08a" stroke-width="0.7"/>
<circle cx="575.9" cy="421.0" r="1.2" fill="none" stroke="#f7a08a" stroke-width="0.7"/>
<circle cx="576.1" cy="421.9" r="1.2" fill="none" stroke="#f7a08a" stroke-width="0.7"/>
<circle cx="576.2" cy="422.8" r="1.2" fill="none" stroke="#f7a08a" stroke-width="0.7"/>
<circle cx="576.4" cy="423.8" r="1.2" fill="none" stroke="#f7a08a" stroke-width="0.7"/>
<circle cx="576.5" cy="424.7" r="1.2" fill="none" stroke="#f7a08a" stroke-width="0.7"/>
<circle cx="576.7" cy="425.6" r="1.2" fill="none" stroke="#f7a08a" stroke-width="0.7"/>
<circle cx="576.8" cy="426.5" r="1.2" fill="none" stroke="#f7a08a" stroke-width="0.7"/>
<circle cx="577.0" cy="427.3" r="1.2" fill="none" stroke="#f7a08a" stroke-width="0.7"/>
<circle cx="577.1" cy="428.0" r="1.2" fill="none" stroke="#f7a08a" stroke-width="0.7"/>
<circle cx="577.3" cy="428.7" r="1.2" fill="none" stroke="#f7a08a" stroke-width="0.7"/>
<circle cx="577.4" cy="429.3" r="1.2" fill="none" stroke="#f7a08a" stroke-width="0.7"/>
<circle cx="577.6" cy="429.7" r="1.2" fill="none" stroke="#f7a08a" stroke-width="0.7"/>
<circle cx="577.7" cy="430.0" r="1.2" fill="none" stroke="#f7a08a" stroke-width="0.7"/>
<circle cx="577.9" cy="430.2" r="1.2" fill="none" stroke="#f7a08a" stroke-width="0.7"/>
<circle cx="578.0" cy="430.3" r="1.2" fill="none" stroke="#f7a08a" stroke-width="0.7"/>
<circle cx="578.2" cy="430.3" r="1.2" fill="none" stroke="#f7a08a" stroke-width="0.7"/>
<circle cx="578.3" cy="430.1" r="1.2" fill="none" stroke="#f7a08a" stroke-width="0.7"/>
<circle cx="578.5" cy="429.8" r="1.2" fill="none" stroke="#f7a08a" stroke-width="0.7"/>
<circle cx="578.6" cy="429.4" r="1.2" fill="none" stroke="#f7a08a" stroke-width="0.7"/>
<circle cx="578.8" cy="428.9" r="1.2" fill="none" stroke="#f7a08a" stroke-width="0.7"/>
<circle cx="578.9" cy="428.3" r="1.2" fill="none" stroke="#f7a08a" stroke-width="0.7"/>
<circle cx="579.1" cy="427.6" r="1.2" fill="none" stroke="#f7a08a" stroke-width="0.7"/>
<circle cx="579.2" cy="426.8" r="1.2" fill="none" stroke="#f7a08a" stroke-width="0.7"/>
<circle cx="579.4" cy="426.0" r="1.2" fill="none" stroke="#f7a08a" stroke-width="0.7"/>
<circle cx="579.5" cy="425.2" r="1.2" fill="none" stroke="#f7a08a" stroke-width="0.7"/>
<circle cx="579.7" cy="424.3" r="1.2" fill="none" stroke="#f7a08a" stroke-width="0.7"/>
<circle cx="579.8" cy="423.4" r="1.2" fill="none" stroke="#f7a08a" stroke-width="0.7"/>
<circle cx="580.0" cy="422.5" r="1.2" fill="none" stroke="#f7a08a" stroke-width="0.7"/>
<circle cx="580.1" cy="421.6" r="1.2" fill="none" stroke="#f7a08a" stroke-width="0.7"/>
<circle cx="580.3" cy="420.7" r="1.2" fill="none" stroke="#f7a08a" stroke-width="0.7"/>
<circle cx="580.4" cy="419.9" r="1.2" fill="none" stroke="#f7a08a" stroke-width="0.7"/>
<circle cx="580.6" cy="419.1" r="1.2" fill="none" stroke="#f7a08a" stroke-width="0.7"/>
<circle cx="580.7" cy="418.4" r="1.2" fill="none" stroke="#f7a08a" stroke-width="0.7"/>
<circle cx="580.9" cy="417.8" r="1.2" fill="none" stroke="#f7a08a" stroke-width="0.7"/>
<circle cx="581.0" cy="417.3" r="1.2" fill="none" stroke="#f7a08a" stroke-width="0.7"/>
<circle cx="581.2" cy="416.8" r="1.2" fill="none" stroke="#f7a08a" stroke-width="0.7"/>
<circle cx="581.3" cy="416.4" r="1.2" fill="none" stroke="#f7a08a" stroke-width="0.7"/>
<circle cx="581.5" cy="416.2" r="1.2" fill="none" stroke="#f7a08a" stroke-width="0.7"/>
<circle cx="581.6" cy="416.0" r="1.2" fill="none" stroke="#f7a08a" stroke-width="0.7"/>
<circle cx="581.8" cy="415.9" r="1.2" fill="none" stroke="#f7a08a" stroke-width="0.7"/>
<circle cx="581.9" cy="416.0" r="1.2" fill="none" stroke="#f7a08a" stroke-width="0.7"/>
<circle cx="582.1" cy="416.1" r="1.2" fill="none" stroke="#f7a08a" stroke-width="0.7"/>
<circle cx="582.2" cy="416.3" r="1.2" fill="none" stroke="#f7a08a" stroke-width="0.7"/>
<circle cx="582.4" cy="416.6" r="1.2" fill="none" stroke="#f7a08a" stroke-width="0.7"/>
<circle cx="582.5" cy="417.0" r="1.2" fill="none" stroke="#f7a08a" stroke-width="0.7"/>
<circle cx="582.7" cy="417.4" r="1.2" fill="none" stroke="#f7a08a" stroke-width="0.7"/>
<circle cx="582.8" cy="417.9" r="1.2" fill="none" stroke="#f7a08a" stroke-width="0.7"/>
<circle cx="583.0" cy="418.5" r="1.2" fill="none" stroke="#f7a08a" stroke-width="0.7"/>
<circle cx="583.1" cy="419.1" r="1.2" fill="none" stroke="#f7a08a" stroke-width="0.7"/>
<circle cx="583.3" cy="419.7" r="1.2" fill="none" stroke="#f7a08a" stroke-width="0.7"/>
<circle cx="583.4" cy="420.4" r="1.2" fill="none" stroke="#f7a08a" stroke-width="0.7"/>
<circle cx="583.6" cy="421.0" r="1.2" fill="none" stroke="#f7a08a" stroke-width="0.7"/>
<circle cx="583.7" cy="421.7" r="1.2" fill="none" stroke="#f7a08a" stroke-width="0.7"/>
<circle cx="583.9" cy="422.3" r="1.2" fill="none" stroke="#f7a08a" stroke-width="0.7"/>
<circle cx="584.0" cy="423.0" r="1.2" fill="none" stroke="#f7a08a" stroke-width="0.7"/>
<circle cx="584.2" cy="423.5" r="1.2" fill="none" stroke="#f7a08a" stroke-width="0.7"/>
<circle cx="584.3" cy="424.1" r="1.2" fill="none" stroke="#f7a08a" stroke-width="0.7"/>
<circle cx="584.5" cy="424.6" r="1.2" fill="none" stroke="#f7a08a" stroke-width="0.7"/>
<circle cx="584.6" cy="425.0" r="1.2" fill="none" stroke="#f7a08a" stroke-width="0.7"/>
<circle cx="584.8" cy="425.4" r="1.2" fill="none" stroke="#f7a08a" stroke-width="0.7"/>
<circle cx="584.9" cy="425.7" r="1.2" fill="none" stroke="#f7a08a" stroke-width="0.7"/>
<circle cx="585.1" cy="426.0" r="1.2" fill="none" stroke="#f7a08a" stroke-width="0.7"/>
<circle cx="585.2" cy="426.1" r="1.2" fill="none" stroke="#f7a08a" stroke-width="0.7"/>
<circle cx="585.4" cy="426.2" r="1.2" fill="none" stroke="#f7a08a" stroke-width="0.7"/>
<circle cx="585.5" cy="426.2" r="1.2" fill="none" stroke="#f7a08a" stroke-width="0.7"/>
<circle cx="585.6" cy="426.1" r="1.2" fill="none" stroke="#f7a08a" stroke-width="0.7"/>
<circle cx="585.8" cy="426.0" r="1.2" fill="none" stroke="#f7a08a" stroke-width="0.7"/>
<circle cx="585.9" cy="425.8" r="1.2" fill="none" stroke="#f7a08a" stroke-width="0.7"/>
<circle cx="586.1" cy="425.5" r="1.2" fill="none" stroke="#f7a08a" stroke-width="0.7"/>
<circle cx="586.2" cy="425.1" r="1.2" fill="none" stroke="#f7a08a" stroke-width="0.7"/>
<circle cx="586.4" cy="424.7" r="1.2" fill="none" stroke="#f7a08a" stroke-width="0.7"/>
<circle cx="586.5" cy="424.2" r="1.2" fill="none" stroke="#f7a08a" stroke-width="0.7"/>
<circle cx="586.7" cy="423.7" r="1.2" fill="none" stroke="#f7a08a" stroke-width="0.7"/>
<circle cx="586.8" cy="423.1" r="1.2" fill="none" stroke="#f7a08a" stroke-width="0.7"/>
<circle cx="587.0" cy="422.5" r="1.2" fill="none" stroke="#f7a08a" stroke-width="0.7"/>
<circle cx="587.1" cy="421.9" r="1.2" fill="none" stroke="#f7a08a" stroke-width="0.7"/>
<circle cx="587.3" cy="421.2" r="1.2" fill="none" stroke="#f7a08a" stroke-width="0.7"/>
<circle cx="587.4" cy="420.5" r="1.2" fill="none" stroke="#f7a08a" stroke-width="0.7"/>
<circle cx="587.6" cy="419.9" r="1.2" fill="none" stroke="#f7a08a" stroke-width="0.7"/>
<circle cx="587.7" cy="419.2" r="1.2" fill="none" stroke="#f7a08a" stroke-width="0.7"/>
<circle cx="587.9" cy="418.6" r="1.2" fill="none" stroke="#f7a08a" stroke-width="0.7"/>
<circle cx="588.0" cy="417.9" r="1.2" fill="none" stroke="#f7a08a" stroke-width="0.7"/>
<circle cx="588.2" cy="417.3" r="1.2" fill="none" stroke="#f7a08a" stroke-width="0.7"/>
<circle cx="588.3" cy="416.8" r="1.2" fill="none" stroke="#f7a08a" stroke-width="0.7"/>
<circle cx="588.5" cy="416.2" r="1.2" fill="none" stroke="#f7a08a" stroke-width="0.7"/>
<circle cx="588.6" cy="415.7" r="1.2" fill="none" stroke="#f7a08a" stroke-width="0.7"/>
<circle cx="588.8" cy="415.3" r="1.2" fill="none" stroke="#f7a08a" stroke-width="0.7"/>
<circle cx="588.9" cy="414.9" r="1.2" fill="none" stroke="#f7a08a" stroke-width="0.7"/>
<circle cx="589.1" cy="414.6" r="1.2" fill="none" stroke="#f7a08a" stroke-width="0.7"/>
<circle cx="589.2" cy="414.3" r="1.2" fill="none" stroke="#f7a08a" stroke-width="0.7"/>
<circle cx="589.4" cy="414.1" r="1.2" fill="none" stroke="#f7a08a" stroke-width="0.7"/>
<circle cx="589.5" cy="414.0" r="1.2" fill="none" stroke="#f7a08a" stroke-width="0.7"/>
<circle cx="589.7" cy="413.9" r="1.2" fill="none" stroke="#f7a08a" stroke-width="0.7"/>
<circle cx="589.8" cy="413.9" r="1.2" fill="none" stroke="#f7a08a" stroke-width="0.7"/>
<circle cx="590.0" cy="413.9" r="1.2" fill="none" stroke="#f7a08a" stroke-width="0.7"/>
<circle cx="590.1" cy="414.0" r="1.2" fill="none" stroke="#f7a08a" stroke-width="0.7"/>
<circle cx="590.3" cy="414.2" r="1.2" fill="none" stroke="#f7a08a" stroke-width="0.7"/>
<circle cx="590.4" cy="414.4" r="1.2" fill="none" stroke="#f7a08a" stroke-width="0.7"/>
<circle cx="590.6" cy="414.6" r="1.2" fill="none" stroke="#f7a08a" stroke-width="0.7"/>
<circle cx="590.7" cy="414.9" r="1.2" fill="none" stroke="#f7a08a" stroke-width="0.7"/>
<circle cx="590.9" cy="415.3" r="1.2" fill="none" stroke="#f7a08a" stroke-width="0.7"/>
<circle cx="591.0" cy="415.6" r="1.2" fill="none" stroke="#f7a08a" stroke-width="0.7"/>
<circle cx="591.2" cy="416.0" r="1.2" fill="none" stroke="#f7a08a" stroke-width="0.7"/>
<circle cx="591.3" cy="416.5" r="1.2" fill="none" stroke="#f7a08a" stroke-width="0.7"/>
<circle cx="591.5" cy="416.9" r="1.2" fill="none" stroke="#f7a08a" stroke-width="0.7"/>
<circle cx="591.6" cy="422.3" r="1.2" fill="none" stroke="#f7a08a" stroke-width="0.7"/>
<circle cx="592.0" cy="421.7" r="1.2" fill="none" stroke="#f7a08a" stroke-width="0.7"/>
<circle cx="592.4" cy="420.9" r="1.2" fill="none" stroke="#f7a08a" stroke-width="0.7"/>
<circle cx="592.8" cy="420.0" r="1.2" fill="none" stroke="#f7a08a" stroke-width="0.7"/>
<circle cx="593.1" cy="419.2" r="1.2" fill="none" stroke="#f7a08a" stroke-width="0.7"/>
<circle cx="593.5" cy="418.6" r="1.2" fill="none" stroke="#f7a08a" stroke-width="0.7"/>
<circle cx="593.9" cy="418.1" r="1.2" fill="none" stroke="#f7a08a" stroke-width="0.7"/>
<circle cx="594.3" cy="417.9" r="1.2" fill="none" stroke="#f7a08a" stroke-width="0.7"/>
<circle cx="594.6" cy="417.8" r="1.2" fill="none" stroke="#f7a08a" stroke-width="0.7"/>
<circle cx="595.0" cy="417.9" r="1.2" fill="none" stroke="#f7a08a" stroke-width="0.7"/>
<circle cx="595.4" cy="418.0" r="1.2" fill="none" stroke="#f7a08a" stroke-width="0.7"/>
<circle cx="595.8" cy="418.3" r="1.2" fill="none" stroke="#f7a08a" stroke-width="0.7"/>
<circle cx="596.1" cy="418.5" r="1.2" fill="none" stroke="#f7a08a" stroke-width="0.7"/>
<circle cx="596.5" cy="418.7" r="1.2" fill="none" stroke="#f7a08a" stroke-width="0.7"/>
<circle cx="596.9" cy="418.9" r="1.2" fill="none" stroke="#f7a08a" stroke-width="0.7"/>
<circle cx="597.3" cy="419.0" r="1.2" fill="none" stroke="#f7a08a" stroke-width="0.7"/>
<circle cx="597.6" cy="419.1" r="1.2" fill="none" stroke="#f7a08a" stroke-width="0.7"/>
<circle cx="598.0" cy="419.1" r="1.2" fill="none" stroke="#f7a08a" stroke-width="0.7"/>
<circle cx="598.4" cy="419.0" r="1.2" fill="none" stroke="#f7a08a" stroke-width="0.7"/>
<circle cx="598.8" cy="418.7" r="1.2" fill="none" stroke="#f7a08a" stroke-width="0.7"/>
<circle cx="599.1" cy="418.4" r="1.2" fill="none" stroke="#f7a08a" stroke-width="0.7"/>
<circle cx="599.5" cy="417.9" r="1.2" fill="none" stroke="#f7a08a" stroke-width="0.7"/>
<circle cx="599.9" cy="417.2" r="1.2" fill="none" stroke="#f7a08a" stroke-width="0.7"/>
<circle cx="600.3" cy="416.5" r="1.2" fill="none" stroke="#f7a08a" stroke-width="0.7"/>
<circle cx="600.6" cy="415.7" r="1.2" fill="none" stroke="#f7a08a" stroke-width="0.7"/>
<circle cx="601.0" cy="415.1" r="1.2" fill="none" stroke="#f7a08a" stroke-width="0.7"/>
<circle cx="601.4" cy="414.6" r="1.2" fill="none" stroke="#f7a08a" stroke-width="0.7"/>
<circle cx="601.7" cy="414.4" r="1.2" fill="none" stroke="#f7a08a" stroke-width="0.7"/>
<circle cx="602.1" cy="414.4" r="1.2" fill="none" stroke="#f7a08a" stroke-width="0.7"/>
<circle cx="602.5" cy="414.8" r="1.2" fill="none" stroke="#f7a08a" stroke-width="0.7"/>
<circle cx="602.9" cy="415.3" r="1.2" fill="none" stroke="#f7a08a" stroke-width="0.7"/>
<circle cx="603.2" cy="416.0" r="1.2" fill="none" stroke="#f7a08a" stroke-width="0.7"/>
<circle cx="603.6" cy="416.7" r="1.2" fill="none" stroke="#f7a08a" stroke-width="0.7"/>
<circle cx="604.0" cy="417.2" r="1.2" fill="none" stroke="#f7a08a" stroke-width="0.7"/>
<circle cx="604.4" cy="417.5" r="1.2" fill="none" stroke="#f7a08a" stroke-width="0.7"/>
<circle cx="604.7" cy="417.3" r="1.2" fill="none" stroke="#f7a08a" stroke-width="0.7"/>
<circle cx="605.1" cy="416.9" r="1.2" fill="none" stroke="#f7a08a" stroke-width="0.7"/>
<circle cx="605.5" cy="416.1" r="1.2" fill="none" stroke="#f7a08a" stroke-width="0.7"/>
<circle cx="605.9" cy="415.1" r="1.2" fill="none" stroke="#f7a08a" stroke-width="0.7"/>
<circle cx="606.2" cy="414.0" r="1.2" fill="none" stroke="#f7a08a" stroke-width="0.7"/>
<circle cx="606.6" cy="413.0" r="1.2" fill="none" stroke="#f7a08a" stroke-width="0.7"/>
<circle cx="607.0" cy="412.2" r="1.2" fill="none" stroke="#f7a08a" stroke-width="0.7"/>
<circle cx="607.4" cy="411.7" r="1.2" fill="none" stroke="#f7a08a" stroke-width="0.7"/>
<circle cx="607.7" cy="411.6" r="1.2" fill="none" stroke="#f7a08a" stroke-width="0.7"/>
<circle cx="608.1" cy="411.8" r="1.2" fill="none" stroke="#f7a08a" stroke-width="0.7"/>
<circle cx="608.5" cy="412.3" r="1.2" fill="none" stroke="#f7a08a" stroke-width="0.7"/>
<circle cx="608.9" cy="412.9" r="1.2" fill="none" stroke="#f7a08a" stroke-width="0.7"/>
<circle cx="609.2" cy="413.5" r="1.2" fill="none" stroke="#f7a08a" stroke-width="0.7"/>
<circle cx="609.6" cy="414.0" r="1.2" fill="none" stroke="#f7a08a" stroke-width="0.7"/>
<circle cx="610.0" cy="414.3" r="1.2" fill="none" stroke="#f7a08a" stroke-width="0.7"/>
<circle cx="610.4" cy="414.4" r="1.2" fill="none" stroke="#f7a08a" stroke-width="0.7"/>
<circle cx="610.7" cy="414.2" r="1.2" fill="none" stroke="#f7a08a" stroke-width="0.7"/>
<circle cx="611.1" cy="413.8" r="1.2" fill="none" stroke="#f7a08a" stroke-width="0.7"/>
<circle cx="611.5" cy="413.2" r="1.2" fill="none" stroke="#f7a08a" stroke-width="0.7"/>
<circle cx="611.9" cy="412.6" r="1.2" fill="none" stroke="#f7a08a" stroke-width="0.7"/>
<circle cx="612.2" cy="412.0" r="1.2" fill="none" stroke="#f7a08a" stroke-width="0.7"/>
<circle cx="612.6" cy="411.4" r="1.2" fill="none" stroke="#f7a08a" stroke-width="0.7"/>
<circle cx="613.0" cy="410.9" r="1.2" fill="none" stroke="#f7a08a" stroke-width="0.7"/>
<circle cx="613.4" cy="410.5" r="1.2" fill="none" stroke="#f7a08a" stroke-width="0.7"/>
<circle cx="613.7" cy="410.1" r="1.2" fill="none" stroke="#f7a08a" stroke-width="0.7"/>
<circle cx="614.1" cy="409.9" r="1.2" fill="none" stroke="#f7a08a" stroke-width="0.7"/>
<circle cx="614.5" cy="409.7" r="1.2" fill="none" stroke="#f7a08a" stroke-width="0.7"/>
<circle cx="614.9" cy="409.6" r="1.2" fill="none" stroke="#f7a08a" stroke-width="0.7"/>
<circle cx="615.2" cy="409.7" r="1.2" fill="none" stroke="#f7a08a" stroke-width="0.7"/>
<circle cx="615.6" cy="409.8" r="1.2" fill="none" stroke="#f7a08a" stroke-width="0.7"/>
<circle cx="616.0" cy="410.0" r="1.2" fill="none" stroke="#f7a08a" stroke-width="0.7"/>
<circle cx="616.4" cy="410.3" r="1.2" fill="none" stroke="#f7a08a" stroke-width="0.7"/>
<circle cx="616.7" cy="410.7" r="1.2" fill="none" stroke="#f7a08a" stroke-width="0.7"/>
<circle cx="617.1" cy="411.0" r="1.2" fill="none" stroke="#f7a08a" stroke-width="0.7"/>
<circle cx="617.5" cy="411.2" r="1.2" fill="none" stroke="#f7a08a" stroke-width="0.7"/>
<circle cx="617.8" cy="411.2" r="1.2" fill="none" stroke="#f7a08a" stroke-width="0.7"/>
<circle cx="618.2" cy="411.0" r="1.2" fill="none" stroke="#f7a08a" stroke-width="0.7"/>
<circle cx="618.6" cy="410.5" r="1.2" fill="none" stroke="#f7a08a" stroke-width="0.7"/>
<circle cx="619.0" cy="409.8" r="1.2" fill="none" stroke="#f7a08a" stroke-width="0.7"/>
<circle cx="619.3" cy="408.8" r="1.2" fill="none" stroke="#f7a08a" stroke-width="0.7"/>
<circle cx="619.7" cy="407.9" r="1.2" fill="none" stroke="#f7a08a" stroke-width="0.7"/>
<circle cx="620.1" cy="407.0" r="1.2" fill="none" stroke="#f7a08a" stroke-width="0.7"/>
<circle cx="620.5" cy="406.3" r="1.2" fill="none" stroke="#f7a08a" stroke-width="0.7"/>
<circle cx="620.8" cy="405.9" r="1.2" fill="none" stroke="#f7a08a" stroke-width="0.7"/>
<circle cx="621.2" cy="405.8" r="1.2" fill="none" stroke="#f7a08a" stroke-width="0.7"/>
<circle cx="621.6" cy="406.1" r="1.2" fill="none" stroke="#f7a08a" stroke-width="0.7"/>
<circle cx="622.0" cy="406.7" r="1.2" fill="none" stroke="#f7a08a" stroke-width="0.7"/>
<circle cx="622.3" cy="407.4" r="1.2" fill="none" stroke="#f7a08a" stroke-width="0.7"/>
<circle cx="622.7" cy="408.2" r="1.2" fill="none" stroke="#f7a08a" stroke-width="0.7"/>
<circle cx="623.1" cy="408.8" r="1.2" fill="none" stroke="#f7a08a" stroke-width="0.7"/>
<circle cx="623.5" cy="409.1" r="1.2" fill="none" stroke="#f7a08a" stroke-width="0.7"/>
<circle cx="623.8" cy="409.1" r="1.2" fill="none" stroke="#f7a08a" stroke-width="0.7"/>
<circle cx="624.2" cy="408.8" r="1.2" fill="none" stroke="#f7a08a" stroke-width="0.7"/>
<circle cx="624.6" cy="408.1" r="1.2" fill="none" stroke="#f7a08a" stroke-width="0.7"/>
<circle cx="625.0" cy="407.2" r="1.2" fill="none" stroke="#f7a08a" stroke-width="0.7"/>
<circle cx="625.3" cy="406.2" r="1.2" fill="none" stroke="#f7a08a" stroke-width="0.7"/>
<circle cx="625.7" cy="405.2" r="1.2" fill="none" stroke="#f7a08a" stroke-width="0.7"/>
<circle cx="626.1" cy="404.4" r="1.2" fill="none" stroke="#f7a08a" stroke-width="0.7"/>
<circle cx="626.5" cy="403.9" r="1.2" fill="none" stroke="#f7a08a" stroke-width="0.7"/>
<circle cx="626.8" cy="403.6" r="1.2" fill="none" stroke="#f7a08a" stroke-width="0.7"/>
<circle cx="627.2" cy="403.6" r="1.2" fill="none" stroke="#f7a08a" stroke-width="0.7"/>
<circle cx="627.6" cy="403.8" r="1.2" fill="none" stroke="#f7a08a" stroke-width="0.7"/>
<circle cx="628.0" cy="404.2" r="1.2" fill="none" stroke="#f7a08a" stroke-width="0.7"/>
<circle cx="628.3" cy="404.6" r="1.2" fill="none" stroke="#f7a08a" stroke-width="0.7"/>
<circle cx="628.7" cy="405.0" r="1.2" fill="none" stroke="#f7a08a" stroke-width="0.7"/>
<circle cx="629.1" cy="405.2" r="1.2" fill="none" stroke="#f7a08a" stroke-width="0.7"/>
<circle cx="629.5" cy="405.4" r="1.2" fill="none" stroke="#f7a08a" stroke-width="0.7"/>
<circle cx="629.8" cy="405.4" r="1.2" fill="none" stroke="#f7a08a" stroke-width="0.7"/>
<circle cx="630.2" cy="405.2" r="1.2" fill="none" stroke="#f7a08a" stroke-width="0.7"/>
<circle cx="630.6" cy="405.0" r="1.2" fill="none" stroke="#f7a08a" stroke-width="0.7"/>
<circle cx="631.0" cy="404.7" r="1.2" fill="none" stroke="#f7a08a" stroke-width="0.7"/>
<circle cx="631.3" cy="404.3" r="1.2" fill="none" stroke="#f7a08a" stroke-width="0.7"/>
<circle cx="631.7" cy="403.9" r="1.2" fill="none" stroke="#f7a08a" stroke-width="0.7"/>
<circle cx="632.1" cy="403.4" r="1.2" fill="none" stroke="#f7a08a" stroke-width="0.7"/>
<circle cx="632.4" cy="402.8" r="1.2" fill="none" stroke="#f7a08a" stroke-width="0.7"/>
<circle cx="632.8" cy="402.2" r="1.2" fill="none" stroke="#f7a08a" stroke-width="0.7"/>
<circle cx="633.2" cy="401.7" r="1.2" fill="none" stroke="#f7a08a" stroke-width="0.7"/>
<circle cx="633.6" cy="401.2" r="1.2" fill="none" stroke="#f7a08a" stroke-width="0.7"/>
<circle cx="633.9" cy="400.8" r="1.2" fill="none" stroke="#f7a08a" stroke-width="0.7"/>
<circle cx="634.3" cy="400.6" r="1.2" fill="none" stroke="#f7a08a" stroke-width="0.7"/>
<circle cx="634.7" cy="400.6" r="1.2" fill="none" stroke="#f7a08a" stroke-width="0.7"/>
<circle cx="635.1" cy="400.8" r="1.2" fill="none" stroke="#f7a08a" stroke-width="0.7"/>
<circle cx="635.4" cy="401.3" r="1.2" fill="none" stroke="#f7a08a" stroke-width="0.7"/>
<circle cx="635.8" cy="401.8" r="1.2" fill="none" stroke="#f7a08a" stroke-width="0.7"/>
<circle cx="636.2" cy="402.4" r="1.2" fill="none" stroke="#f7a08a" stroke-width="0.7"/>
<circle cx="636.6" cy="402.8" r="1.2" fill="none" stroke="#f7a08a" stroke-width="0.7"/>
<circle cx="636.9" cy="403.1" r="1.2" fill="none" stroke="#f7a08a" stroke-width="0.7"/>
<circle cx="637.3" cy="403.0" r="1.2" fill="none" stroke="#f7a08a" stroke-width="0.7"/>
<circle cx="637.7" cy="402.6" r="1.2" fill="none" stroke="#f7a08a" stroke-width="0.7"/>
<circle cx="638.1" cy="401.8" r="1.2" fill="none" stroke="#f7a08a" stroke-width="0.7"/>
<circle cx="638.4" cy="400.8" r="1.2" fill="none" stroke="#f7a08a" stroke-width="0.7"/>
<circle cx="638.8" cy="399.8" r="1.2" fill="none" stroke="#f7a08a" stroke-width="0.7"/>
<circle cx="639.2" cy="398.7" r="1.2" fill="none" stroke="#f7a08a" stroke-width="0.7"/>
<circle cx="639.6" cy="397.9" r="1.2" fill="none" stroke="#f7a08a" stroke-width="0.7"/>
<circle cx="639.9" cy="397.3" r="1.2" fill="none" stroke="#f7a08a" stroke-width="0.7"/>
<circle cx="640.3" cy="397.1" r="1.2" fill="none" stroke="#f7a08a" stroke-width="0.7"/>
<circle cx="640.7" cy="397.3" r="1.2" fill="none" stroke="#f7a08a" stroke-width="0.7"/>
<circle cx="641.1" cy="397.8" r="1.2" fill="none" stroke="#f7a08a" stroke-width="0.7"/>
<circle cx="641.4" cy="398.5" r="1.2" fill="none" stroke="#f7a08a" stroke-width="0.7"/>
<circle cx="641.8" cy="399.2" r="1.2" fill="none" stroke="#f7a08a" stroke-width="0.7"/>
<circle cx="642.2" cy="399.8" r="1.2" fill="none" stroke="#f7a08a" stroke-width="0.7"/>
<circle cx="642.6" cy="400.2" r="1.2" fill="none" stroke="#f7a08a" stroke-width="0.7"/>
<circle cx="642.9" cy="400.3" r="1.2" fill="none" stroke="#f7a08a" stroke-width="0.7"/>
<circle cx="643.3" cy="400.1" r="1.2" fill="none" stroke="#f7a08a" stroke-width="0.7"/>
<circle cx="643.7" cy="399.6" r="1.2" fill="none" stroke="#f7a08a" stroke-width="0.7"/>
<circle cx="644.1" cy="398.9" r="1.2" fill="none" stroke="#f7a08a" stroke-width="0.7"/>
<circle cx="644.4" cy="398.0" r="1.2" fill="none" stroke="#f7a08a" stroke-width="0.7"/>
<circle cx="644.8" cy="397.2" r="1.2" fill="none" stroke="#f7a08a" stroke-width="0.7"/>
<circle cx="645.2" cy="396.5" r="1.2" fill="none" stroke="#f7a08a" stroke-width="0.7"/>
<circle cx="645.6" cy="395.9" r="1.2" fill="none" stroke="#f7a08a" stroke-width="0.7"/>
<circle cx="645.9" cy="395.5" r="1.2" fill="none" stroke="#f7a08a" stroke-width="0.7"/>
<circle cx="646.3" cy="395.3" r="1.2" fill="none" stroke="#f7a08a" stroke-width="0.7"/>
<circle cx="646.7" cy="395.3" r="1.2" fill="none" stroke="#f7a08a" stroke-width="0.7"/>
<circle cx="647.1" cy="395.3" r="1.2" fill="none" stroke="#f7a08a" stroke-width="0.7"/>
<circle cx="647.4" cy="395.4" r="1.2" fill="none" stroke="#f7a08a" stroke-width="0.7"/>
<circle cx="647.8" cy="395.6" r="1.2" fill="none" stroke="#f7a08a" stroke-width="0.7"/>
<circle cx="648.2" cy="395.7" r="1.2" fill="none" stroke="#f7a08a" stroke-width="0.7"/>
<circle cx="648.5" cy="395.9" r="1.2" fill="none" stroke="#f7a08a" stroke-width="0.7"/>
<circle cx="648.9" cy="396.1" r="1.2" fill="none" stroke="#f7a08a" stroke-width="0.7"/>
<circle cx="649.3" cy="396.2" r="1.2" fill="none" stroke="#f7a08a" stroke-width="0.7"/>
<circle cx="649.7" cy="396.3" r="1.2" fill="none" stroke="#f7a08a" stroke-width="0.7"/>
<circle cx="650.0" cy="396.3" r="1.2" fill="none" stroke="#f7a08a" stroke-width="0.7"/>
<circle cx="650.4" cy="396.2" r="1.2" fill="none" stroke="#f7a08a" stroke-width="0.7"/>
<circle cx="650.8" cy="395.9" r="1.2" fill="none" stroke="#f7a08a" stroke-width="0.7"/>
<circle cx="651.2" cy="395.5" r="1.2" fill="none" stroke="#f7a08a" stroke-width="0.7"/>
<circle cx="651.5" cy="394.8" r="1.2" fill="none" stroke="#f7a08a" stroke-width="0.7"/>
<circle cx="651.9" cy="394.1" r="1.2" fill="none" stroke="#f7a08a" stroke-width="0.7"/>
<circle cx="652.3" cy="393.2" r="1.2" fill="none" stroke="#f7a08a" stroke-width="0.7"/>
<circle cx="652.7" cy="392.5" r="1.2" fill="none" stroke="#f7a08a" stroke-width="0.7"/>
<circle cx="653.0" cy="391.8" r="1.2" fill="none" stroke="#f7a08a" stroke-width="0.7"/>
<circle cx="653.4" cy="391.4" r="1.2" fill="none" stroke="#f7a08a" stroke-width="0.7"/>
<circle cx="653.8" cy="391.3" r="1.2" fill="none" stroke="#f7a08a" stroke-width="0.7"/>
<circle cx="654.2" cy="391.5" r="1.2" fill="none" stroke="#f7a08a" stroke-width="0.7"/>
<circle cx="654.5" cy="392.0" r="1.2" fill="none" stroke="#f7a08a" stroke-width="0.7"/>
<circle cx="654.9" cy="392.6" r="1.2" fill="none" stroke="#f7a08a" stroke-width="0.7"/>
<circle cx="655.3" cy="393.3" r="1.2" fill="none" stroke="#f7a08a" stroke-width="0.7"/>
<circle cx="655.7" cy="393.9" r="1.2" fill="none" stroke="#f7a08a" stroke-width="0.7"/>
<circle cx="656.0" cy="394.3" r="1.2" fill="none" stroke="#f7a08a" stroke-width="0.7"/>
<circle cx="656.4" cy="394.4" r="1.2" fill="none" stroke="#f7a08a" stroke-width="0.7"/>
<circle cx="656.8" cy="394.1" r="1.2" fill="none" stroke="#f7a08a" stroke-width="0.7"/>
<circle cx="657.2" cy="393.4" r="1.2" fill="none" stroke="#f7a08a" stroke-width="0.7"/>
<circle cx="657.5" cy="392.5" r="1.2" fill="none" stroke="#f7a08a" stroke-width="0.7"/>
<circle cx="657.9" cy="391.4" r="1.2" fill="none" stroke="#f7a08a" stroke-width="0.7"/>
<circle cx="658.3" cy="390.3" r="1.2" fill="none" stroke="#f7a08a" stroke-width="0.7"/>
<circle cx="658.7" cy="389.4" r="1.2" fill="none" stroke="#f7a08a" stroke-width="0.7"/>
<circle cx="659.0" cy="388.8" r="1.2" fill="none" stroke="#f7a08a" stroke-width="0.7"/>
<circle cx="659.4" cy="388.5" r="1.2" fill="none" stroke="#f7a08a" stroke-width="0.7"/>
<circle cx="659.8" cy="388.5" r="1.2" fill="none" stroke="#f7a08a" stroke-width="0.7"/>
<circle cx="660.2" cy="388.8" r="1.2" fill="none" stroke="#f7a08a" stroke-width="0.7"/>
<circle cx="660.5" cy="389.3" r="1.2" fill="none" stroke="#f7a08a" stroke-width="0.7"/>
<circle cx="660.9" cy="389.8" r="1.2" fill="none" stroke="#f7a08a" stroke-width="0.7"/>
<circle cx="661.3" cy="390.3" r="1.2" fill="none" stroke="#f7a08a" stroke-width="0.7"/>
<circle cx="661.7" cy="390.7" r="1.2" fill="none" stroke="#f7a08a" stroke-width="0.7"/>
<circle cx="662.0" cy="390.9" r="1.2" fill="none" stroke="#f7a08a" stroke-width="0.7"/>
<circle cx="662.4" cy="390.8" r="1.2" fill="none" stroke="#f7a08a" stroke-width="0.7"/>
<circle cx="662.8" cy="390.5" r="1.2" fill="none" stroke="#f7a08a" stroke-width="0.7"/>
<circle cx="663.2" cy="390.1" r="1.2" fill="none" stroke="#f7a08a" stroke-width="0.7"/>
<circle cx="663.5" cy="389.6" r="1.2" fill="none" stroke="#f7a08a" stroke-width="0.7"/>
<circle cx="663.9" cy="389.0" r="1.2" fill="none" stroke="#f7a08a" stroke-width="0.7"/>
<circle cx="664.3" cy="388.4" r="1.2" fill="none" stroke="#f7a08a" stroke-width="0.7"/>
<circle cx="664.6" cy="387.9" r="1.2" fill="none" stroke="#f7a08a" stroke-width="0.7"/>
<circle cx="665.0" cy="387.4" r="1.2" fill="none" stroke="#f7a08a" stroke-width="0.7"/>
<circle cx="665.4" cy="386.9" r="1.2" fill="none" stroke="#f7a08a" stroke-width="0.7"/>
<circle cx="665.8" cy="386.6" r="1.2" fill="none" stroke="#f7a08a" stroke-width="0.7"/>
<circle cx="666.1" cy="386.3" r="1.2" fill="none" stroke="#f7a08a" stroke-width="0.7"/>
<circle cx="666.5" cy="386.0" r="1.2" fill="none" stroke="#f7a08a" stroke-width="0.7"/>
<circle cx="666.9" cy="385.9" r="1.2" fill="none" stroke="#f7a08a" stroke-width="0.7"/>
<circle cx="667.3" cy="386.0" r="1.2" fill="none" stroke="#f7a08a" stroke-width="0.7"/>
<circle cx="667.6" cy="386.2" r="1.2" fill="none" stroke="#f7a08a" stroke-width="0.7"/>
<circle cx="668.0" cy="386.4" r="1.2" fill="none" stroke="#f7a08a" stroke-width="0.7"/>
<circle cx="668.4" cy="386.8" r="1.2" fill="none" stroke="#f7a08a" stroke-width="0.7"/>
<circle cx="668.8" cy="387.2" r="1.2" fill="none" stroke="#f7a08a" stroke-width="0.7"/>
<circle cx="669.1" cy="387.5" r="1.2" fill="none" stroke="#f7a08a" stroke-width="0.7"/>
<circle cx="669.5" cy="387.7" r="1.2" fill="none" stroke="#f7a08a" stroke-width="0.7"/>
<circle cx="669.9" cy="387.6" r="1.2" fill="none" stroke="#f7a08a" stroke-width="0.7"/>
<circle cx="670.3" cy="387.2" r="1.2" fill="none" stroke="#f7a08a" stroke-width="0.7"/>
<circle cx="670.6" cy="386.5" r="1.2" fill="none" stroke="#f7a08a" stroke-width="0.7"/>
<circle cx="671.0" cy="385.7" r="1.2" fill="none" stroke="#f7a08a" stroke-width="0.7"/>
<circle cx="671.4" cy="384.7" r="1.2" fill="none" stroke="#f7a08a" stroke-width="0.7"/>
<circle cx="671.8" cy="383.7" r="1.2" fill="none" stroke="#f7a08a" stroke-width="0.7"/>
<circle cx="672.1" cy="382.8" r="1.2" fill="none" stroke="#f7a08a" stroke-width="0.7"/>
<circle cx="672.5" cy="382.2" r="1.2" fill="none" stroke="#f7a08a" stroke-width="0.7"/>
<circle cx="672.9" cy="382.0" r="1.2" fill="none" stroke="#f7a08a" stroke-width="0.7"/>
<circle cx="673.3" cy="382.1" r="1.2" fill="none" stroke="#f7a08a" stroke-width="0.7"/>
<circle cx="673.6" cy="382.5" r="1.2" fill="none" stroke="#f7a08a" stroke-width="0.7"/>
<circle cx="674.0" cy="383.2" r="1.2" fill="none" stroke="#f7a08a" stroke-width="0.7"/>
<circle cx="674.4" cy="383.9" r="1.2" fill="none" stroke="#f7a08a" stroke-width="0.7"/>
<circle cx="674.8" cy="384.6" r="1.2" fill="none" stroke="#f7a08a" stroke-width="0.7"/>
<circle cx="675.1" cy="385.1" r="1.2" fill="none" stroke="#f7a08a" stroke-width="0.7"/>
<circle cx="675.5" cy="385.2" r="1.2" fill="none" stroke="#f7a08a" stroke-width="0.7"/>
<circle cx="675.9" cy="385.0" r="1.2" fill="none" stroke="#f7a08a" stroke-width="0.7"/>
<circle cx="676.3" cy="384.5" r="1.2" fill="none" stroke="#f7a08a" stroke-width="0.7"/>
<rect x="554.2" y="375.9" width="125.6" height="103.4" fill="none" stroke="#000" stroke-width="0.8"/>
<line x1="552.4" y1="479.3" x2="554.2" y2="479.3" stroke="#000" stroke-width="0.5"/>
<text x="551.7" y="481.3" font-size="6.0" fill="#000" text-anchor="end" font-weight="bold">-10000</text>
<line x1="553.2" y1="471.9" x2="554.2" y2="471.9" stroke="#000" stroke-width="0.4"/>
<line x1="552.4" y1="464.5" x2="554.2" y2="464.5" stroke="#000" stroke-width="0.5"/>
<text x="551.7" y="466.5" font-size="6.0" fill="#000" text-anchor="end" font-weight="bold">0</text>
<line x1="553.2" y1="457.1" x2="554.2" y2="457.1" stroke="#000" stroke-width="0.4"/>
<line x1="552.4" y1="449.7" x2="554.2" y2="449.7" stroke="#000" stroke-width="0.5"/>
<text x="551.7" y="451.7" font-size="6.0" fill="#000" text-anchor="end" font-weight="bold">10000</text>
<line x1="553.2" y1="442.3" x2="554.2" y2="442.3" stroke="#000" stroke-width="0.4"/>
<line x1="552.4" y1="435.0" x2="554.2" y2="435.0" stroke="#000" stroke-width="0.5"/>
<text x="551.7" y="437.0" font-size="6.0" fill="#000" text-anchor="end" font-weight="bold">20000</text>
<line x1="553.2" y1="427.6" x2="554.2" y2="427.6" stroke="#000" stroke-width="0.4"/>
<line x1="552.4" y1="420.2" x2="554.2" y2="420.2" stroke="#000" stroke-width="0.5"/>
<text x="551.7" y="422.2" font-size="6.0" fill="#000" text-anchor="end" font-weight="bold">30000</text>
<line x1="553.2" y1="412.8" x2="554.2" y2="412.8" stroke="#000" stroke-width="0.4"/>
<line x1="552.4" y1="405.4" x2="554.2" y2="405.4" stroke="#000" stroke-width="0.5"/>
<text x="551.7" y="407.4" font-size="6.0" fill="#000" text-anchor="end" font-weight="bold">40000</text>
<line x1="553.2" y1="398.0" x2="554.2" y2="398.0" stroke="#000" stroke-width="0.4"/>
<line x1="552.4" y1="390.6" x2="554.2" y2="390.6" stroke="#000" stroke-width="0.5"/>
<text x="551.7" y="392.6" font-size="6.0" fill="#000" text-anchor="end" font-weight="bold">50000</text>
<line x1="553.2" y1="383.3" x2="554.2" y2="383.3" stroke="#000" stroke-width="0.4"/>
<line x1="552.4" y1="375.9" x2="554.2" y2="375.9" stroke="#000" stroke-width="0.5"/>
<text x="551.7" y="377.9" font-size="6.0" fill="#000" text-anchor="end" font-weight="bold">60000</text>
<line x1="554.2" y1="479.3" x2="554.2" y2="481.1" stroke="#000" stroke-width="0.5"/>
<text x="554.2" y="486.3" font-size="5.4" fill="#000" text-anchor="middle" font-weight="bold">0</text>
<line x1="566.7" y1="479.3" x2="566.7" y2="480.3" stroke="#000" stroke-width="0.4"/>
<line x1="579.2" y1="479.3" x2="579.2" y2="481.1" stroke="#000" stroke-width="0.5"/>
<text x="579.2" y="486.3" font-size="5.4" fill="#000" text-anchor="middle" font-weight="bold">100</text>
<line x1="591.6" y1="479.3" x2="591.6" y2="480.3" stroke="#000" stroke-width="0.4"/>
<line x1="604.1" y1="479.3" x2="604.1" y2="481.1" stroke="#000" stroke-width="0.5"/>
<text x="604.1" y="486.3" font-size="5.4" fill="#000" text-anchor="middle" font-weight="bold">200</text>
<line x1="616.6" y1="479.3" x2="616.6" y2="480.3" stroke="#000" stroke-width="0.4"/>
<line x1="629.1" y1="479.3" x2="629.1" y2="481.1" stroke="#000" stroke-width="0.5"/>
<text x="629.1" y="486.3" font-size="5.4" fill="#000" text-anchor="middle" font-weight="bold">300</text>
<line x1="641.6" y1="479.3" x2="641.6" y2="480.3" stroke="#000" stroke-width="0.4"/>
<line x1="654.0" y1="479.3" x2="654.0" y2="481.1" stroke="#000" stroke-width="0.5"/>
<text x="654.0" y="486.3" font-size="5.4" fill="#000" text-anchor="middle" font-weight="bold">400</text>
<line x1="666.5" y1="479.3" x2="666.5" y2="480.3" stroke="#000" stroke-width="0.4"/>
<line x1="679.0" y1="479.3" x2="679.0" y2="481.1" stroke="#000" stroke-width="0.5"/>
<text x="679.0" y="486.3" font-size="5.4" fill="#000" text-anchor="middle" font-weight="bold">500</text>
<text x="616.0" y="496.5" font-size="6.6" fill="#000" text-anchor="middle" font-weight="bold">Time (ps)</text>
<text x="532.0" y="427.0" font-size="6.2" fill="#000" text-anchor="middle" font-weight="bold" transform="rotate(-90 532.0 427.0)">E_pair (kJ·mol<tspan font-size="4" dy="-2.5">-1</tspan><tspan dy="2.5">)</tspan></text>
<rect x="639.6" y="456.5" width="2.6" height="2.6" fill="#666666" stroke="#666666" stroke-width="0.4"/>
<text x="648.8" y="459.8" font-size="5.2" fill="#000" text-anchor="start" font-weight="bold">PCF</text>
<circle cx="640.9" cy="465.90000000000003" r="1.3" fill="none" stroke="#f7a08a" stroke-width="0.7"/>
<text x="648.8" y="467.9" font-size="5.2" fill="#000" text-anchor="start" font-weight="bold">PCF/CNT1</text>
<path d="M639.4,475.2 L640.9,472.6 L642.4,475.2Z" fill="#3a9af5" stroke="#3a9af5" stroke-width="0.4"/>
<text x="648.8" y="476.0" font-size="5.2" fill="#000" text-anchor="start" font-weight="bold">PCF/CNT2</text>
<text x="515.3" y="500.2" font-size="15.3" fill="#000" text-anchor="start" font-weight="bold">(k)</text>
<path d="M646.5,549.4 L648.9,553.6 L651.4,549.4Z" fill="#f5d94a" stroke="#f5d94a" stroke-width="0.4"/>
<path d="M580.7,514.0 L583.1,509.8 L585.5,514.0Z" fill="#2a6ad8" stroke="#2a6ad8" stroke-width="0.4"/>
<rect x="568.2" y="515.9" width="4.2" height="4.2" fill="#d8a860" stroke="#d8a860" stroke-width="0.4"/>
<path d="M571.5,520.9 L573.9,525.1 L576.3,520.9Z" fill="#1a9a5a" stroke="#1a9a5a" stroke-width="0.4"/>
<path d="M569.7,522.1 L565.5,524.5 L569.7,527.0Z" fill="#f06a10" stroke="#f06a10" stroke-width="0.4"/>
<rect x="578.6" y="526.1" width="4.0" height="4.0" fill="none" stroke="#f0a060" stroke-width="0.9"/>
<circle cx="567.5" cy="536.4" r="2.1" fill="#f5e020" stroke="#f5e020" stroke-width="0.5"/>
<path d="M569.1,537.0 L564.9,539.4 L569.1,541.8Z" fill="#9ed0f5" stroke="#9ed0f5" stroke-width="0.4"/>
<path d="M568.9,541.8 L571.2,537.8 L573.5,541.8Z" fill="#fff" stroke="#a08070" stroke-width="0.4"/>
<path d="M573.3,538.7 L575.8,542.9 L578.2,538.7Z" fill="#f5d94a" stroke="#f5d94a" stroke-width="0.4"/>
<circle cx="581.9" cy="542.4" r="2" fill="none" stroke="#f0a0e0" stroke-width="0.7"/>
<path d="M584.5,542.4 L586.7,540.2 L588.9,542.4 L586.7,544.6Z" fill="#fff" stroke="#5a7ad8" stroke-width="0.7"/>
<polygon points="583.7,543.8 585.7,545.3 584.9,547.6 582.4,547.6 581.7,545.3" fill="#8a8a20" stroke="#8a8a20" stroke-width="0.6"/>
<line x1="566.3" y1="551.0" x2="570.5" y2="555.2" stroke="#30e0f0" stroke-width="1.2"/>
<line x1="566.3" y1="555.2" x2="570.5" y2="551.0" stroke="#30e0f0" stroke-width="1.2"/>
<circle cx="577.0" cy="553.6" r="2.1" fill="#a060f0" stroke="#a060f0" stroke-width="0.5"/>
<circle cx="581.2" cy="552.5" r="2" fill="none" stroke="#f0a0e0" stroke-width="0.7"/>
<circle cx="573.9" cy="562.0" r="2.1" fill="#40a040" stroke="#40a040" stroke-width="0.5"/>
<circle cx="568.4" cy="589.9" r="2.1" fill="#e83030" stroke="#e83030" stroke-width="0.5"/>
<path d="M595.8,532.8 L600.0,535.2 L595.8,537.6Z" fill="#20c0c0" stroke="#20c0c0" stroke-width="0.4"/>
<path d="M605.7,531.6 L601.5,534.0 L605.7,536.5Z" fill="#c08030" stroke="#c08030" stroke-width="0.4"/>
<path d="M605.0,531.0 L609.2,533.5 L605.0,535.9Z" fill="#a8d4f8" stroke="#a8d4f8" stroke-width="0.4"/>
<polygon points="669.4,520.6 670.1,522.4 672.0,522.5 670.5,523.7 671.0,525.6 669.4,524.5 667.8,525.6 668.3,523.7 666.8,522.5 668.7,522.4" fill="#e83040"/>
<circle cx="570.3" cy="522.2" r="2" fill="none" stroke="#60d060" stroke-width="0.7"/>
<rect x="554.4" y="499" width="124.9" height="101.2" fill="none" stroke="#000" stroke-width="0.8"/>
<line x1="552.6" y1="594.0" x2="554.4" y2="594.0" stroke="#000" stroke-width="0.5"/>
<text x="551.9" y="596.0" font-size="5.6" fill="#000" text-anchor="end" font-weight="bold">20</text>
<line x1="552.6" y1="582.2" x2="554.4" y2="582.2" stroke="#000" stroke-width="0.5"/>
<text x="551.9" y="584.2" font-size="5.6" fill="#000" text-anchor="end" font-weight="bold">40</text>
<line x1="552.6" y1="570.3" x2="554.4" y2="570.3" stroke="#000" stroke-width="0.5"/>
<text x="551.9" y="572.3" font-size="5.6" fill="#000" text-anchor="end" font-weight="bold">60</text>
<line x1="552.6" y1="558.4" x2="554.4" y2="558.4" stroke="#000" stroke-width="0.5"/>
<text x="551.9" y="560.4" font-size="5.6" fill="#000" text-anchor="end" font-weight="bold">80</text>
<line x1="552.6" y1="546.5" x2="554.4" y2="546.5" stroke="#000" stroke-width="0.5"/>
<text x="551.9" y="548.5" font-size="5.6" fill="#000" text-anchor="end" font-weight="bold">100</text>
<line x1="552.6" y1="534.6" x2="554.4" y2="534.6" stroke="#000" stroke-width="0.5"/>
<text x="551.9" y="536.6" font-size="5.6" fill="#000" text-anchor="end" font-weight="bold">120</text>
<line x1="552.6" y1="522.8" x2="554.4" y2="522.8" stroke="#000" stroke-width="0.5"/>
<text x="551.9" y="524.8" font-size="5.6" fill="#000" text-anchor="end" font-weight="bold">140</text>
<line x1="552.6" y1="510.9" x2="554.4" y2="510.9" stroke="#000" stroke-width="0.5"/>
<text x="551.9" y="512.9" font-size="5.6" fill="#000" text-anchor="end" font-weight="bold">160</text>
<line x1="552.6" y1="499.0" x2="554.4" y2="499.0" stroke="#000" stroke-width="0.5"/>
<text x="551.9" y="501.0" font-size="5.6" fill="#000" text-anchor="end" font-weight="bold">180</text>
<line x1="554.4" y1="600.2" x2="554.4" y2="602.0" stroke="#000" stroke-width="0.5"/>
<text x="554.4" y="606.7" font-size="5.4" fill="#000" text-anchor="middle" font-weight="bold">-200</text>
<line x1="566.6" y1="600.2" x2="566.6" y2="602.0" stroke="#000" stroke-width="0.5"/>
<text x="566.6" y="606.7" font-size="5.4" fill="#000" text-anchor="middle" font-weight="bold">0</text>
<line x1="578.8" y1="600.2" x2="578.8" y2="602.0" stroke="#000" stroke-width="0.5"/>
<text x="578.8" y="606.7" font-size="5.4" fill="#000" text-anchor="middle" font-weight="bold">200</text>
<line x1="591.0" y1="600.2" x2="591.0" y2="602.0" stroke="#000" stroke-width="0.5"/>
<text x="591.0" y="606.7" font-size="5.4" fill="#000" text-anchor="middle" font-weight="bold">400</text>
<line x1="603.2" y1="600.2" x2="603.2" y2="602.0" stroke="#000" stroke-width="0.5"/>
<text x="603.2" y="606.7" font-size="5.4" fill="#000" text-anchor="middle" font-weight="bold">600</text>
<line x1="615.4" y1="600.2" x2="615.4" y2="602.0" stroke="#000" stroke-width="0.5"/>
<text x="615.4" y="606.7" font-size="5.4" fill="#000" text-anchor="middle" font-weight="bold">800</text>
<line x1="627.6" y1="600.2" x2="627.6" y2="602.0" stroke="#000" stroke-width="0.5"/>
<text x="627.6" y="606.7" font-size="5.4" fill="#000" text-anchor="middle" font-weight="bold">1000</text>
<line x1="639.8" y1="600.2" x2="639.8" y2="602.0" stroke="#000" stroke-width="0.5"/>
<text x="639.8" y="606.7" font-size="5.4" fill="#000" text-anchor="middle" font-weight="bold">1200</text>
<line x1="652.0" y1="600.2" x2="652.0" y2="602.0" stroke="#000" stroke-width="0.5"/>
<text x="652.0" y="606.7" font-size="5.4" fill="#000" text-anchor="middle" font-weight="bold">1400</text>
<line x1="664.2" y1="600.2" x2="664.2" y2="602.0" stroke="#000" stroke-width="0.5"/>
<text x="664.2" y="606.7" font-size="5.4" fill="#000" text-anchor="middle" font-weight="bold">1600</text>
<line x1="676.4" y1="600.2" x2="676.4" y2="602.0" stroke="#000" stroke-width="0.5"/>
<text x="676.4" y="606.7" font-size="5.4" fill="#000" text-anchor="middle" font-weight="bold">1800</text>
<text x="617.3" y="618.5" font-size="8.3" fill="#000" text-anchor="middle" font-weight="bold" textLength="38" lengthAdjust="spacingAndGlyphs">Strain (%)</text>
<text x="540.5" y="553.0" font-size="8.3" fill="#000" text-anchor="middle" font-weight="bold" transform="rotate(-90 540.5 553.0)">Enthalpy (J·g<tspan font-size="5.5" dy="-3">-1</tspan><tspan dy="3">)</tspan></text>
<path d="M612.2,502.4 L613.7,505.0 L615.2,502.4Z" fill="#f5d94a" stroke="#f5d94a" stroke-width="0.4"/>
<text x="617.8" y="505.1" font-size="4.0" fill="#000" text-anchor="start" font-weight="bold">PE-PCF</text>
<path d="M612.2,509.8 L613.7,507.2 L615.2,509.8Z" fill="#2a6ad8" stroke="#2a6ad8" stroke-width="0.4"/>
<text x="617.8" y="510.1" font-size="4.0" fill="#000" text-anchor="start" font-weight="bold">PE</text>
<path d="M614.9,512.7 L612.3,514.2 L614.9,515.7Z" fill="#c08030" stroke="#c08030" stroke-width="0.4"/>
<text x="617.8" y="515.7" font-size="4.0" fill="#000" text-anchor="start" font-weight="bold">PE-C<tspan font-size="2.6" dy="1">18</tspan></text>
<circle cx="613.7" cy="520.1" r="1.3" fill="#f5e020" stroke="#f5e020" stroke-width="0.5"/>
<text x="617.8" y="521.6" font-size="4.0" fill="#000" text-anchor="start" font-weight="bold">TPU-PW</text>
<circle cx="613.7" cy="525.5" r="1.3" fill="#40a040" stroke="#40a040" stroke-width="0.5"/>
<text x="617.8" y="527.0" font-size="4.0" fill="#000" text-anchor="start" font-weight="bold">PEG/PS</text>
<path d="M612.2,530.0 L613.7,532.6 L615.2,530.0Z" fill="#c0f060" stroke="#c0f060" stroke-width="0.4"/>
<text x="617.8" y="532.7" font-size="4.0" fill="#000" text-anchor="start" font-weight="bold">PVB-PCMC</text>
<circle cx="641.3" cy="503.6" r="1.3" fill="#e83030" stroke="#e83030" stroke-width="0.5"/>
<text x="645.8" y="505.1" font-size="4.0" fill="#000" text-anchor="start" font-weight="bold">PW/PE/PP</text>
<path d="M639.8,507.4 L641.3,510.0 L642.8,507.4Z" fill="#1a9a5a" stroke="#1a9a5a" stroke-width="0.4"/>
<text x="645.8" y="510.1" font-size="4.0" fill="#000" text-anchor="start" font-weight="bold">CNF/PE/PP</text>
<path d="M640.1,512.7 L642.7,514.2 L640.1,515.7Z" fill="#20c0c0" stroke="#20c0c0" stroke-width="0.4"/>
<text x="645.8" y="515.7" font-size="4.0" fill="#000" text-anchor="start" font-weight="bold">PE/LA</text>
<path d="M640.1,518.6 L642.7,520.1 L640.1,521.6Z" fill="#a8d4f8" stroke="#a8d4f8" stroke-width="0.4"/>
<text x="645.8" y="521.6" font-size="4.0" fill="#000" text-anchor="start" font-weight="bold">PU/PVA</text>
<circle cx="641.3" cy="525.5" r="1.3" fill="none" stroke="#f0a0e0" stroke-width="0.5"/>
<text x="645.8" y="527.0" font-size="4.0" fill="#000" text-anchor="start" font-weight="bold">EPU/PW</text>
<circle cx="641.3" cy="531.2" r="1.3" fill="none" stroke="#60d060" stroke-width="0.5"/>
<text x="645.8" y="532.7" font-size="4.0" fill="#000" text-anchor="start" font-weight="bold">PVA-MPCM</text>
<circle cx="582.5" cy="566.0" r="1.3" fill="#a060f0" stroke="#a060f0" stroke-width="0.5"/>
<text x="587.2" y="567.5" font-size="4.0" fill="#000" text-anchor="start" font-weight="bold">C<tspan font-size="2.6" dy="1">18</tspan><tspan dy="-1">@TEOS/PBBV</tspan></text>
<rect x="581.2" y="569.7" width="2.6" height="2.6" fill="#d8a860" stroke="#d8a860" stroke-width="0.4"/>
<text x="587.2" y="572.5" font-size="4.0" fill="#000" text-anchor="start" font-weight="bold">PS/PVDF/SiO<tspan font-size="2.6" dy="1">2</tspan><tspan dy="-1">@Ole</tspan></text>
<path d="M581.0,578.3 L582.5,575.7 L584.0,578.3Z" fill="#fff" stroke="#a08070" stroke-width="0.4"/>
<text x="587.2" y="578.6" font-size="4.0" fill="#000" text-anchor="start" font-weight="bold">PAN/ZnO/C<tspan font-size="2.6" dy="1">18</tspan></text>
<path d="M583.7,581.3 L581.1,582.8 L583.7,584.3Z" fill="#f06a10" stroke="#f06a10" stroke-width="0.4"/>
<text x="587.2" y="584.3" font-size="4.0" fill="#000" text-anchor="start" font-weight="bold">PVB/C18/MR@Oleic</text>
<circle cx="582.5" cy="588.9" r="1.3" fill="none" stroke="#f0a0e0" stroke-width="0.5"/>
<text x="587.2" y="590.4" font-size="4.0" fill="#000" text-anchor="start" font-weight="bold">PBA/PPy/MPCM</text>
<polygon points="582.5,593.3 582.9,594.4 584.1,594.5 583.2,595.2 583.5,596.4 582.5,595.7 581.5,596.4 581.8,595.2 580.9,594.5 582.1,594.4" fill="#e83040"/>
<text x="587.2" y="596.5" font-size="4.0" fill="#000" text-anchor="start" font-weight="bold">Our Work</text>
<path d="M633.8,566.0 L635.2,564.6 L636.6,566.0 L635.2,567.4Z" fill="#fff" stroke="#5a7ad8" stroke-width="0.7"/>
<text x="639.0" y="567.5" font-size="4.0" fill="#000" text-anchor="start" font-weight="bold">EG/CNF/TPU/SA</text>
<line x1="634.0" y1="569.8" x2="636.4" y2="572.2" stroke="#30e0f0" stroke-width="0.8"/>
<line x1="634.0" y1="572.2" x2="636.4" y2="569.8" stroke="#30e0f0" stroke-width="0.8"/>
<text x="639.0" y="572.5" font-size="4.0" fill="#000" text-anchor="start" font-weight="bold">PVDF/TD</text>
<polygon points="635.2,575.8 636.4,576.7 636.0,578.2 634.4,578.2 634.0,576.7" fill="#8a8a20" stroke="#8a8a20" stroke-width="0.6"/>
<text x="639.0" y="578.6" font-size="4.0" fill="#000" text-anchor="start" font-weight="bold">PCNs</text>
<path d="M636.4,581.3 L633.8,582.8 L636.4,584.3Z" fill="#9ed0f5" stroke="#9ed0f5" stroke-width="0.4"/>
<text x="639.0" y="584.3" font-size="4.0" fill="#000" text-anchor="start" font-weight="bold">PEO/BTT/SPTA</text>
<rect x="633.9" y="587.6" width="2.6" height="2.6" fill="none" stroke="#f0a060" stroke-width="0.6"/>
<text x="639.0" y="590.4" font-size="4.0" fill="#000" text-anchor="start" font-weight="bold">MPCM/CNF/SA/TPU</text>
<text x="0.4" y="155.6" font-size="15.3" fill="#000" text-anchor="start" font-weight="bold">(e)</text>
<path d="M25.0,145.6 H30.2 V167 H32.7 L27.6,172.2 L22.5,167 H25.0Z" fill="#14acee"/>
<line x1="34.7" y1="152.3" x2="103.2" y2="152.3" stroke="#b8b8b8" stroke-width="0.9"/>
<line x1="34.7" y1="158.0" x2="103.2" y2="158.0" stroke="#b8b8b8" stroke-width="0.9"/>
<line x1="34.2" y1="150.6" x2="103.2" y2="150.6" stroke="#2a84e0" stroke-width="1.3"/>
<path d="M33.2,149.3 L35.2,150.6 L33.2,151.9Z M102.2,149.3 L104.2,150.6 L102.2,151.9Z" fill="#2a84e0"/>
<line x1="34.2" y1="158.0" x2="103.2" y2="158.0" stroke="#2a84e0" stroke-width="1.3"/>
<path d="M33.2,156.7 L35.2,158.0 L33.2,159.3Z M102.2,156.7 L104.2,158.0 L102.2,159.3Z" fill="#2a84e0"/>
<line x1="34.2" y1="163.4" x2="103.2" y2="163.4" stroke="#2a84e0" stroke-width="1.3"/>
<path d="M33.2,162.1 L35.2,163.4 L33.2,164.7Z M102.2,162.1 L104.2,163.4 L102.2,164.7Z" fill="#2a84e0"/>
<line x1="34.2" y1="148.2" x2="103.7" y2="148.2" stroke="#a01515" stroke-width="1.15"/>
<line x1="34.2" y1="155.3" x2="103.7" y2="155.3" stroke="#a01515" stroke-width="1.15"/>
<line x1="34.2" y1="161.1" x2="103.7" y2="161.1" stroke="#a01515" stroke-width="1.15"/>
<text x="109.3" y="159.4" font-size="14.2" fill="#000" text-anchor="start" font-weight="bold">0 ps</text>
<line x1="36.0" y1="164.1" x2="33.7" y2="171.0" stroke="#555" stroke-width="0.45"/>
<line x1="73.6" y1="164.1" x2="127.7" y2="171.0" stroke="#555" stroke-width="0.45"/>
<rect x="34.0" y="0" width="15.0" height="6" transform="translate(0,185.4)" fill="url(#pz)"/>
<rect x="53.0" y="0" width="49.0" height="6" transform="translate(0,185.4)" fill="url(#pz)"/>
<rect x="110.0" y="0" width="17.5" height="6" transform="translate(0,185.4)" fill="url(#pz)"/>
<rect x="34.0" y="0" width="16.0" height="6" transform="translate(0,202.4)" fill="url(#pz)"/>
<rect x="55.0" y="0" width="49.0" height="6" transform="translate(0,202.4)" fill="url(#pz)"/>
<rect x="112.0" y="0" width="15.5" height="6" transform="translate(0,202.4)" fill="url(#pz)"/>
<rect x="34.0" y="0" width="17.0" height="6" transform="translate(0,231.0)" fill="url(#pz)"/>
<rect x="56.0" y="0" width="49.0" height="6" transform="translate(0,231.0)" fill="url(#pz)"/>
<rect x="113.0" y="0" width="14.5" height="6" transform="translate(0,231.0)" fill="url(#pz)"/>
<path d="M34.0,182.8 L38.0,181.8 L42.0,181.8 L46.0,181.3 L50.0,180.1 L54.0,180.7 L58.0,182.3 L62.0,183.3 L66.0,182.4 L70.0,182.4 L74.0,182.5 L78.0,182.5 L82.0,180.9 L86.0,179.8 L90.0,181.5 L94.0,182.4 L98.0,182.2 L102.0,182.5 L106.0,183.0 L110.0,182.9 L114.0,182.0 L118.0,180.4 L122.0,180.6 L126.0,181.1 L127.5,180.9" stroke="#a00a0a" stroke-width="4.25" fill="none" stroke-linejoin="round"/>
<path d="M34.0,182.8 L38.0,181.8 L42.0,181.8 L46.0,181.3 L50.0,180.1 L54.0,180.7 L58.0,182.3 L62.0,183.3 L66.0,182.4 L70.0,182.4 L74.0,182.5 L78.0,182.5 L82.0,180.9 L86.0,179.8 L90.0,181.5 L94.0,182.4 L98.0,182.2 L102.0,182.5 L106.0,183.0 L110.0,182.9 L114.0,182.0 L118.0,180.4 L122.0,180.6 L126.0,181.1 L127.5,180.9" stroke="#a00a0a" stroke-width="7.82" fill="none" stroke-dasharray="1.4,1.8"/>
<path d="M34.0,215.7 L38.0,214.3 L42.0,214.2 L46.0,214.1 L50.0,213.6 L54.0,213.3 L58.0,214.4 L62.0,216.3 L66.0,216.2 L70.0,215.4 L74.0,215.2 L78.0,214.8 L82.0,213.6 L86.0,212.7 L90.0,213.1 L94.0,215.0 L98.0,215.2 L102.0,215.4 L106.0,215.5 L110.0,216.3 L114.0,215.2 L118.0,213.1 L122.0,212.9 L126.0,214.3 L127.5,214.1" stroke="#a00a0a" stroke-width="4.25" fill="none" stroke-linejoin="round"/>
<path d="M34.0,215.7 L38.0,214.3 L42.0,214.2 L46.0,214.1 L50.0,213.6 L54.0,213.3 L58.0,214.4 L62.0,216.3 L66.0,216.2 L70.0,215.4 L74.0,215.2 L78.0,214.8 L82.0,213.6 L86.0,212.7 L90.0,213.1 L94.0,215.0 L98.0,215.2 L102.0,215.4 L106.0,215.5 L110.0,216.3 L114.0,215.2 L118.0,213.1 L122.0,212.9 L126.0,214.3 L127.5,214.1" stroke="#a00a0a" stroke-width="7.82" fill="none" stroke-dasharray="1.4,1.8"/>
<path d="M34.0,243.5 L38.0,244.1 L42.0,245.4 L46.0,246.1 L50.0,245.5 L54.0,244.6 L58.0,244.7 L62.0,244.5 L66.0,243.3 L70.0,242.9 L74.0,243.6 L78.0,245.1 L82.0,246.1 L86.0,245.1 L90.0,245.2 L94.0,245.2 L98.0,244.1 L102.0,243.2 L106.0,242.8 L110.0,244.4 L114.0,244.7 L118.0,244.9 L122.0,245.1 L126.0,245.9 L127.5,246.4" stroke="#a00a0a" stroke-width="4.25" fill="none" stroke-linejoin="round"/>
<path d="M34.0,243.5 L38.0,244.1 L42.0,245.4 L46.0,246.1 L50.0,245.5 L54.0,244.6 L58.0,244.7 L62.0,244.5 L66.0,243.3 L70.0,242.9 L74.0,243.6 L78.0,245.1 L82.0,246.1 L86.0,245.1 L90.0,245.2 L94.0,245.2 L98.0,244.1 L102.0,243.2 L106.0,242.8 L110.0,244.4 L114.0,244.7 L118.0,244.9 L122.0,245.1 L126.0,245.9 L127.5,246.4" stroke="#a00a0a" stroke-width="7.82" fill="none" stroke-dasharray="1.4,1.8"/>
<path d="M34.0,196.8 L42.0,196.7 L50.0,196.9 L58.0,196.9 L66.0,196.8 L74.0,196.7 L82.0,196.9 L90.0,196.8 L98.0,196.9 L106.0,196.7 L114.0,196.8 L122.0,196.8 L127.5,196.9" stroke="#1a80e4" stroke-width="3.575" fill="none" stroke-linejoin="round"/>
<path d="M34.0,196.8 L42.0,196.7 L50.0,196.9 L58.0,196.9 L66.0,196.8 L74.0,196.7 L82.0,196.9 L90.0,196.8 L98.0,196.9 L106.0,196.7 L114.0,196.8 L122.0,196.8 L127.5,196.9" stroke="#1a80e4" stroke-width="6.5" fill="none" stroke-dasharray="1.2,1.0"/>
<path d="M34.0,225.7 L42.0,225.9 L50.0,225.8 L58.0,225.8 L66.0,225.7 L74.0,225.9 L82.0,225.9 L90.0,225.9 L98.0,225.7 L106.0,225.7 L114.0,225.9 L122.0,225.9 L127.5,225.8" stroke="#1a80e4" stroke-width="3.575" fill="none" stroke-linejoin="round"/>
<path d="M34.0,225.7 L42.0,225.9 L50.0,225.8 L58.0,225.8 L66.0,225.7 L74.0,225.9 L82.0,225.9 L90.0,225.9 L98.0,225.7 L106.0,225.7 L114.0,225.9 L122.0,225.9 L127.5,225.8" stroke="#1a80e4" stroke-width="6.5" fill="none" stroke-dasharray="1.2,1.0"/>
<rect x="33.7" y="171.0" width="94.0" height="81.4" fill="none" stroke="#1a1a1a" stroke-width="0.7" stroke-dasharray="2,1.3"/>
<rect x="38.4" y="266.3" width="10.0" height="11.8" fill="#9a9a9a"/>
<rect x="55.3" y="266.3" width="8.4" height="11.8" fill="#9a9a9a"/>
<rect x="69.1" y="266.3" width="7.7" height="11.8" fill="#9a9a9a"/>
<rect x="83.7" y="266.3" width="7.6" height="11.8" fill="#9a9a9a"/>
<rect x="97.5" y="266.3" width="7.7" height="11.8" fill="#9a9a9a"/>
<line x1="33.3" y1="267.7" x2="105.9" y2="267.7" stroke="#2a84e0" stroke-width="1.3"/>
<rect x="105.9" y="0" width="25.3" height="5" transform="translate(0,265.2)" fill="url(#pw)"/>
<path d="M32.3,266.4 L34.3,267.7 L32.3,269.0Z M130.2,266.4 L132.2,267.7 L130.2,269.0Z" fill="#2a84e0"/>
<line x1="33.3" y1="274.2" x2="105.9" y2="274.2" stroke="#2a84e0" stroke-width="1.3"/>
<rect x="105.9" y="0" width="25.3" height="5" transform="translate(0,271.7)" fill="url(#pw)"/>
<path d="M32.3,272.9 L34.3,274.2 L32.3,275.5Z M130.2,272.9 L132.2,274.2 L130.2,275.5Z" fill="#2a84e0"/>
<line x1="33.3" y1="278.9" x2="105.9" y2="278.9" stroke="#2a84e0" stroke-width="1.3"/>
<rect x="105.9" y="0" width="25.3" height="5" transform="translate(0,276.4)" fill="url(#pw)"/>
<path d="M32.3,277.6 L34.3,278.9 L32.3,280.2Z M130.2,277.6 L132.2,278.9 L130.2,280.2Z" fill="#2a84e0"/>
<line x1="33.3" y1="265.7" x2="131.7" y2="265.7" stroke="#a01515" stroke-width="1.15"/>
<line x1="33.3" y1="271.9" x2="131.7" y2="271.9" stroke="#a01515" stroke-width="1.15"/>
<line x1="33.3" y1="276.9" x2="131.7" y2="276.9" stroke="#a01515" stroke-width="1.15"/>
<text x="133.8" y="276.5" font-size="14.2" fill="#000" text-anchor="start" font-weight="bold">100 ps</text>
<line x1="50.4" y1="279.5" x2="33.6" y2="289.6" stroke="#555" stroke-width="0.45"/>
<line x1="87.8" y1="279.5" x2="129.3" y2="289.6" stroke="#555" stroke-width="0.45"/>
<polygon points="116.8,296.0 119.1,299.0 120.0,302.0 117.2,305.0 120.4,308.0 120.2,311.0 119.3,314.0 118.7,317.0 117.6,320.0 117.4,323.0 121.3,326.0 118.5,329.0 120.5,332.0 118.9,335.0 121.3,338.0 58.4,338.0 57.0,335.0 56.4,332.0 58.5,329.0 55.7,326.0 56.2,323.0 57.4,320.0 58.4,317.0 57.3,314.0 55.8,311.0 58.2,308.0 55.2,305.0 54.4,302.0 55.2,299.0 55.8,296.0" fill="url(#pg)"/>
<polygon points="116.2,354.0 116.1,357.3 116.3,360.6 116.5,363.9 114.1,367.2 114.4,370.5 60.6,370.5 61.5,367.2 60.8,363.9 61.6,360.6 61.7,357.3 60.6,354.0" fill="url(#pg)"/>
<path d="M34.0,292.5 L38.0,292.7 L42.0,292.7 L46.0,292.5 L50.0,292.8 L54.0,292.6 L58.0,292.2 L62.0,291.9 L66.0,292.2 L70.0,292.2 L74.0,292.4 L78.0,292.5 L82.0,292.9 L86.0,293.0 L90.0,292.6 L94.0,292.2 L98.0,292.2 L102.0,292.2 L106.0,292.1 L110.0,292.2 L114.0,292.6 L118.0,292.9 L122.0,292.9 L126.0,292.6 L129.0,292.4" stroke="#a00a0a" stroke-width="3.75" fill="none" stroke-linejoin="round"/>
<path d="M34.0,292.5 L38.0,292.7 L42.0,292.7 L46.0,292.5 L50.0,292.8 L54.0,292.6 L58.0,292.2 L62.0,291.9 L66.0,292.2 L70.0,292.2 L74.0,292.4 L78.0,292.5 L82.0,292.9 L86.0,293.0 L90.0,292.6 L94.0,292.2 L98.0,292.2 L102.0,292.2 L106.0,292.1 L110.0,292.2 L114.0,292.6 L118.0,292.9 L122.0,292.9 L126.0,292.6 L129.0,292.4" stroke="#a00a0a" stroke-width="6.9" fill="none" stroke-dasharray="1.4,1.8"/>
<path d="M34.0,316.2 L38.0,315.9 L42.0,315.9 L46.0,316.1 L50.0,316.2 L54.0,316.2 L58.0,316.4 L62.0,316.5 L66.0,316.4 L70.0,316.1 L74.0,316.0 L78.0,316.1 L82.0,316.0 L86.0,316.0 L90.0,316.1 L94.0,316.4 L98.0,316.5 L102.0,316.3 L106.0,316.2 L110.0,316.2 L114.0,316.1 L118.0,316.0 L122.0,315.9 L126.0,316.1 L129.0,316.3" stroke="#1a80e4" stroke-width="3.4840000000000004" fill="none" stroke-linejoin="round"/>
<path d="M34.0,316.2 L38.0,315.9 L42.0,315.9 L46.0,316.1 L50.0,316.2 L54.0,316.2 L58.0,316.4 L62.0,316.5 L66.0,316.4 L70.0,316.1 L74.0,316.0 L78.0,316.1 L82.0,316.0 L86.0,316.0 L90.0,316.1 L94.0,316.4 L98.0,316.5 L102.0,316.3 L106.0,316.2 L110.0,316.2 L114.0,316.1 L118.0,316.0 L122.0,315.9 L126.0,316.1 L129.0,316.3" stroke="#1a80e4" stroke-width="6.7" fill="none" stroke-dasharray="1.4,1.8"/>
<path d="M34.0,342.5 L38.0,342.2 L42.0,341.8 L46.0,342.3 L50.0,343.1 L54.0,342.9 L58.0,343.0 L62.0,343.0 L66.0,343.1 L70.0,342.6 L74.0,342.0 L78.0,342.1 L82.0,342.4 L86.0,342.5 L90.0,342.5 L94.0,342.9 L98.0,343.5 L102.0,343.2 L106.0,342.5 L110.0,342.2 L114.0,342.5 L118.0,342.1 L122.0,341.9 L126.0,342.5 L129.0,343.0" stroke="#a00a0a" stroke-width="4.25" fill="none" stroke-linejoin="round"/>
<path d="M34.0,342.5 L38.0,342.2 L42.0,341.8 L46.0,342.3 L50.0,343.1 L54.0,342.9 L58.0,343.0 L62.0,343.0 L66.0,343.1 L70.0,342.6 L74.0,342.0 L78.0,342.1 L82.0,342.4 L86.0,342.5 L90.0,342.5 L94.0,342.9 L98.0,343.5 L102.0,343.2 L106.0,342.5 L110.0,342.2 L114.0,342.5 L118.0,342.1 L122.0,341.9 L126.0,342.5 L129.0,343.0" stroke="#a00a0a" stroke-width="7.82" fill="none" stroke-dasharray="1.4,1.8"/>
<path d="M34.0,350.5 L38.0,350.4 L42.0,350.5 L46.0,350.5 L50.0,350.3 L54.0,350.0 L58.0,350.0 L62.0,350.2 L66.0,350.3 L70.0,350.2 L74.0,350.5 L78.0,350.6 L82.0,350.5 L86.0,350.3 L90.0,350.0 L94.0,350.1 L98.0,350.1 L102.0,350.0 L106.0,350.3 L110.0,350.5 L114.0,350.5 L118.0,350.3 L122.0,350.3 L126.0,350.3 L129.0,350.2" stroke="#1a80e4" stroke-width="3.4840000000000004" fill="none" stroke-linejoin="round"/>
<path d="M34.0,350.5 L38.0,350.4 L42.0,350.5 L46.0,350.5 L50.0,350.3 L54.0,350.0 L58.0,350.0 L62.0,350.2 L66.0,350.3 L70.0,350.2 L74.0,350.5 L78.0,350.6 L82.0,350.5 L86.0,350.3 L90.0,350.0 L94.0,350.1 L98.0,350.1 L102.0,350.0 L106.0,350.3 L110.0,350.5 L114.0,350.5 L118.0,350.3 L122.0,350.3 L126.0,350.3 L129.0,350.2" stroke="#1a80e4" stroke-width="6.7" fill="none" stroke-dasharray="1.4,1.8"/>
<text x="44.5" y="308.3" font-size="9.5" font-weight="bold" fill="#111" letter-spacing="0.45">Adsorption</text>
<ellipse cx="103.6" cy="315.3" rx="16.8" ry="5.1" fill="none" stroke="#000" stroke-width="1.0"/>
<rect x="33.6" y="289.6" width="95.7" height="81.1" fill="none" stroke="#1a1a1a" stroke-width="0.7" stroke-dasharray="2,1.3"/>
<rect x="40.4" y="383.4" width="9.5" height="13.0" fill="#9a9a9a"/>
<rect x="61.3" y="383.4" width="8.5" height="13.0" fill="#9a9a9a"/>
<rect x="78.4" y="383.4" width="8.5" height="13.0" fill="#9a9a9a"/>
<rect x="95.5" y="383.4" width="8.5" height="13.0" fill="#9a9a9a"/>
<rect x="112.5" y="383.4" width="8.6" height="13.0" fill="#9a9a9a"/>
<line x1="35.2" y1="385.0" x2="121.5" y2="385.0" stroke="#2a84e0" stroke-width="1.3"/>
<rect x="121.5" y="0" width="29.9" height="5" transform="translate(0,382.5)" fill="url(#pw)"/>
<path d="M34.2,383.7 L36.2,385.0 L34.2,386.3Z M150.4,383.7 L152.4,385.0 L150.4,386.3Z" fill="#2a84e0"/>
<line x1="35.2" y1="392.2" x2="121.5" y2="392.2" stroke="#2a84e0" stroke-width="1.3"/>
<rect x="121.5" y="0" width="29.9" height="5" transform="translate(0,389.7)" fill="url(#pw)"/>
<path d="M34.2,390.9 L36.2,392.2 L34.2,393.5Z M150.4,390.9 L152.4,392.2 L150.4,393.5Z" fill="#2a84e0"/>
<line x1="35.2" y1="397.4" x2="121.5" y2="397.4" stroke="#2a84e0" stroke-width="1.3"/>
<rect x="121.5" y="0" width="29.9" height="5" transform="translate(0,394.9)" fill="url(#pw)"/>
<path d="M34.2,396.1 L36.2,397.4 L34.2,398.7Z M150.4,396.1 L152.4,397.4 L150.4,398.7Z" fill="#2a84e0"/>
<line x1="35.2" y1="382.8" x2="151.9" y2="382.8" stroke="#a01515" stroke-width="1.15"/>
<line x1="35.2" y1="389.6" x2="151.9" y2="389.6" stroke="#a01515" stroke-width="1.15"/>
<line x1="35.2" y1="395.1" x2="151.9" y2="395.1" stroke="#a01515" stroke-width="1.15"/>
<text x="154.3" y="399.5" font-size="14.2" fill="#000" text-anchor="start" font-weight="bold">150 ps</text>
<line x1="66.7" y1="398.4" x2="33.6" y2="406.0" stroke="#555" stroke-width="0.45"/>
<line x1="97.1" y1="398.4" x2="130.3" y2="406.0" stroke="#555" stroke-width="0.45"/>
<polygon points="109.6,411.0 110.2,414.0 110.8,417.0 109.7,420.0 107.8,423.0 57.9,423.0 56.7,420.0 56.0,417.0 57.9,414.0 58.9,411.0" fill="url(#pg)"/>
<polygon points="107.7,430.0 108.1,433.5 108.4,437.0 109.8,440.5 109.1,444.0 58.5,444.0 59.0,440.5 57.6,437.0 59.2,433.5 59.6,430.0" fill="url(#pg)"/>
<polygon points="111.3,458.0 114.7,461.0 113.9,464.0 111.5,467.0 112.8,470.0 113.5,473.0 64.6,473.0 62.5,470.0 63.3,467.0 64.5,464.0 64.2,461.0 64.8,458.0" fill="url(#pg)"/>
<path d="M34.0,408.4 L38.0,408.5 L42.0,408.5 L46.0,408.2 L50.0,408.0 L54.0,408.1 L58.0,408.6 L62.0,408.7 L66.0,408.7 L70.0,408.6 L74.0,408.7 L78.0,408.4 L82.0,408.1 L86.0,408.1 L90.0,408.2 L94.0,408.3 L98.0,408.4 L102.0,408.6 L106.0,408.9 L110.0,408.7 L114.0,408.2 L118.0,408.2 L122.0,408.1 L126.0,408.3 L130.0,408.1" stroke="#a00a0a" stroke-width="3.5" fill="none" stroke-linejoin="round"/>
<path d="M34.0,408.4 L38.0,408.5 L42.0,408.5 L46.0,408.2 L50.0,408.0 L54.0,408.1 L58.0,408.6 L62.0,408.7 L66.0,408.7 L70.0,408.6 L74.0,408.7 L78.0,408.4 L82.0,408.1 L86.0,408.1 L90.0,408.2 L94.0,408.3 L98.0,408.4 L102.0,408.6 L106.0,408.9 L110.0,408.7 L114.0,408.2 L118.0,408.2 L122.0,408.1 L126.0,408.3 L130.0,408.1" stroke="#a00a0a" stroke-width="6.44" fill="none" stroke-dasharray="1.4,1.8"/>
<path d="M34.0,427.7 L38.0,427.8 L42.0,427.8 L46.0,427.5 L50.0,427.4 L54.0,427.5 L58.0,427.6 L62.0,427.5 L66.0,427.7 L70.0,427.8 L74.0,427.9 L78.0,427.7 L82.0,427.5 L86.0,427.5 L90.0,427.5 L94.0,427.4 L98.0,427.5 L102.0,427.7 L106.0,427.9 L110.0,427.8 L114.0,427.7 L118.0,427.7 L122.0,427.6 L126.0,427.5 L130.0,427.3" stroke="#1a80e4" stroke-width="3.12" fill="none" stroke-linejoin="round"/>
<path d="M34.0,427.7 L38.0,427.8 L42.0,427.8 L46.0,427.5 L50.0,427.4 L54.0,427.5 L58.0,427.6 L62.0,427.5 L66.0,427.7 L70.0,427.8 L74.0,427.9 L78.0,427.7 L82.0,427.5 L86.0,427.5 L90.0,427.5 L94.0,427.4 L98.0,427.5 L102.0,427.7 L106.0,427.9 L110.0,427.8 L114.0,427.7 L118.0,427.7 L122.0,427.6 L126.0,427.5 L130.0,427.3" stroke="#1a80e4" stroke-width="6" fill="none" stroke-dasharray="1.4,1.8"/>
<path d="M34.0,446.2 L38.0,446.0 L42.0,446.1 L46.0,445.9 L50.0,445.4 L54.0,446.1 L58.0,446.7 L62.0,447.0 L66.0,446.8 L70.0,446.5 L74.0,446.5 L78.0,446.3 L82.0,445.4 L86.0,445.5 L90.0,446.1 L94.0,446.8 L98.0,446.8 L102.0,446.5 L106.0,446.9 L110.0,446.6 L114.0,446.0 L118.0,445.7 L122.0,445.9 L126.0,446.1 L130.0,446.1" stroke="#a00a0a" stroke-width="4.0" fill="none" stroke-linejoin="round"/>
<path d="M34.0,446.2 L38.0,446.0 L42.0,446.1 L46.0,445.9 L50.0,445.4 L54.0,446.1 L58.0,446.7 L62.0,447.0 L66.0,446.8 L70.0,446.5 L74.0,446.5 L78.0,446.3 L82.0,445.4 L86.0,445.5 L90.0,446.1 L94.0,446.8 L98.0,446.8 L102.0,446.5 L106.0,446.9 L110.0,446.6 L114.0,446.0 L118.0,445.7 L122.0,445.9 L126.0,446.1 L130.0,446.1" stroke="#a00a0a" stroke-width="7.36" fill="none" stroke-dasharray="1.4,1.8"/>
<path d="M34.0,454.5 L38.0,454.5 L42.0,454.8 L46.0,454.5 L50.0,454.2 L54.0,454.2 L58.0,454.3 L62.0,454.2 L66.0,454.2 L70.0,454.4 L74.0,454.6 L78.0,454.7 L82.0,454.4 L86.0,454.4 L90.0,454.3 L94.0,454.2 L98.0,454.1 L102.0,454.2 L106.0,454.5 L110.0,454.6 L114.0,454.6 L118.0,454.5 L122.0,454.5 L126.0,454.5 L130.0,454.2" stroke="#1a80e4" stroke-width="3.12" fill="none" stroke-linejoin="round"/>
<path d="M34.0,454.5 L38.0,454.5 L42.0,454.8 L46.0,454.5 L50.0,454.2 L54.0,454.2 L58.0,454.3 L62.0,454.2 L66.0,454.2 L70.0,454.4 L74.0,454.6 L78.0,454.7 L82.0,454.4 L86.0,454.4 L90.0,454.3 L94.0,454.2 L98.0,454.1 L102.0,454.2 L106.0,454.5 L110.0,454.6 L114.0,454.6 L118.0,454.5 L122.0,454.5 L126.0,454.5 L130.0,454.2" stroke="#1a80e4" stroke-width="6" fill="none" stroke-dasharray="1.4,1.8"/>
<path d="M34.0,477.2 L38.0,477.3 L42.0,476.8 L46.0,476.5 L50.0,476.7 L54.0,477.3 L58.0,477.4 L62.0,477.3 L66.0,477.5 L70.0,477.5 L74.0,477.4 L78.0,476.8 L82.0,476.4 L86.0,476.7 L90.0,477.1 L94.0,477.0 L98.0,477.1 L102.0,477.8 L106.0,477.6 L110.0,477.2 L114.0,476.7 L118.0,476.8 L122.0,476.9 L126.0,476.5 L130.0,476.8" stroke="#a00a0a" stroke-width="4.0" fill="none" stroke-linejoin="round"/>
<path d="M34.0,477.2 L38.0,477.3 L42.0,476.8 L46.0,476.5 L50.0,476.7 L54.0,477.3 L58.0,477.4 L62.0,477.3 L66.0,477.5 L70.0,477.5 L74.0,477.4 L78.0,476.8 L82.0,476.4 L86.0,476.7 L90.0,477.1 L94.0,477.0 L98.0,477.1 L102.0,477.8 L106.0,477.6 L110.0,477.2 L114.0,476.7 L118.0,476.8 L122.0,476.9 L126.0,476.5 L130.0,476.8" stroke="#a00a0a" stroke-width="7.36" fill="none" stroke-dasharray="1.4,1.8"/>
<path d="M34.0,484.8 L38.0,484.6 L42.0,484.6 L46.0,484.6 L50.0,484.8 L54.0,485.1 L58.0,485.0 L62.0,484.8 L66.0,484.8 L70.0,484.8 L74.0,484.7 L78.0,484.5 L82.0,484.6 L86.0,484.8 L90.0,484.9 L94.0,484.9 L98.0,485.0 L102.0,485.1 L106.0,484.9 L110.0,484.5 L114.0,484.5 L118.0,484.7 L122.0,484.8 L126.0,484.8 L130.0,484.9" stroke="#1a80e4" stroke-width="2.34" fill="none" stroke-linejoin="round"/>
<path d="M34.0,484.8 L38.0,484.6 L42.0,484.6 L46.0,484.6 L50.0,484.8 L54.0,485.1 L58.0,485.0 L62.0,484.8 L66.0,484.8 L70.0,484.8 L74.0,484.7 L78.0,484.5 L82.0,484.6 L86.0,484.8 L90.0,484.9 L94.0,484.9 L98.0,485.0 L102.0,485.1 L106.0,484.9 L110.0,484.5 L114.0,484.5 L118.0,484.7 L122.0,484.8 L126.0,484.8 L130.0,484.9" stroke="#1a80e4" stroke-width="4.5" fill="none" stroke-dasharray="1.4,1.8"/>
<text x="39.4" y="440.0" font-size="9.5" font-weight="bold" fill="#111" letter-spacing="0.45">Partial rupture</text>
<ellipse cx="49.2" cy="454.4" rx="12.1" ry="5.8" fill="none" stroke="#000" stroke-width="1.0"/>
<rect x="33.6" y="406.0" width="96.7" height="81.1" fill="none" stroke="#1a1a1a" stroke-width="0.7" stroke-dasharray="2,1.3"/>
<rect x="39.9" y="501.7" width="8.7" height="13.4" fill="#9a9a9a"/>
<rect x="65.0" y="501.7" width="9.9" height="13.4" fill="#9a9a9a"/>
<rect x="85.8" y="501.7" width="9.5" height="13.4" fill="#9a9a9a"/>
<rect x="106.6" y="501.7" width="9.2" height="13.4" fill="#9a9a9a"/>
<rect x="127.4" y="501.7" width="9.9" height="13.4" fill="#9a9a9a"/>
<line x1="32.8" y1="503.4" x2="137.5" y2="503.4" stroke="#2a84e0" stroke-width="1.3"/>
<rect x="137.5" y="0" width="38.1" height="5" transform="translate(0,500.9)" fill="url(#pw)"/>
<path d="M31.8,502.1 L33.8,503.4 L31.8,504.7Z M174.6,502.1 L176.6,503.4 L174.6,504.7Z" fill="#2a84e0"/>
<line x1="32.8" y1="510.8" x2="137.5" y2="510.8" stroke="#2a84e0" stroke-width="1.3"/>
<rect x="137.5" y="0" width="38.1" height="5" transform="translate(0,508.3)" fill="url(#pw)"/>
<path d="M31.8,509.5 L33.8,510.8 L31.8,512.1Z M174.6,509.5 L176.6,510.8 L174.6,512.1Z" fill="#2a84e0"/>
<line x1="32.8" y1="516.1" x2="137.5" y2="516.1" stroke="#2a84e0" stroke-width="1.3"/>
<rect x="137.5" y="0" width="38.1" height="5" transform="translate(0,513.6)" fill="url(#pw)"/>
<path d="M31.8,514.8 L33.8,516.1 L31.8,517.4Z M174.6,514.8 L176.6,516.1 L174.6,517.4Z" fill="#2a84e0"/>
<line x1="32.8" y1="501.0" x2="176.1" y2="501.0" stroke="#a01515" stroke-width="1.15"/>
<line x1="32.8" y1="508.1" x2="176.1" y2="508.1" stroke="#a01515" stroke-width="1.15"/>
<line x1="32.8" y1="513.8" x2="176.1" y2="513.8" stroke="#a01515" stroke-width="1.15"/>
<text x="140.8" y="531.2" font-size="14.2" fill="#000" text-anchor="start" font-weight="bold">260 ps</text>
<line x1="85.0" y1="516.8" x2="33.6" y2="524.9" stroke="#555" stroke-width="0.45"/>
<line x1="97.0" y1="516.8" x2="128.6" y2="524.9" stroke="#555" stroke-width="0.45"/>
<polygon points="116.9,527.0 117.1,530.5 116.7,534.0 117.4,537.5 115.1,541.0 60.8,541.0 61.4,537.5 58.7,534.0 59.8,530.5 61.0,527.0" fill="url(#pg)"/>
<polygon points="116.6,543.0 115.8,546.3 115.7,549.6 117.1,552.9 115.1,556.1 118.6,559.4 118.2,562.7 117.8,566.0 53.4,566.0 52.5,562.7 51.6,559.4 52.4,556.1 52.0,552.9 53.9,549.6 53.2,546.3 51.0,543.0" fill="url(#pg)"/>
<polygon points="119.6,580.0 119.0,583.0 119.1,586.0 119.3,589.0 117.6,592.0 119.6,595.0 119.5,598.0 60.8,598.0 61.1,595.0 61.1,592.0 59.6,589.0 60.9,586.0 58.3,583.0 59.4,580.0" fill="url(#pg)"/>
<line x1="34.0" y1="525.8" x2="128.0" y2="525.8" stroke="#a00a0a" stroke-width="0.4"/>
<line x1="34.0" y1="525.8" x2="128.0" y2="525.8" stroke="#a00a0a" stroke-width="2.5" stroke-dasharray="1.5,2.1"/>
<line x1="34.0" y1="545.2" x2="128.0" y2="545.2" stroke="#1a80e4" stroke-width="1.4"/>
<line x1="34.0" y1="545.2" x2="128.0" y2="545.2" stroke="#1a80e4" stroke-width="6" stroke-dasharray="1.6,1.6999999999999997"/>
<line x1="34.0" y1="569.8" x2="128.0" y2="569.8" stroke="#a00a0a" stroke-width="0.8"/>
<line x1="34.0" y1="569.8" x2="128.0" y2="569.8" stroke="#a00a0a" stroke-width="5.5" stroke-dasharray="1.6,1.7999999999999998"/>
<line x1="34.0" y1="576.8" x2="128.0" y2="576.8" stroke="#1a80e4" stroke-width="0.8"/>
<line x1="34.0" y1="576.8" x2="128.0" y2="576.8" stroke="#1a80e4" stroke-width="5.5" stroke-dasharray="1.6,1.7999999999999998"/>
<line x1="34.0" y1="604.0" x2="128.0" y2="604.0" stroke="#a00a0a" stroke-width="1.0"/>
<line x1="34.0" y1="604.0" x2="128.0" y2="604.0" stroke="#a00a0a" stroke-width="3.5" stroke-dasharray="1.6,1.0"/>
<text x="43.4" y="536.7" font-size="9.5" font-weight="bold" fill="#111" letter-spacing="0.45">Adsorption</text>
<text x="41.0" y="593.9" font-size="9.5" font-weight="bold" fill="#111" letter-spacing="0.45">Fiber fracture</text>
<ellipse cx="64.4" cy="547.6" rx="25.7" ry="7.0" fill="none" stroke="#000" stroke-width="1.0"/>
<ellipse cx="62.0" cy="572.8" rx="25.7" ry="7.5" fill="none" stroke="#000" stroke-width="1.0"/>
<rect x="33.6" y="524.9" width="95.0" height="81.1" fill="none" stroke="#1a1a1a" stroke-width="0.7" stroke-dasharray="2,1.3"/>
<text x="167.4" y="155.6" font-size="15.3" fill="#000" text-anchor="start" font-weight="bold">(f)</text>
<path d="M192.8,143.9 H198.0 V165.4 H200.5 L195.4,170.6 L190.3,165.4 H192.8Z" fill="#14acee"/>
<line x1="207.9" y1="151.6" x2="282.7" y2="151.6" stroke="#b8b8b8" stroke-width="0.9"/>
<line x1="207.9" y1="157.3" x2="282.7" y2="157.3" stroke="#b8b8b8" stroke-width="0.9"/>
<rect x="212.0" y="149.8" width="10.0" height="1.8" fill="#111"/>
<rect x="235.0" y="154.0" width="9.0" height="1.8" fill="#111"/>
<rect x="255.0" y="159.1" width="10.0" height="1.8" fill="#111"/>
<line x1="207.4" y1="149.9" x2="282.7" y2="149.9" stroke="#2a84e0" stroke-width="1.3"/>
<path d="M206.4,148.6 L208.4,149.9 L206.4,151.2Z M281.7,148.6 L283.7,149.9 L281.7,151.2Z" fill="#2a84e0"/>
<line x1="207.4" y1="157.3" x2="282.7" y2="157.3" stroke="#2a84e0" stroke-width="1.3"/>
<path d="M206.4,156.0 L208.4,157.3 L206.4,158.6Z M281.7,156.0 L283.7,157.3 L281.7,158.6Z" fill="#2a84e0"/>
<line x1="207.4" y1="162.7" x2="282.7" y2="162.7" stroke="#2a84e0" stroke-width="1.3"/>
<path d="M206.4,161.4 L208.4,162.7 L206.4,164.0Z M281.7,161.4 L283.7,162.7 L281.7,164.0Z" fill="#2a84e0"/>
<line x1="207.4" y1="147.5" x2="283.2" y2="147.5" stroke="#a01515" stroke-width="1.15"/>
<line x1="207.4" y1="154.6" x2="283.2" y2="154.6" stroke="#a01515" stroke-width="1.15"/>
<line x1="207.4" y1="160.4" x2="283.2" y2="160.4" stroke="#a01515" stroke-width="1.15"/>
<text x="285.0" y="159.4" font-size="14.2" fill="#000" text-anchor="start" font-weight="bold">0 ps</text>
<line x1="221.9" y1="163.4" x2="204.4" y2="171.5" stroke="#555" stroke-width="0.45"/>
<line x1="253.5" y1="163.4" x2="310.0" y2="171.5" stroke="#555" stroke-width="0.45"/>
<rect x="205.0" y="0" width="11.0" height="6" transform="translate(0,182.6)" fill="url(#pz)"/>
<rect x="220.0" y="0" width="50.0" height="6" transform="translate(0,182.6)" fill="url(#pz)"/>
<rect x="278.0" y="0" width="31.5" height="6" transform="translate(0,182.6)" fill="url(#pz)"/>
<rect x="205.0" y="0" width="12.0" height="6" transform="translate(0,201.8)" fill="url(#pz)"/>
<rect x="282.0" y="0" width="27.5" height="6" transform="translate(0,201.8)" fill="url(#pz)"/>
<rect x="205.0" y="0" width="13.0" height="6" transform="translate(0,234.0)" fill="url(#pz)"/>
<rect x="222.0" y="0" width="48.0" height="6" transform="translate(0,234.0)" fill="url(#pz)"/>
<rect x="280.0" y="0" width="29.5" height="6" transform="translate(0,234.0)" fill="url(#pz)"/>
<rect x="227.8" y="200.3" width="53.7" height="9.3" fill="url(#pc1)"/>
<path d="M204.5,175.4 L208.5,175.8 L212.5,177.0 L216.5,177.5 L220.5,177.4 L224.5,176.3 L228.5,175.9 L232.5,176.0 L236.5,175.2 L240.5,174.9 L244.5,175.8 L248.5,177.4 L252.5,177.3 L256.5,176.9 L260.5,177.0 L264.5,177.1 L268.5,175.5 L272.5,174.8 L276.5,175.2 L280.5,175.9 L284.5,176.5 L288.5,176.2 L292.5,176.8 L296.5,177.4 L300.5,176.6 L304.5,175.3 L308.5,175.3 L310.0,175.2" stroke="#a00a0a" stroke-width="4.25" fill="none" stroke-linejoin="round"/>
<path d="M204.5,175.4 L208.5,175.8 L212.5,177.0 L216.5,177.5 L220.5,177.4 L224.5,176.3 L228.5,175.9 L232.5,176.0 L236.5,175.2 L240.5,174.9 L244.5,175.8 L248.5,177.4 L252.5,177.3 L256.5,176.9 L260.5,177.0 L264.5,177.1 L268.5,175.5 L272.5,174.8 L276.5,175.2 L280.5,175.9 L284.5,176.5 L288.5,176.2 L292.5,176.8 L296.5,177.4 L300.5,176.6 L304.5,175.3 L308.5,175.3 L310.0,175.2" stroke="#a00a0a" stroke-width="7.82" fill="none" stroke-dasharray="1.4,1.8"/>
<path d="M204.5,214.5 L208.5,214.9 L212.5,215.6 L216.5,216.5 L220.5,215.4 L224.5,214.6 L228.5,214.4 L232.5,214.0 L236.5,214.2 L240.5,213.4 L244.5,214.5 L248.5,215.6 L252.5,216.0 L256.5,215.4 L260.5,214.8 L264.5,215.4 L268.5,214.3 L272.5,213.4 L276.5,213.7 L280.5,214.7 L284.5,215.3 L288.5,215.4 L292.5,215.5 L296.5,215.7 L300.5,215.5 L304.5,213.8 L308.5,213.1 L310.0,213.4" stroke="#a00a0a" stroke-width="4.25" fill="none" stroke-linejoin="round"/>
<path d="M204.5,214.5 L208.5,214.9 L212.5,215.6 L216.5,216.5 L220.5,215.4 L224.5,214.6 L228.5,214.4 L232.5,214.0 L236.5,214.2 L240.5,213.4 L244.5,214.5 L248.5,215.6 L252.5,216.0 L256.5,215.4 L260.5,214.8 L264.5,215.4 L268.5,214.3 L272.5,213.4 L276.5,213.7 L280.5,214.7 L284.5,215.3 L288.5,215.4 L292.5,215.5 L296.5,215.7 L300.5,215.5 L304.5,213.8 L308.5,213.1 L310.0,213.4" stroke="#a00a0a" stroke-width="7.82" fill="none" stroke-dasharray="1.4,1.8"/>
<path d="M204.5,248.0 L208.5,247.2 L212.5,247.8 L216.5,247.4 L220.5,246.6 L224.5,248.0 L228.5,249.3 L232.5,249.0 L236.5,248.9 L240.5,248.1 L244.5,248.1 L248.5,247.9 L252.5,246.5 L256.5,246.8 L260.5,248.3 L264.5,248.9 L268.5,248.6 L272.5,249.0 L276.5,249.2 L280.5,248.6 L284.5,247.0 L288.5,246.7 L292.5,247.2 L296.5,247.7 L300.5,247.6 L304.5,248.3 L308.5,248.9 L310.0,249.4" stroke="#a00a0a" stroke-width="4.25" fill="none" stroke-linejoin="round"/>
<path d="M204.5,248.0 L208.5,247.2 L212.5,247.8 L216.5,247.4 L220.5,246.6 L224.5,248.0 L228.5,249.3 L232.5,249.0 L236.5,248.9 L240.5,248.1 L244.5,248.1 L248.5,247.9 L252.5,246.5 L256.5,246.8 L260.5,248.3 L264.5,248.9 L268.5,248.6 L272.5,249.0 L276.5,249.2 L280.5,248.6 L284.5,247.0 L288.5,246.7 L292.5,247.2 L296.5,247.7 L300.5,247.6 L304.5,248.3 L308.5,248.9 L310.0,249.4" stroke="#a00a0a" stroke-width="7.82" fill="none" stroke-dasharray="1.4,1.8"/>
<path d="M204.5,195.6 L212.5,195.7 L220.5,195.6 L228.5,195.5 L236.5,195.6 L244.5,195.7 L252.5,195.7 L260.5,195.6 L268.5,195.5 L276.5,195.6 L284.5,195.7 L292.5,195.7 L300.5,195.5 L308.5,195.6 L310.0,195.5" stroke="#1a80e4" stroke-width="3.575" fill="none" stroke-linejoin="round"/>
<path d="M204.5,195.6 L212.5,195.7 L220.5,195.6 L228.5,195.5 L236.5,195.6 L244.5,195.7 L252.5,195.7 L260.5,195.6 L268.5,195.5 L276.5,195.6 L284.5,195.7 L292.5,195.7 L300.5,195.5 L308.5,195.6 L310.0,195.5" stroke="#1a80e4" stroke-width="6.5" fill="none" stroke-dasharray="1.2,1.0"/>
<path d="M204.5,228.4 L212.5,228.4 L220.5,228.3 L228.5,228.2 L236.5,228.3 L244.5,228.4 L252.5,228.4 L260.5,228.3 L268.5,228.2 L276.5,228.3 L284.5,228.4 L292.5,228.3 L300.5,228.2 L308.5,228.2 L310.0,228.2" stroke="#1a80e4" stroke-width="3.575" fill="none" stroke-linejoin="round"/>
<path d="M204.5,228.4 L212.5,228.4 L220.5,228.3 L228.5,228.2 L236.5,228.3 L244.5,228.4 L252.5,228.4 L260.5,228.3 L268.5,228.2 L276.5,228.3 L284.5,228.4 L292.5,228.3 L300.5,228.2 L308.5,228.2 L310.0,228.2" stroke="#1a80e4" stroke-width="6.5" fill="none" stroke-dasharray="1.2,1.0"/>
<rect x="204.4" y="171.5" width="105.6" height="80.6" fill="none" stroke="#1a1a1a" stroke-width="0.7" stroke-dasharray="2,1.3"/>
<rect x="209.5" y="266.3" width="9.5" height="12.3" fill="#9a9a9a"/>
<rect x="224.1" y="266.3" width="9.5" height="12.3" fill="#9a9a9a"/>
<rect x="238.0" y="266.3" width="8.7" height="12.3" fill="#9a9a9a"/>
<rect x="250.4" y="266.3" width="9.5" height="12.3" fill="#9a9a9a"/>
<rect x="262.8" y="266.3" width="8.7" height="12.3" fill="#9a9a9a"/>
<rect x="210.2" y="266.8" width="8.0" height="1.8" fill="#111"/>
<rect x="238.7" y="270.1" width="6.6" height="1.8" fill="#111"/>
<rect x="264.2" y="275.3" width="6.6" height="1.8" fill="#111"/>
<line x1="205.3" y1="267.9" x2="272.3" y2="267.9" stroke="#2a84e0" stroke-width="1.3"/>
<rect x="272.3" y="0" width="21.1" height="5" transform="translate(0,265.4)" fill="url(#pw)"/>
<path d="M204.3,266.6 L206.3,267.9 L204.3,269.2Z M292.4,266.6 L294.4,267.9 L292.4,269.2Z" fill="#2a84e0"/>
<line x1="205.3" y1="274.7" x2="272.3" y2="274.7" stroke="#2a84e0" stroke-width="1.3"/>
<rect x="272.3" y="0" width="21.1" height="5" transform="translate(0,272.2)" fill="url(#pw)"/>
<path d="M204.3,273.4 L206.3,274.7 L204.3,276.0Z M292.4,273.4 L294.4,274.7 L292.4,276.0Z" fill="#2a84e0"/>
<line x1="205.3" y1="279.6" x2="272.3" y2="279.6" stroke="#2a84e0" stroke-width="1.3"/>
<rect x="272.3" y="0" width="21.1" height="5" transform="translate(0,277.1)" fill="url(#pw)"/>
<path d="M204.3,278.3 L206.3,279.6 L204.3,280.9Z M292.4,278.3 L294.4,279.6 L292.4,280.9Z" fill="#2a84e0"/>
<line x1="205.3" y1="265.7" x2="293.9" y2="265.7" stroke="#a01515" stroke-width="1.15"/>
<line x1="205.3" y1="272.2" x2="293.9" y2="272.2" stroke="#a01515" stroke-width="1.15"/>
<line x1="205.3" y1="277.4" x2="293.9" y2="277.4" stroke="#a01515" stroke-width="1.15"/>
<text x="298.6" y="276.5" font-size="14.2" fill="#000" text-anchor="start" font-weight="bold">100 ps</text>
<line x1="220.4" y1="280.2" x2="204.5" y2="289.6" stroke="#555" stroke-width="0.45"/>
<line x1="273.0" y1="280.2" x2="310.3" y2="289.6" stroke="#555" stroke-width="0.45"/>
<polygon points="214.3,296.0 214.3,299.1 216.7,302.3 216.2,305.4 216.5,308.6 215.5,311.7 215.9,314.9 214.8,318.0 215.4,321.1 217.0,324.3 217.4,327.4 214.3,330.6 214.5,333.7 217.2,336.9 216.5,340.0 206.1,340.0 203.9,336.9 204.7,333.7 204.0,330.6 206.2,327.4 204.5,324.3 205.6,321.1 207.0,318.0 204.3,314.9 205.2,311.7 206.0,308.6 206.7,305.4 204.7,302.3 204.5,299.1 203.4,296.0" fill="url(#pg)"/>
<polygon points="301.5,295.0 298.3,298.7 298.3,302.3 300.3,306.0 254.9,306.0 255.7,302.3 254.2,298.7 256.1,295.0" fill="url(#pg)"/>
<polygon points="290.3,350.0 290.9,353.2 292.6,356.4 290.3,359.6 291.2,362.8 292.9,366.0 205.8,366.0 204.1,362.8 203.6,359.6 204.4,356.4 205.9,353.2 204.5,350.0" fill="url(#pg)"/>
<path d="M204.5,292.0 L208.5,291.7 L212.5,291.5 L216.5,291.7 L220.5,292.0 L224.5,292.2 L228.5,292.0 L232.5,292.2 L236.5,292.3 L240.5,292.1 L244.5,291.6 L248.5,291.4 L252.5,291.7 L256.5,291.8 L260.5,291.8 L264.5,292.0 L268.5,292.4 L272.5,292.2 L276.5,291.9 L280.5,291.7 L284.5,291.7 L288.5,291.7 L292.5,291.5 L296.5,291.6 L300.5,292.3 L304.5,292.5 L308.5,292.1 L310.0,291.9" stroke="#a00a0a" stroke-width="3.75" fill="none" stroke-linejoin="round"/>
<path d="M204.5,292.0 L208.5,291.7 L212.5,291.5 L216.5,291.7 L220.5,292.0 L224.5,292.2 L228.5,292.0 L232.5,292.2 L236.5,292.3 L240.5,292.1 L244.5,291.6 L248.5,291.4 L252.5,291.7 L256.5,291.8 L260.5,291.8 L264.5,292.0 L268.5,292.4 L272.5,292.2 L276.5,291.9 L280.5,291.7 L284.5,291.7 L288.5,291.7 L292.5,291.5 L296.5,291.6 L300.5,292.3 L304.5,292.5 L308.5,292.1 L310.0,291.9" stroke="#a00a0a" stroke-width="6.9" fill="none" stroke-dasharray="1.4,1.8"/>
<path d="M204.5,311.5 L208.5,311.7 L212.5,311.7 L216.5,311.7 L220.5,311.6 L224.5,311.7 L228.5,311.4 L232.5,311.1 L236.5,311.2 L240.5,311.5 L244.5,311.6 L248.5,311.5 L252.5,311.7 L256.5,311.8 L260.5,311.6 L264.5,311.4 L268.5,311.3 L272.5,311.3 L276.5,311.4 L280.5,311.3 L284.5,311.6 L288.5,311.8 L292.5,311.7 L296.5,311.6 L300.5,311.5 L304.5,311.5 L308.5,311.3 L310.0,311.3" stroke="#1a80e4" stroke-width="3.64" fill="none" stroke-linejoin="round"/>
<path d="M204.5,311.5 L208.5,311.7 L212.5,311.7 L216.5,311.7 L220.5,311.6 L224.5,311.7 L228.5,311.4 L232.5,311.1 L236.5,311.2 L240.5,311.5 L244.5,311.6 L248.5,311.5 L252.5,311.7 L256.5,311.8 L260.5,311.6 L264.5,311.4 L268.5,311.3 L272.5,311.3 L276.5,311.4 L280.5,311.3 L284.5,311.6 L288.5,311.8 L292.5,311.7 L296.5,311.6 L300.5,311.5 L304.5,311.5 L308.5,311.3 L310.0,311.3" stroke="#1a80e4" stroke-width="7" fill="none" stroke-dasharray="1.4,1.8"/>
<polygon points="292.8,315.0 293.7,317.2 291.6,319.3 293.3,321.5 228.7,321.5 229.4,319.3 229.2,317.2 229.3,315.0" fill="url(#pg)"/>
<rect x="236.7" y="320.5" width="50.3" height="12.8" fill="#111"/>
<line x1="238.7" y1="321.5" x2="285.0" y2="321.9" stroke="#ddd" stroke-width="0.35"/>
<line x1="238.7" y1="324.2" x2="285.0" y2="324.7" stroke="#ddd" stroke-width="0.35"/>
<line x1="238.7" y1="326.9" x2="285.0" y2="327.0" stroke="#ddd" stroke-width="0.35"/>
<line x1="238.7" y1="329.6" x2="285.0" y2="329.6" stroke="#ddd" stroke-width="0.35"/>
<line x1="238.7" y1="332.3" x2="285.0" y2="332.5" stroke="#ddd" stroke-width="0.35"/>
<line x1="236.3" y1="320.5" x2="287.3" y2="320.4" stroke="#111" stroke-width="0.6"/>
<line x1="235.0" y1="323.1" x2="288.2" y2="323.6" stroke="#111" stroke-width="0.6"/>
<line x1="235.5" y1="325.6" x2="286.5" y2="325.3" stroke="#111" stroke-width="0.6"/>
<line x1="235.5" y1="328.2" x2="286.9" y2="328.6" stroke="#111" stroke-width="0.6"/>
<line x1="234.8" y1="330.7" x2="286.9" y2="330.4" stroke="#111" stroke-width="0.6"/>
<line x1="236.0" y1="333.3" x2="288.3" y2="333.0" stroke="#111" stroke-width="0.6"/>
<path d="M204.5,334.9 L208.5,335.0 L212.5,334.4 L216.5,334.2 L220.5,334.5 L224.5,335.1 L228.5,335.2 L232.5,335.2 L236.5,335.2 L240.5,335.2 L244.5,334.8 L248.5,334.3 L252.5,334.2 L256.5,334.8 L260.5,334.9 L264.5,335.0 L268.5,335.3 L272.5,335.5 L276.5,335.2 L280.5,334.9 L284.5,334.6 L288.5,334.6 L292.5,334.7 L296.5,334.7 L300.5,334.8 L304.5,335.3 L308.5,335.4 L310.0,335.6" stroke="#a00a0a" stroke-width="4.0" fill="none" stroke-linejoin="round"/>
<path d="M204.5,334.9 L208.5,335.0 L212.5,334.4 L216.5,334.2 L220.5,334.5 L224.5,335.1 L228.5,335.2 L232.5,335.2 L236.5,335.2 L240.5,335.2 L244.5,334.8 L248.5,334.3 L252.5,334.2 L256.5,334.8 L260.5,334.9 L264.5,335.0 L268.5,335.3 L272.5,335.5 L276.5,335.2 L280.5,334.9 L284.5,334.6 L288.5,334.6 L292.5,334.7 L296.5,334.7 L300.5,334.8 L304.5,335.3 L308.5,335.4 L310.0,335.6" stroke="#a00a0a" stroke-width="7.36" fill="none" stroke-dasharray="1.4,1.8"/>
<path d="M204.5,346.3 L208.5,346.4 L212.5,346.2 L216.5,346.0 L220.5,345.9 L224.5,345.9 L228.5,345.9 L232.5,346.0 L236.5,346.1 L240.5,346.4 L244.5,346.4 L248.5,346.2 L252.5,346.0 L256.5,346.0 L260.5,345.9 L264.5,345.8 L268.5,346.0 L272.5,346.2 L276.5,346.4 L280.5,346.4 L284.5,346.1 L288.5,346.2 L292.5,346.1 L296.5,345.9 L300.5,345.7 L304.5,346.0 L308.5,346.2 L310.0,346.3" stroke="#1a80e4" stroke-width="3.64" fill="none" stroke-linejoin="round"/>
<path d="M204.5,346.3 L208.5,346.4 L212.5,346.2 L216.5,346.0 L220.5,345.9 L224.5,345.9 L228.5,345.9 L232.5,346.0 L236.5,346.1 L240.5,346.4 L244.5,346.4 L248.5,346.2 L252.5,346.0 L256.5,346.0 L260.5,345.9 L264.5,345.8 L268.5,346.0 L272.5,346.2 L276.5,346.4 L280.5,346.4 L284.5,346.1 L288.5,346.2 L292.5,346.1 L296.5,345.9 L300.5,345.7 L304.5,346.0 L308.5,346.2 L310.0,346.3" stroke="#1a80e4" stroke-width="7" fill="none" stroke-dasharray="1.4,1.8"/>
<path d="M204.5,368.2 L208.5,368.0 L212.5,368.1 L216.5,367.9 L220.5,368.1 L224.5,368.4 L228.5,368.9 L232.5,368.6 L236.5,368.5 L240.5,368.4 L244.5,368.4 L248.5,367.9 L252.5,367.8 L256.5,367.9 L260.5,368.5 L264.5,368.6 L268.5,368.4 L272.5,368.7 L276.5,368.6 L280.5,368.3 L284.5,367.8 L288.5,367.8 L292.5,368.1 L296.5,368.3 L300.5,368.2 L304.5,368.6 L308.5,368.7 L310.0,368.8" stroke="#a00a0a" stroke-width="3.5" fill="none" stroke-linejoin="round"/>
<path d="M204.5,368.2 L208.5,368.0 L212.5,368.1 L216.5,367.9 L220.5,368.1 L224.5,368.4 L228.5,368.9 L232.5,368.6 L236.5,368.5 L240.5,368.4 L244.5,368.4 L248.5,367.9 L252.5,367.8 L256.5,367.9 L260.5,368.5 L264.5,368.6 L268.5,368.4 L272.5,368.7 L276.5,368.6 L280.5,368.3 L284.5,367.8 L288.5,367.8 L292.5,368.1 L296.5,368.3 L300.5,368.2 L304.5,368.6 L308.5,368.7 L310.0,368.8" stroke="#a00a0a" stroke-width="6.44" fill="none" stroke-dasharray="1.4,1.8"/>
<text x="213.4" y="303.0" font-size="9.5" font-weight="bold" fill="#111" letter-spacing="0.45">Adsorption</text>
<text x="214.0" y="342.7" font-size="9.5" font-weight="bold" fill="#111" letter-spacing="0.45">Interaction</text>
<ellipse cx="264.3" cy="311.1" rx="29.2" ry="5.1" fill="none" stroke="#000" stroke-width="1.0"/>
<ellipse cx="265.9" cy="327.0" rx="30.4" ry="7.5" fill="none" stroke="#000" stroke-width="1.0"/>
<rect x="204.5" y="289.6" width="105.8" height="81.1" fill="none" stroke="#1a1a1a" stroke-width="0.7" stroke-dasharray="2,1.3"/>
<rect x="213.1" y="384.8" width="7.9" height="12.7" fill="#9a9a9a"/>
<rect x="231.5" y="384.8" width="7.9" height="12.7" fill="#9a9a9a"/>
<rect x="247.3" y="384.8" width="8.7" height="12.7" fill="#9a9a9a"/>
<rect x="263.0" y="384.8" width="7.9" height="12.7" fill="#9a9a9a"/>
<rect x="277.9" y="384.8" width="8.8" height="12.7" fill="#9a9a9a"/>
<rect x="213.8" y="385.2" width="6.4" height="1.8" fill="#111"/>
<rect x="248.0" y="387.9" width="7.6" height="1.8" fill="#111"/>
<rect x="277.9" y="393.4" width="8.8" height="1.8" fill="#111"/>
<line x1="206.5" y1="386.4" x2="287.6" y2="386.4" stroke="#2a84e0" stroke-width="1.3"/>
<rect x="287.6" y="0" width="28.0" height="5" transform="translate(0,383.9)" fill="url(#pw)"/>
<path d="M205.5,385.1 L207.5,386.4 L205.5,387.7Z M314.6,385.1 L316.6,386.4 L314.6,387.7Z" fill="#2a84e0"/>
<line x1="206.5" y1="393.4" x2="287.6" y2="393.4" stroke="#2a84e0" stroke-width="1.3"/>
<rect x="287.6" y="0" width="28.0" height="5" transform="translate(0,390.9)" fill="url(#pw)"/>
<path d="M205.5,392.1 L207.5,393.4 L205.5,394.7Z M314.6,392.1 L316.6,393.4 L314.6,394.7Z" fill="#2a84e0"/>
<line x1="206.5" y1="398.5" x2="287.6" y2="398.5" stroke="#2a84e0" stroke-width="1.3"/>
<rect x="287.6" y="0" width="28.0" height="5" transform="translate(0,396.0)" fill="url(#pw)"/>
<path d="M205.5,397.2 L207.5,398.5 L205.5,399.8Z M314.6,397.2 L316.6,398.5 L314.6,399.8Z" fill="#2a84e0"/>
<line x1="206.5" y1="384.2" x2="316.1" y2="384.2" stroke="#a01515" stroke-width="1.15"/>
<line x1="206.5" y1="390.8" x2="316.1" y2="390.8" stroke="#a01515" stroke-width="1.15"/>
<line x1="206.5" y1="396.2" x2="316.1" y2="396.2" stroke="#a01515" stroke-width="1.15"/>
<text x="318.0" y="399.5" font-size="14.2" fill="#000" text-anchor="start" font-weight="bold">210 ps</text>
<line x1="244.9" y1="399.1" x2="205.2" y2="406.5" stroke="#555" stroke-width="0.45"/>
<line x1="260.0" y1="399.1" x2="311.0" y2="406.5" stroke="#555" stroke-width="0.45"/>
<polygon points="286.8,412.0 288.9,415.7 288.3,419.3 287.6,423.0 253.0,423.0 254.5,419.3 255.8,415.7 253.9,412.0" fill="url(#pg)"/>
<polygon points="290.3,466.0 289.8,469.0 288.0,472.0 292.0,475.0 291.2,478.0 288.8,481.0 232.5,481.0 231.2,478.0 231.5,475.0 232.2,472.0 231.2,469.0 231.3,466.0" fill="url(#pg)"/>
<path d="M205.2,408.7 L209.2,408.7 L213.2,408.9 L217.2,409.1 L221.2,409.6 L225.2,409.2 L229.2,408.9 L233.2,408.6 L237.2,408.8 L241.2,408.5 L245.2,408.4 L249.2,408.7 L253.2,409.3 L257.2,409.4 L261.2,409.0 L265.2,408.9 L269.2,409.0 L273.2,408.7 L277.2,408.3 L281.2,408.4 L285.2,408.8 L289.2,409.1 L293.2,409.1 L297.2,409.0 L301.2,409.4 L305.2,409.1 L309.2,408.6 L311.0,408.5" stroke="#a00a0a" stroke-width="3.75" fill="none" stroke-linejoin="round"/>
<path d="M205.2,408.7 L209.2,408.7 L213.2,408.9 L217.2,409.1 L221.2,409.6 L225.2,409.2 L229.2,408.9 L233.2,408.6 L237.2,408.8 L241.2,408.5 L245.2,408.4 L249.2,408.7 L253.2,409.3 L257.2,409.4 L261.2,409.0 L265.2,408.9 L269.2,409.0 L273.2,408.7 L277.2,408.3 L281.2,408.4 L285.2,408.8 L289.2,409.1 L293.2,409.1 L297.2,409.0 L301.2,409.4 L305.2,409.1 L309.2,408.6 L311.0,408.5" stroke="#a00a0a" stroke-width="6.9" fill="none" stroke-dasharray="1.4,1.8"/>
<path d="M205.2,429.5 L209.2,429.3 L213.2,429.2 L217.2,429.2 L221.2,429.1 L225.2,428.9 L229.2,429.0 L233.2,429.2 L237.2,429.4 L241.2,429.4 L245.2,429.3 L249.2,429.4 L253.2,429.3 L257.2,429.1 L261.2,428.8 L265.2,429.0 L269.2,429.2 L273.2,429.2 L277.2,429.3 L281.2,429.5 L285.2,429.4 L289.2,429.3 L293.2,429.1 L297.2,429.0 L301.2,429.1 L305.2,429.0 L309.2,429.0 L311.0,429.2" stroke="#1a80e4" stroke-width="3.64" fill="none" stroke-linejoin="round"/>
<path d="M205.2,429.5 L209.2,429.3 L213.2,429.2 L217.2,429.2 L221.2,429.1 L225.2,428.9 L229.2,429.0 L233.2,429.2 L237.2,429.4 L241.2,429.4 L245.2,429.3 L249.2,429.4 L253.2,429.3 L257.2,429.1 L261.2,428.8 L265.2,429.0 L269.2,429.2 L273.2,429.2 L277.2,429.3 L281.2,429.5 L285.2,429.4 L289.2,429.3 L293.2,429.1 L297.2,429.0 L301.2,429.1 L305.2,429.0 L309.2,429.0 L311.0,429.2" stroke="#1a80e4" stroke-width="7" fill="none" stroke-dasharray="1.4,1.8"/>
<polygon points="297.9,431.5 296.1,433.8 296.9,436.2 297.3,438.5 224.8,438.5 227.8,436.2 226.5,433.8 224.8,431.5" fill="url(#pg)"/>
<rect x="234.4" y="437.0" width="56.1" height="13.0" fill="#111"/>
<line x1="236.4" y1="438.0" x2="288.5" y2="437.6" stroke="#ddd" stroke-width="0.35"/>
<line x1="236.4" y1="440.8" x2="288.5" y2="440.5" stroke="#ddd" stroke-width="0.35"/>
<line x1="236.4" y1="443.5" x2="288.5" y2="443.6" stroke="#ddd" stroke-width="0.35"/>
<line x1="236.4" y1="446.2" x2="288.5" y2="446.4" stroke="#ddd" stroke-width="0.35"/>
<line x1="236.4" y1="449.0" x2="288.5" y2="448.8" stroke="#ddd" stroke-width="0.35"/>
<line x1="234.3" y1="437.0" x2="290.6" y2="437.0" stroke="#111" stroke-width="0.6"/>
<line x1="232.6" y1="439.6" x2="292.4" y2="439.2" stroke="#111" stroke-width="0.6"/>
<line x1="234.2" y1="442.2" x2="291.1" y2="442.3" stroke="#111" stroke-width="0.6"/>
<line x1="233.5" y1="444.8" x2="290.3" y2="445.2" stroke="#111" stroke-width="0.6"/>
<line x1="234.4" y1="447.4" x2="292.0" y2="447.5" stroke="#111" stroke-width="0.6"/>
<line x1="232.6" y1="450.0" x2="292.0" y2="449.8" stroke="#111" stroke-width="0.6"/>
<path d="M205.2,453.5 L209.2,453.6 L213.2,453.3 L217.2,452.9 L221.2,452.5 L225.2,452.9 L229.2,453.3 L233.2,453.6 L237.2,453.6 L241.2,453.8 L245.2,453.7 L249.2,453.3 L253.2,452.9 L257.2,452.8 L261.2,453.1 L265.2,453.2 L269.2,453.1 L273.2,453.5 L277.2,453.9 L281.2,453.6 L285.2,453.2 L289.2,453.1 L293.2,453.0 L297.2,452.9 L301.2,452.7 L305.2,453.2 L309.2,453.7 L311.0,453.9" stroke="#a00a0a" stroke-width="4.0" fill="none" stroke-linejoin="round"/>
<path d="M205.2,453.5 L209.2,453.6 L213.2,453.3 L217.2,452.9 L221.2,452.5 L225.2,452.9 L229.2,453.3 L233.2,453.6 L237.2,453.6 L241.2,453.8 L245.2,453.7 L249.2,453.3 L253.2,452.9 L257.2,452.8 L261.2,453.1 L265.2,453.2 L269.2,453.1 L273.2,453.5 L277.2,453.9 L281.2,453.6 L285.2,453.2 L289.2,453.1 L293.2,453.0 L297.2,452.9 L301.2,452.7 L305.2,453.2 L309.2,453.7 L311.0,453.9" stroke="#a00a0a" stroke-width="7.36" fill="none" stroke-dasharray="1.4,1.8"/>
<path d="M205.2,462.7 L209.2,462.6 L213.2,462.3 L217.2,462.4 L221.2,462.6 L225.2,462.7 L229.2,462.7 L233.2,462.8 L237.2,462.9 L241.2,462.7 L245.2,462.5 L249.2,462.4 L253.2,462.5 L257.2,462.5 L261.2,462.5 L265.2,462.6 L269.2,462.9 L273.2,462.9 L277.2,462.7 L281.2,462.5 L285.2,462.6 L289.2,462.4 L293.2,462.3 L297.2,462.4 L301.2,462.8 L305.2,462.9 L309.2,462.8 L311.0,462.8" stroke="#1a80e4" stroke-width="3.64" fill="none" stroke-linejoin="round"/>
<path d="M205.2,462.7 L209.2,462.6 L213.2,462.3 L217.2,462.4 L221.2,462.6 L225.2,462.7 L229.2,462.7 L233.2,462.8 L237.2,462.9 L241.2,462.7 L245.2,462.5 L249.2,462.4 L253.2,462.5 L257.2,462.5 L261.2,462.5 L265.2,462.6 L269.2,462.9 L273.2,462.9 L277.2,462.7 L281.2,462.5 L285.2,462.6 L289.2,462.4 L293.2,462.3 L297.2,462.4 L301.2,462.8 L305.2,462.9 L309.2,462.8 L311.0,462.8" stroke="#1a80e4" stroke-width="7" fill="none" stroke-dasharray="1.4,1.8"/>
<path d="M205.2,484.5 L209.2,484.5 L213.2,484.6 L217.2,484.8 L221.2,485.2 L225.2,485.2 L229.2,485.0 L233.2,484.7 L237.2,484.6 L241.2,484.5 L245.2,484.3 L249.2,484.4 L253.2,484.8 L257.2,485.3 L261.2,485.2 L265.2,485.0 L269.2,485.1 L273.2,484.8 L277.2,484.5 L281.2,484.2 L285.2,484.6 L289.2,484.9 L293.2,485.0 L297.2,484.9 L301.2,485.3 L305.2,485.1 L309.2,484.8 L311.0,484.7" stroke="#a00a0a" stroke-width="3.5" fill="none" stroke-linejoin="round"/>
<path d="M205.2,484.5 L209.2,484.5 L213.2,484.6 L217.2,484.8 L221.2,485.2 L225.2,485.2 L229.2,485.0 L233.2,484.7 L237.2,484.6 L241.2,484.5 L245.2,484.3 L249.2,484.4 L253.2,484.8 L257.2,485.3 L261.2,485.2 L265.2,485.0 L269.2,485.1 L273.2,484.8 L277.2,484.5 L281.2,484.2 L285.2,484.6 L289.2,484.9 L293.2,485.0 L297.2,484.9 L301.2,485.3 L305.2,485.1 L309.2,484.8 L311.0,484.7" stroke="#a00a0a" stroke-width="6.44" fill="none" stroke-dasharray="1.4,1.8"/>
<text x="208.7" y="421.6" font-size="9.5" font-weight="bold" fill="#111" letter-spacing="0.45">Adsorption</text>
<text x="209.9" y="465.7" font-size="9.5" font-weight="bold" fill="#111" letter-spacing="0.45">Interaction</text>
<ellipse cx="260.1" cy="428.7" rx="29.2" ry="6.5" fill="none" stroke="#000" stroke-width="1.0"/>
<ellipse cx="270.6" cy="454.4" rx="30.4" ry="7.0" fill="none" stroke="#000" stroke-width="1.0"/>
<line x1="296.0" y1="434.0" x2="304.0" y2="430.0" stroke="#333" stroke-width="0.4"/>
<line x1="296.0" y1="444.0" x2="304.0" y2="448.0" stroke="#333" stroke-width="0.4"/>
<rect x="205.2" y="406.5" width="105.8" height="80.6" fill="none" stroke="#1a1a1a" stroke-width="0.7" stroke-dasharray="2,1.3"/>
<rect x="215.2" y="501.8" width="9.3" height="13.7" fill="#9a9a9a"/>
<rect x="240.9" y="501.8" width="9.3" height="13.7" fill="#9a9a9a"/>
<rect x="261.2" y="501.8" width="11.7" height="13.7" fill="#9a9a9a"/>
<rect x="283.0" y="501.8" width="10.5" height="13.7" fill="#9a9a9a"/>
<rect x="304.0" y="501.8" width="10.5" height="13.7" fill="#9a9a9a"/>
<rect x="216.4" y="502.3" width="8.1" height="1.8" fill="#111"/>
<rect x="263.5" y="504.7" width="8.9" height="1.8" fill="#111"/>
<rect x="305.1" y="511.2" width="8.9" height="1.8" fill="#111"/>
<line x1="206.5" y1="503.5" x2="315.7" y2="503.5" stroke="#2a84e0" stroke-width="1.3"/>
<rect x="315.7" y="0" width="38.5" height="5" transform="translate(0,501.0)" fill="url(#pw)"/>
<path d="M205.5,502.2 L207.5,503.5 L205.5,504.8Z M353.2,502.2 L355.2,503.5 L353.2,504.8Z" fill="#2a84e0"/>
<line x1="206.5" y1="511.0" x2="315.7" y2="511.0" stroke="#2a84e0" stroke-width="1.3"/>
<rect x="315.7" y="0" width="38.5" height="5" transform="translate(0,508.5)" fill="url(#pw)"/>
<path d="M205.5,509.7 L207.5,511.0 L205.5,512.3Z M353.2,509.7 L355.2,511.0 L353.2,512.3Z" fill="#2a84e0"/>
<line x1="206.5" y1="516.5" x2="315.7" y2="516.5" stroke="#2a84e0" stroke-width="1.3"/>
<rect x="315.7" y="0" width="38.5" height="5" transform="translate(0,514.0)" fill="url(#pw)"/>
<path d="M205.5,515.2 L207.5,516.5 L205.5,517.8Z M353.2,515.2 L355.2,516.5 L353.2,517.8Z" fill="#2a84e0"/>
<line x1="206.5" y1="501.1" x2="354.7" y2="501.1" stroke="#a01515" stroke-width="1.15"/>
<line x1="206.5" y1="508.3" x2="354.7" y2="508.3" stroke="#a01515" stroke-width="1.15"/>
<line x1="206.5" y1="514.1" x2="354.7" y2="514.1" stroke="#a01515" stroke-width="1.15"/>
<text x="316.2" y="532.4" font-size="14.2" fill="#000" text-anchor="start" font-weight="bold">430 ps</text>
<line x1="261.2" y1="517.2" x2="204.5" y2="524.9" stroke="#555" stroke-width="0.45"/>
<line x1="274.3" y1="517.2" x2="309.6" y2="524.9" stroke="#555" stroke-width="0.45"/>
<polygon points="273.0,535.0 274.0,538.2 274.2,541.5 274.3,544.8 273.3,548.0 233.6,548.0 233.3,544.8 231.6,541.5 231.4,538.2 232.3,535.0" fill="url(#pg)"/>
<polygon points="278.2,584.0 278.1,587.0 281.6,590.0 279.2,593.0 280.0,596.0 231.7,596.0 231.9,593.0 229.9,590.0 228.8,587.0 229.2,584.0" fill="url(#pg)"/>
<path d="M204.5,530.3 L208.5,530.0 L212.5,529.7 L216.5,529.8 L220.5,529.7 L224.5,529.7 L228.5,530.0 L232.5,530.3 L236.5,530.5 L240.5,530.2 L244.5,530.2 L248.5,530.0 L252.5,529.8 L256.5,529.6 L260.5,529.5 L264.5,530.0 L268.5,530.3 L272.5,530.3 L276.5,530.1 L280.5,530.4 L284.5,530.3 L288.5,529.8 L292.5,529.4 L296.5,529.6 L300.5,529.9 L304.5,530.0 L308.5,530.0 L309.6,530.1" stroke="#a00a0a" stroke-width="4.0" fill="none" stroke-linejoin="round"/>
<path d="M204.5,530.3 L208.5,530.0 L212.5,529.7 L216.5,529.8 L220.5,529.7 L224.5,529.7 L228.5,530.0 L232.5,530.3 L236.5,530.5 L240.5,530.2 L244.5,530.2 L248.5,530.0 L252.5,529.8 L256.5,529.6 L260.5,529.5 L264.5,530.0 L268.5,530.3 L272.5,530.3 L276.5,530.1 L280.5,530.4 L284.5,530.3 L288.5,529.8 L292.5,529.4 L296.5,529.6 L300.5,529.9 L304.5,530.0 L308.5,530.0 L309.6,530.1" stroke="#a00a0a" stroke-width="7.36" fill="none" stroke-dasharray="1.4,1.8"/>
<path d="M204.5,549.8 L208.5,549.7 L212.5,549.7 L216.5,549.9 L220.5,550.1 L224.5,550.1 L228.5,550.0 L232.5,550.0 L236.5,550.0 L240.5,549.8 L244.5,549.6 L248.5,549.6 L252.5,550.0 L256.5,550.0 L260.5,550.0 L264.5,550.0 L268.5,550.1 L272.5,550.1 L276.5,549.7 L280.5,549.6 L284.5,549.8 L288.5,549.8 L292.5,549.8 L296.5,550.0 L300.5,550.1 L304.5,550.2 L308.5,550.0 L309.6,549.9" stroke="#1a80e4" stroke-width="4.16" fill="none" stroke-linejoin="round"/>
<path d="M204.5,549.8 L208.5,549.7 L212.5,549.7 L216.5,549.9 L220.5,550.1 L224.5,550.1 L228.5,550.0 L232.5,550.0 L236.5,550.0 L240.5,549.8 L244.5,549.6 L248.5,549.6 L252.5,550.0 L256.5,550.0 L260.5,550.0 L264.5,550.0 L268.5,550.1 L272.5,550.1 L276.5,549.7 L280.5,549.6 L284.5,549.8 L288.5,549.8 L292.5,549.8 L296.5,550.0 L300.5,550.1 L304.5,550.2 L308.5,550.0 L309.6,549.9" stroke="#1a80e4" stroke-width="8" fill="none" stroke-dasharray="1.4,1.8"/>
<polygon points="293.6,551.0 294.0,553.0 290.1,555.0 291.8,557.0 233.0,557.0 231.5,555.0 233.7,553.0 232.0,551.0" fill="url(#pg)"/>
<rect x="234.4" y="555.0" width="50.6" height="13.0" fill="#111"/>
<line x1="236.4" y1="556.0" x2="283.0" y2="555.7" stroke="#ddd" stroke-width="0.35"/>
<line x1="236.4" y1="558.8" x2="283.0" y2="558.8" stroke="#ddd" stroke-width="0.35"/>
<line x1="236.4" y1="561.5" x2="283.0" y2="561.6" stroke="#ddd" stroke-width="0.35"/>
<line x1="236.4" y1="564.2" x2="283.0" y2="564.1" stroke="#ddd" stroke-width="0.35"/>
<line x1="236.4" y1="567.0" x2="283.0" y2="567.2" stroke="#ddd" stroke-width="0.35"/>
<line x1="234.0" y1="555.0" x2="285.6" y2="555.0" stroke="#111" stroke-width="0.6"/>
<line x1="234.1" y1="557.6" x2="286.1" y2="557.6" stroke="#111" stroke-width="0.6"/>
<line x1="234.3" y1="560.2" x2="284.5" y2="560.5" stroke="#111" stroke-width="0.6"/>
<line x1="232.7" y1="562.8" x2="285.8" y2="562.5" stroke="#111" stroke-width="0.6"/>
<line x1="233.3" y1="565.4" x2="286.3" y2="565.7" stroke="#111" stroke-width="0.6"/>
<line x1="234.0" y1="568.0" x2="284.7" y2="568.0" stroke="#111" stroke-width="0.6"/>
<path d="M204.5,570.7 L208.5,570.6 L212.5,570.5 L216.5,570.7 L220.5,571.2 L224.5,571.5 L228.5,571.1 L232.5,570.9 L236.5,570.9 L240.5,570.8 L244.5,570.5 L248.5,570.4 L252.5,570.7 L256.5,571.2 L260.5,571.0 L264.5,571.2 L268.5,571.2 L272.5,571.2 L276.5,570.8 L280.5,570.3 L284.5,570.4 L288.5,570.8 L292.5,570.8 L296.5,570.9 L300.5,571.3 L304.5,571.4 L308.5,571.1 L309.6,571.0" stroke="#a00a0a" stroke-width="4.0" fill="none" stroke-linejoin="round"/>
<path d="M204.5,570.7 L208.5,570.6 L212.5,570.5 L216.5,570.7 L220.5,571.2 L224.5,571.5 L228.5,571.1 L232.5,570.9 L236.5,570.9 L240.5,570.8 L244.5,570.5 L248.5,570.4 L252.5,570.7 L256.5,571.2 L260.5,571.0 L264.5,571.2 L268.5,571.2 L272.5,571.2 L276.5,570.8 L280.5,570.3 L284.5,570.4 L288.5,570.8 L292.5,570.8 L296.5,570.9 L300.5,571.3 L304.5,571.4 L308.5,571.1 L309.6,571.0" stroke="#a00a0a" stroke-width="7.36" fill="none" stroke-dasharray="1.4,1.8"/>
<path d="M204.5,579.1 L208.5,578.9 L212.5,578.7 L216.5,579.0 L220.5,579.2 L224.5,579.2 L228.5,579.1 L232.5,579.3 L236.5,579.4 L240.5,579.1 L244.5,579.0 L248.5,578.8 L252.5,579.0 L256.5,579.0 L260.5,579.1 L264.5,579.2 L268.5,579.4 L272.5,579.3 L276.5,579.0 L280.5,579.0 L284.5,579.1 L288.5,578.8 L292.5,578.8 L296.5,579.0 L300.5,579.3 L304.5,579.3 L308.5,579.2 L309.6,579.3" stroke="#1a80e4" stroke-width="3.9000000000000004" fill="none" stroke-linejoin="round"/>
<path d="M204.5,579.1 L208.5,578.9 L212.5,578.7 L216.5,579.0 L220.5,579.2 L224.5,579.2 L228.5,579.1 L232.5,579.3 L236.5,579.4 L240.5,579.1 L244.5,579.0 L248.5,578.8 L252.5,579.0 L256.5,579.0 L260.5,579.1 L264.5,579.2 L268.5,579.4 L272.5,579.3 L276.5,579.0 L280.5,579.0 L284.5,579.1 L288.5,578.8 L292.5,578.8 L296.5,579.0 L300.5,579.3 L304.5,579.3 L308.5,579.2 L309.6,579.3" stroke="#1a80e4" stroke-width="7.5" fill="none" stroke-dasharray="1.4,1.8"/>
<path d="M204.5,600.6 L208.5,600.4 L212.5,600.2 L216.5,600.0 L220.5,600.0 L224.5,599.9 L228.5,599.6 L232.5,599.9 L236.5,600.5 L240.5,600.5 L244.5,600.2 L248.5,600.3 L252.5,600.4 L256.5,599.9 L260.5,599.6 L264.5,599.7 L268.5,600.1 L272.5,600.2 L276.5,600.3 L280.5,600.4 L284.5,600.6 L288.5,600.5 L292.5,599.9 L296.5,599.8 L300.5,599.8 L304.5,599.9 L308.5,599.8 L309.6,599.9" stroke="#a00a0a" stroke-width="4.0" fill="none" stroke-linejoin="round"/>
<path d="M204.5,600.6 L208.5,600.4 L212.5,600.2 L216.5,600.0 L220.5,600.0 L224.5,599.9 L228.5,599.6 L232.5,599.9 L236.5,600.5 L240.5,600.5 L244.5,600.2 L248.5,600.3 L252.5,600.4 L256.5,599.9 L260.5,599.6 L264.5,599.7 L268.5,600.1 L272.5,600.2 L276.5,600.3 L280.5,600.4 L284.5,600.6 L288.5,600.5 L292.5,599.9 L296.5,599.8 L300.5,599.8 L304.5,599.9 L308.5,599.8 L309.6,599.9" stroke="#a00a0a" stroke-width="7.36" fill="none" stroke-dasharray="1.4,1.8"/>
<text x="213.4" y="544.8" font-size="9.5" font-weight="bold" fill="#111" letter-spacing="0.45">Adsorption</text>
<text x="213.4" y="589.2" font-size="9.5" font-weight="bold" fill="#111" letter-spacing="0.45">Supporting</text>
<ellipse cx="258.9" cy="554.6" rx="29.2" ry="8.2" fill="none" stroke="#000" stroke-width="1.0"/>
<ellipse cx="263.6" cy="573.3" rx="29.2" ry="7.0" fill="none" stroke="#000" stroke-width="1.0"/>
<rect x="204.5" y="524.9" width="105.1" height="81.1" fill="none" stroke="#1a1a1a" stroke-width="0.7" stroke-dasharray="2,1.3"/>
<text x="342.4" y="155.6" font-size="15.3" fill="#000" text-anchor="start" font-weight="bold">(g)</text>
<path d="M370.4,143.1 H375.6 V165 H378.1 L373.0,169.8 L367.9,165 H370.4Z" fill="#14acee"/>
<line x1="384.4" y1="150.0" x2="455.0" y2="150.0" stroke="#b8b8b8" stroke-width="0.9"/>
<line x1="384.4" y1="155.6" x2="455.0" y2="155.6" stroke="#b8b8b8" stroke-width="0.9"/>
<rect x="408.0" y="148.6" width="29.0" height="1.8" fill="#111"/>
<rect x="387.0" y="151.1" width="50.0" height="1.8" fill="#111"/>
<rect x="408.0" y="156.2" width="29.0" height="1.8" fill="#111"/>
<line x1="383.9" y1="148.4" x2="455.0" y2="148.4" stroke="#2a84e0" stroke-width="1.3"/>
<path d="M382.9,147.1 L384.9,148.4 L382.9,149.7Z M454.0,147.1 L456.0,148.4 L454.0,149.7Z" fill="#2a84e0"/>
<line x1="383.9" y1="155.6" x2="455.0" y2="155.6" stroke="#2a84e0" stroke-width="1.3"/>
<path d="M382.9,154.3 L384.9,155.6 L382.9,156.9Z M454.0,154.3 L456.0,155.6 L454.0,156.9Z" fill="#2a84e0"/>
<line x1="383.9" y1="160.8" x2="455.0" y2="160.8" stroke="#2a84e0" stroke-width="1.3"/>
<path d="M382.9,159.5 L384.9,160.8 L382.9,162.1Z M454.0,159.5 L456.0,160.8 L454.0,162.1Z" fill="#2a84e0"/>
<line x1="383.9" y1="146.1" x2="455.5" y2="146.1" stroke="#a01515" stroke-width="1.15"/>
<line x1="383.9" y1="153.0" x2="455.5" y2="153.0" stroke="#a01515" stroke-width="1.15"/>
<line x1="383.9" y1="158.5" x2="455.5" y2="158.5" stroke="#a01515" stroke-width="1.15"/>
<text x="461.5" y="158.7" font-size="14.2" fill="#000" text-anchor="start" font-weight="bold">0 ps</text>
<line x1="405.4" y1="161.5" x2="381.6" y2="171.1" stroke="#555" stroke-width="0.45"/>
<line x1="424.1" y1="161.5" x2="487.7" y2="171.1" stroke="#555" stroke-width="0.45"/>
<rect x="382.0" y="0" width="12.0" height="6" transform="translate(0,182.0)" fill="url(#pz)"/>
<rect x="396.0" y="0" width="8.0" height="6" transform="translate(0,182.0)" fill="url(#pz)"/>
<rect x="456.0" y="0" width="8.0" height="6" transform="translate(0,182.0)" fill="url(#pz)"/>
<rect x="395.0" y="0" width="10.0" height="6" transform="translate(0,200.0)" fill="url(#pz)"/>
<rect x="460.0" y="0" width="27.0" height="6" transform="translate(0,199.6)" fill="url(#pz)"/>
<rect x="382.0" y="0" width="14.0" height="6" transform="translate(0,232.8)" fill="url(#pz)"/>
<rect x="397.0" y="0" width="9.0" height="6" transform="translate(0,233.0)" fill="url(#pz)"/>
<rect x="459.0" y="0" width="6.0" height="6" transform="translate(0,233.0)" fill="url(#pz)"/>
<rect x="404.3" y="180.2" width="51.4" height="10.0" fill="url(#pc1)"/>
<rect x="465.0" y="180.2" width="22.2" height="10.0" fill="url(#pc1)"/>
<rect x="382.0" y="198.4" width="12.2" height="9.4" fill="url(#pc1)"/>
<rect x="406.6" y="198.4" width="52.6" height="10.5" fill="url(#pc1)"/>
<rect x="406.6" y="232.3" width="51.4" height="10.5" fill="url(#pc1)"/>
<rect x="466.2" y="232.3" width="21.0" height="10.5" fill="url(#pc1)"/>
<path d="M381.8,175.4 L385.8,175.1 L389.8,175.0 L393.8,174.8 L397.8,174.4 L401.8,174.1 L405.8,174.9 L409.8,175.4 L413.8,175.4 L417.8,175.2 L421.8,175.7 L425.8,175.5 L429.8,174.6 L433.8,173.8 L437.8,174.1 L441.8,174.7 L445.8,174.9 L449.8,175.3 L453.8,175.8 L457.8,175.9 L461.8,175.4 L465.8,174.4 L469.8,174.6 L473.8,174.5 L477.8,174.6 L481.8,174.5 L485.8,175.3 L487.5,175.3" stroke="#a00a0a" stroke-width="4.5" fill="none" stroke-linejoin="round"/>
<path d="M381.8,175.4 L385.8,175.1 L389.8,175.0 L393.8,174.8 L397.8,174.4 L401.8,174.1 L405.8,174.9 L409.8,175.4 L413.8,175.4 L417.8,175.2 L421.8,175.7 L425.8,175.5 L429.8,174.6 L433.8,173.8 L437.8,174.1 L441.8,174.7 L445.8,174.9 L449.8,175.3 L453.8,175.8 L457.8,175.9 L461.8,175.4 L465.8,174.4 L469.8,174.6 L473.8,174.5 L477.8,174.6 L481.8,174.5 L485.8,175.3 L487.5,175.3" stroke="#a00a0a" stroke-width="8.280000000000001" fill="none" stroke-dasharray="1.4,1.8"/>
<path d="M381.8,194.9 L389.8,194.9 L397.8,194.8 L405.8,195.0 L413.8,194.9 L421.8,194.9 L429.8,194.8 L437.8,194.9 L445.8,194.9 L453.8,195.0 L461.8,194.8 L469.8,194.8 L477.8,194.9 L485.8,195.0 L487.5,195.0" stroke="#1a80e4" stroke-width="3.8500000000000005" fill="none" stroke-linejoin="round"/>
<path d="M381.8,194.9 L389.8,194.9 L397.8,194.8 L405.8,195.0 L413.8,194.9 L421.8,194.9 L429.8,194.8 L437.8,194.9 L445.8,194.9 L453.8,195.0 L461.8,194.8 L469.8,194.8 L477.8,194.9 L485.8,195.0 L487.5,195.0" stroke="#1a80e4" stroke-width="7" fill="none" stroke-dasharray="1.2,1.0"/>
<path d="M381.8,215.6 L385.8,215.9 L389.8,214.4 L393.8,212.9 L397.8,213.2 L401.8,213.5 L405.8,213.6 L409.8,213.7 L413.8,215.1 L417.8,216.3 L421.8,215.1 L425.8,214.1 L429.8,214.0 L433.8,213.7 L437.8,212.7 L441.8,212.4 L445.8,214.1 L449.8,215.4 L453.8,215.7 L457.8,215.3 L461.8,214.8 L465.8,215.0 L469.8,214.1 L473.8,212.4 L477.8,213.2 L481.8,214.4 L485.8,215.0 L487.5,214.9" stroke="#a00a0a" stroke-width="4.75" fill="none" stroke-linejoin="round"/>
<path d="M381.8,215.6 L385.8,215.9 L389.8,214.4 L393.8,212.9 L397.8,213.2 L401.8,213.5 L405.8,213.6 L409.8,213.7 L413.8,215.1 L417.8,216.3 L421.8,215.1 L425.8,214.1 L429.8,214.0 L433.8,213.7 L437.8,212.7 L441.8,212.4 L445.8,214.1 L449.8,215.4 L453.8,215.7 L457.8,215.3 L461.8,214.8 L465.8,215.0 L469.8,214.1 L473.8,212.4 L477.8,213.2 L481.8,214.4 L485.8,215.0 L487.5,214.9" stroke="#a00a0a" stroke-width="8.74" fill="none" stroke-dasharray="1.4,1.8"/>
<path d="M381.8,226.4 L389.8,226.4 L397.8,226.3 L405.8,226.4 L413.8,226.5 L421.8,226.4 L429.8,226.3 L437.8,226.3 L445.8,226.4 L453.8,226.5 L461.8,226.4 L469.8,226.3 L477.8,226.3 L485.8,226.5 L487.5,226.5" stroke="#1a80e4" stroke-width="3.8500000000000005" fill="none" stroke-linejoin="round"/>
<path d="M381.8,226.4 L389.8,226.4 L397.8,226.3 L405.8,226.4 L413.8,226.5 L421.8,226.4 L429.8,226.3 L437.8,226.3 L445.8,226.4 L453.8,226.5 L461.8,226.4 L469.8,226.3 L477.8,226.3 L485.8,226.5 L487.5,226.5" stroke="#1a80e4" stroke-width="7" fill="none" stroke-dasharray="1.2,1.0"/>
<path d="M381.8,247.1 L385.8,247.3 L389.8,247.3 L393.8,246.7 L397.8,246.8 L401.8,247.3 L405.8,248.3 L409.8,248.1 L413.8,247.6 L417.8,247.8 L421.8,247.5 L425.8,247.0 L429.8,246.4 L433.8,246.8 L437.8,247.5 L441.8,247.7 L445.8,247.6 L449.8,248.1 L453.8,248.5 L457.8,247.7 L461.8,246.6 L465.8,246.7 L469.8,247.0 L473.8,247.2 L477.8,247.3 L481.8,248.1 L485.8,248.5 L487.5,248.6" stroke="#a00a0a" stroke-width="4.25" fill="none" stroke-linejoin="round"/>
<path d="M381.8,247.1 L385.8,247.3 L389.8,247.3 L393.8,246.7 L397.8,246.8 L401.8,247.3 L405.8,248.3 L409.8,248.1 L413.8,247.6 L417.8,247.8 L421.8,247.5 L425.8,247.0 L429.8,246.4 L433.8,246.8 L437.8,247.5 L441.8,247.7 L445.8,247.6 L449.8,248.1 L453.8,248.5 L457.8,247.7 L461.8,246.6 L465.8,246.7 L469.8,247.0 L473.8,247.2 L477.8,247.3 L481.8,248.1 L485.8,248.5 L487.5,248.6" stroke="#a00a0a" stroke-width="7.82" fill="none" stroke-dasharray="1.4,1.8"/>
<rect x="381.6" y="171.1" width="106.1" height="80.6" fill="none" stroke="#1a1a1a" stroke-width="0.7" stroke-dasharray="2,1.3"/>
<rect x="388.5" y="266.3" width="7.9" height="11.8" fill="#9a9a9a"/>
<rect x="400.4" y="266.3" width="7.9" height="11.8" fill="#9a9a9a"/>
<rect x="412.9" y="266.3" width="7.8" height="11.8" fill="#9a9a9a"/>
<rect x="425.3" y="266.3" width="7.9" height="11.8" fill="#9a9a9a"/>
<rect x="436.5" y="266.3" width="7.9" height="11.8" fill="#9a9a9a"/>
<rect x="388.5" y="273.0" width="7.9" height="1.8" fill="#111"/>
<rect x="400.4" y="268.3" width="7.9" height="1.8" fill="#111"/>
<rect x="412.9" y="268.3" width="7.8" height="1.8" fill="#111"/>
<rect x="412.9" y="273.0" width="7.8" height="1.8" fill="#111"/>
<rect x="425.3" y="268.3" width="7.9" height="1.8" fill="#111"/>
<rect x="436.5" y="268.3" width="7.9" height="1.8" fill="#111"/>
<rect x="436.5" y="273.0" width="7.9" height="1.8" fill="#111"/>
<line x1="382.9" y1="267.7" x2="445.0" y2="267.7" stroke="#2a84e0" stroke-width="1.3"/>
<rect x="445.0" y="0" width="22.5" height="5" transform="translate(0,265.2)" fill="url(#pw)"/>
<path d="M381.9,266.4 L383.9,267.7 L381.9,269.0Z M466.5,266.4 L468.5,267.7 L466.5,269.0Z" fill="#2a84e0"/>
<line x1="382.9" y1="274.2" x2="445.0" y2="274.2" stroke="#2a84e0" stroke-width="1.3"/>
<rect x="445.0" y="0" width="22.5" height="5" transform="translate(0,271.7)" fill="url(#pw)"/>
<path d="M381.9,272.9 L383.9,274.2 L381.9,275.5Z M466.5,272.9 L468.5,274.2 L466.5,275.5Z" fill="#2a84e0"/>
<line x1="382.9" y1="278.9" x2="445.0" y2="278.9" stroke="#2a84e0" stroke-width="1.3"/>
<rect x="445.0" y="0" width="22.5" height="5" transform="translate(0,276.4)" fill="url(#pw)"/>
<path d="M381.9,277.6 L383.9,278.9 L381.9,280.2Z M466.5,277.6 L468.5,278.9 L466.5,280.2Z" fill="#2a84e0"/>
<line x1="382.9" y1="265.7" x2="468.0" y2="265.7" stroke="#a01515" stroke-width="1.15"/>
<line x1="382.9" y1="271.9" x2="468.0" y2="271.9" stroke="#a01515" stroke-width="1.15"/>
<line x1="382.9" y1="276.9" x2="468.0" y2="276.9" stroke="#a01515" stroke-width="1.15"/>
<text x="473.8" y="277.2" font-size="14.2" fill="#000" text-anchor="start" font-weight="bold">100 ps</text>
<line x1="410.2" y1="279.5" x2="381.5" y2="289.6" stroke="#555" stroke-width="0.45"/>
<line x1="427.8" y1="279.5" x2="489.0" y2="289.6" stroke="#555" stroke-width="0.45"/>
<polygon points="398.8,294.0 398.1,297.7 397.5,301.3 397.5,305.0 381.6,305.0 381.7,301.3 381.1,297.7 383.3,294.0" fill="url(#pg)"/>
<polygon points="398.5,343.0 396.5,346.5 398.6,350.0 395.2,353.5 395.5,357.0 382.0,357.0 381.2,353.5 381.4,350.0 383.9,346.5 380.6,343.0" fill="url(#pg)"/>
<polygon points="487.8,295.0 487.9,298.2 489.7,301.4 487.9,304.5 487.0,307.7 489.2,310.9 488.6,314.1 488.0,317.3 489.0,320.5 489.6,323.6 489.2,326.8 489.5,330.0 484.2,330.0 485.3,326.8 485.9,323.6 483.3,320.5 483.4,317.3 485.5,314.1 483.3,310.9 484.9,307.7 484.8,304.5 484.7,301.4 485.9,298.2 485.3,295.0" fill="url(#pg)"/>
<rect x="421.9" y="294.7" width="40.9" height="12.9" fill="url(#pc2)"/>
<rect x="424.3" y="314.6" width="39.7" height="10.4" fill="url(#pc2)"/>
<rect x="382.0" y="317.0" width="7.0" height="8.0" fill="#111"/>
<rect x="423.1" y="346.1" width="42.0" height="10.5" fill="url(#pc2)"/>
<path d="M381.5,292.2 L385.5,292.3 L389.5,291.9 L393.5,291.5 L397.5,291.6 L401.5,291.7 L405.5,291.7 L409.5,291.7 L413.5,292.1 L417.5,292.3 L421.5,292.3 L425.5,291.8 L429.5,291.6 L433.5,291.6 L437.5,291.5 L441.5,291.5 L445.5,291.6 L449.5,292.2 L453.5,292.4 L457.5,292.1 L461.5,291.9 L465.5,292.1 L469.5,291.9 L473.5,291.3 L477.5,291.4 L481.5,291.8 L485.5,292.2 L489.0,292.1" stroke="#a00a0a" stroke-width="3.5" fill="none" stroke-linejoin="round"/>
<path d="M381.5,292.2 L385.5,292.3 L389.5,291.9 L393.5,291.5 L397.5,291.6 L401.5,291.7 L405.5,291.7 L409.5,291.7 L413.5,292.1 L417.5,292.3 L421.5,292.3 L425.5,291.8 L429.5,291.6 L433.5,291.6 L437.5,291.5 L441.5,291.5 L445.5,291.6 L449.5,292.2 L453.5,292.4 L457.5,292.1 L461.5,291.9 L465.5,292.1 L469.5,291.9 L473.5,291.3 L477.5,291.4 L481.5,291.8 L485.5,292.2 L489.0,292.1" stroke="#a00a0a" stroke-width="6.44" fill="none" stroke-dasharray="1.4,1.8"/>
<path d="M381.5,310.9 L385.5,310.9 L389.5,311.2 L393.5,311.4 L397.5,311.3 L401.5,311.2 L405.5,311.2 L409.5,311.1 L413.5,310.9 L417.5,310.8 L421.5,311.0 L425.5,311.2 L429.5,311.2 L433.5,311.2 L437.5,311.3 L441.5,311.3 L445.5,311.0 L449.5,310.8 L453.5,310.9 L457.5,311.1 L461.5,311.1 L465.5,311.0 L469.5,311.3 L473.5,311.4 L477.5,311.3 L481.5,311.0 L485.5,311.0 L489.0,311.1" stroke="#1a80e4" stroke-width="3.38" fill="none" stroke-linejoin="round"/>
<path d="M381.5,310.9 L385.5,310.9 L389.5,311.2 L393.5,311.4 L397.5,311.3 L401.5,311.2 L405.5,311.2 L409.5,311.1 L413.5,310.9 L417.5,310.8 L421.5,311.0 L425.5,311.2 L429.5,311.2 L433.5,311.2 L437.5,311.3 L441.5,311.3 L445.5,311.0 L449.5,310.8 L453.5,310.9 L457.5,311.1 L461.5,311.1 L465.5,311.0 L469.5,311.3 L473.5,311.4 L477.5,311.3 L481.5,311.0 L485.5,311.0 L489.0,311.1" stroke="#1a80e4" stroke-width="6.5" fill="none" stroke-dasharray="1.4,1.8"/>
<path d="M381.5,330.2 L385.5,330.3 L389.5,330.0 L393.5,329.7 L397.5,329.8 L401.5,329.5 L405.5,329.3 L409.5,329.2 L413.5,329.9 L417.5,330.3 L421.5,330.2 L425.5,329.9 L429.5,330.1 L433.5,330.0 L437.5,329.4 L441.5,329.1 L445.5,329.5 L449.5,330.0 L453.5,330.2 L457.5,330.0 L461.5,330.2 L465.5,330.3 L469.5,329.9 L473.5,329.2 L477.5,329.2 L481.5,329.5 L485.5,329.8 L489.0,329.6" stroke="#a00a0a" stroke-width="3.75" fill="none" stroke-linejoin="round"/>
<path d="M381.5,330.2 L385.5,330.3 L389.5,330.0 L393.5,329.7 L397.5,329.8 L401.5,329.5 L405.5,329.3 L409.5,329.2 L413.5,329.9 L417.5,330.3 L421.5,330.2 L425.5,329.9 L429.5,330.1 L433.5,330.0 L437.5,329.4 L441.5,329.1 L445.5,329.5 L449.5,330.0 L453.5,330.2 L457.5,330.0 L461.5,330.2 L465.5,330.3 L469.5,329.9 L473.5,329.2 L477.5,329.2 L481.5,329.5 L485.5,329.8 L489.0,329.6" stroke="#a00a0a" stroke-width="6.9" fill="none" stroke-dasharray="1.4,1.8"/>
<path d="M381.5,337.9 L385.5,337.6 L389.5,337.8 L393.5,337.9 L397.5,338.1 L401.5,338.0 L405.5,338.1 L409.5,338.3 L413.5,338.1 L417.5,337.8 L421.5,337.7 L425.5,337.8 L429.5,338.0 L433.5,337.9 L437.5,338.0 L441.5,338.2 L445.5,338.3 L449.5,338.1 L453.5,337.9 L457.5,338.0 L461.5,337.9 L465.5,337.7 L469.5,337.9 L473.5,338.1 L477.5,338.2 L481.5,338.2 L485.5,338.1 L489.0,338.1" stroke="#1a80e4" stroke-width="3.38" fill="none" stroke-linejoin="round"/>
<path d="M381.5,337.9 L385.5,337.6 L389.5,337.8 L393.5,337.9 L397.5,338.1 L401.5,338.0 L405.5,338.1 L409.5,338.3 L413.5,338.1 L417.5,337.8 L421.5,337.7 L425.5,337.8 L429.5,338.0 L433.5,337.9 L437.5,338.0 L441.5,338.2 L445.5,338.3 L449.5,338.1 L453.5,337.9 L457.5,338.0 L461.5,337.9 L465.5,337.7 L469.5,337.9 L473.5,338.1 L477.5,338.2 L481.5,338.2 L485.5,338.1 L489.0,338.1" stroke="#1a80e4" stroke-width="6.5" fill="none" stroke-dasharray="1.4,1.8"/>
<path d="M381.5,361.9 L385.5,361.4 L389.5,360.8 L393.5,361.0 L397.5,361.2 L401.5,361.0 L405.5,361.0 L409.5,361.6 L413.5,361.8 L417.5,361.5 L421.5,361.2 L425.5,361.2 L429.5,361.1 L433.5,360.9 L437.5,360.6 L441.5,361.1 L445.5,361.9 L449.5,361.6 L453.5,361.5 L457.5,361.6 L461.5,361.5 L465.5,361.1 L469.5,360.6 L473.5,360.9 L477.5,361.4 L481.5,361.6 L485.5,361.6 L489.0,361.5" stroke="#a00a0a" stroke-width="3.75" fill="none" stroke-linejoin="round"/>
<path d="M381.5,361.9 L385.5,361.4 L389.5,360.8 L393.5,361.0 L397.5,361.2 L401.5,361.0 L405.5,361.0 L409.5,361.6 L413.5,361.8 L417.5,361.5 L421.5,361.2 L425.5,361.2 L429.5,361.1 L433.5,360.9 L437.5,360.6 L441.5,361.1 L445.5,361.9 L449.5,361.6 L453.5,361.5 L457.5,361.6 L461.5,361.5 L465.5,361.1 L469.5,360.6 L473.5,360.9 L477.5,361.4 L481.5,361.6 L485.5,361.6 L489.0,361.5" stroke="#a00a0a" stroke-width="6.9" fill="none" stroke-dasharray="1.4,1.8"/>
<path d="M381.5,369.0 L385.5,369.2 L389.5,369.4 L393.5,369.1 L397.5,368.9 L401.5,368.8 L405.5,368.9 L409.5,368.8 L413.5,368.8 L417.5,369.1 L421.5,369.2 L425.5,369.3 L429.5,369.1 L433.5,369.0 L437.5,369.1 L441.5,368.8 L445.5,368.6 L449.5,368.8 L453.5,369.1 L457.5,369.1 L461.5,369.2 L465.5,369.2 L469.5,369.2 L473.5,369.0 L477.5,368.7 L481.5,368.7 L485.5,368.9 L489.0,369.0" stroke="#1a80e4" stroke-width="2.08" fill="none" stroke-linejoin="round"/>
<path d="M381.5,369.0 L385.5,369.2 L389.5,369.4 L393.5,369.1 L397.5,368.9 L401.5,368.8 L405.5,368.9 L409.5,368.8 L413.5,368.8 L417.5,369.1 L421.5,369.2 L425.5,369.3 L429.5,369.1 L433.5,369.0 L437.5,369.1 L441.5,368.8 L445.5,368.6 L449.5,368.8 L453.5,369.1 L457.5,369.1 L461.5,369.2 L465.5,369.2 L469.5,369.2 L473.5,369.0 L477.5,368.7 L481.5,368.7 L485.5,368.9 L489.0,369.0" stroke="#1a80e4" stroke-width="4" fill="none" stroke-dasharray="1.4,1.8"/>
<text x="384.5" y="314.2" font-size="9.5" font-weight="bold" fill="#111" letter-spacing="0.45">Fiber fracture</text>
<text x="383.4" y="333.3" font-size="9.5" font-weight="bold" fill="#111" letter-spacing="0.45">Adsorption</text>
<text x="383.4" y="346.4" font-size="9.5" font-weight="bold" fill="#111" letter-spacing="0.45">and interaction</text>
<ellipse cx="448.3" cy="311.1" rx="27.6" ry="15.2" fill="none" stroke="#f2ea1a" stroke-width="1.2"/>
<ellipse cx="462.3" cy="342.6" rx="13.6" ry="15.2" fill="none" stroke="#f2ea1a" stroke-width="1.2"/>
<rect x="381.5" y="289.6" width="107.5" height="81.1" fill="none" stroke="#1a1a1a" stroke-width="0.7" stroke-dasharray="2,1.3"/>
<rect x="388.8" y="383.6" width="7.2" height="13.1" fill="#9a9a9a"/>
<rect x="404.0" y="383.6" width="7.3" height="13.1" fill="#9a9a9a"/>
<rect x="419.3" y="383.6" width="7.2" height="13.1" fill="#9a9a9a"/>
<rect x="433.0" y="383.6" width="7.2" height="13.1" fill="#9a9a9a"/>
<rect x="446.6" y="383.6" width="7.2" height="13.1" fill="#9a9a9a"/>
<rect x="388.8" y="386.8" width="7.2" height="1.8" fill="#111"/>
<rect x="404.0" y="386.8" width="7.3" height="1.8" fill="#111"/>
<rect x="419.3" y="386.0" width="7.2" height="1.8" fill="#111"/>
<rect x="419.3" y="391.8" width="7.2" height="1.8" fill="#111"/>
<rect x="433.0" y="386.8" width="7.2" height="1.8" fill="#111"/>
<rect x="446.6" y="386.8" width="7.2" height="1.8" fill="#111"/>
<rect x="446.6" y="391.8" width="7.2" height="1.8" fill="#111"/>
<line x1="382.7" y1="385.3" x2="454.6" y2="385.3" stroke="#2a84e0" stroke-width="1.3"/>
<rect x="454.6" y="0" width="26.8" height="5" transform="translate(0,382.8)" fill="url(#pw)"/>
<path d="M381.7,384.0 L383.7,385.3 L381.7,386.6Z M480.4,384.0 L482.4,385.3 L480.4,386.6Z" fill="#2a84e0"/>
<line x1="382.7" y1="392.5" x2="454.6" y2="392.5" stroke="#2a84e0" stroke-width="1.3"/>
<rect x="454.6" y="0" width="26.8" height="5" transform="translate(0,390.0)" fill="url(#pw)"/>
<path d="M381.7,391.2 L383.7,392.5 L381.7,393.8Z M480.4,391.2 L482.4,392.5 L480.4,393.8Z" fill="#2a84e0"/>
<line x1="382.7" y1="397.7" x2="454.6" y2="397.7" stroke="#2a84e0" stroke-width="1.3"/>
<rect x="454.6" y="0" width="26.8" height="5" transform="translate(0,395.2)" fill="url(#pw)"/>
<path d="M381.7,396.4 L383.7,397.7 L381.7,399.0Z M480.4,396.4 L482.4,397.7 L480.4,399.0Z" fill="#2a84e0"/>
<line x1="382.7" y1="383.0" x2="481.9" y2="383.0" stroke="#a01515" stroke-width="1.15"/>
<line x1="382.7" y1="389.9" x2="481.9" y2="389.9" stroke="#a01515" stroke-width="1.15"/>
<line x1="382.7" y1="395.4" x2="481.9" y2="395.4" stroke="#a01515" stroke-width="1.15"/>
<text x="482.0" y="400.2" font-size="14.2" fill="#000" text-anchor="start" font-weight="bold">180 ps</text>
<line x1="416.0" y1="398.4" x2="382.2" y2="406.1" stroke="#555" stroke-width="0.45"/>
<line x1="430.0" y1="398.4" x2="488.0" y2="406.1" stroke="#555" stroke-width="0.45"/>
<rect x="416.0" y="408.9" width="46.8" height="8.1" fill="url(#pc2)"/>
<polygon points="464.0,419.0 466.0,422.7 465.6,426.3 465.3,430.0 420.1,430.0 421.8,426.3 418.8,422.7 421.5,419.0" fill="url(#pg)"/>
<rect x="420.7" y="432.2" width="45.6" height="10.6" fill="url(#pc2)"/>
<rect x="420.7" y="461.4" width="45.6" height="9.4" fill="url(#pc2)"/>
<polygon points="464.3,451.0 466.0,453.3 463.4,455.7 467.0,458.0 414.7,458.0 416.9,455.7 413.9,453.3 414.6,451.0" fill="url(#pg)"/>
<path d="M382.2,407.3 L386.2,407.5 L390.2,407.9 L394.2,408.1 L398.2,407.9 L402.2,407.8 L406.2,407.9 L410.2,407.6 L414.2,407.4 L418.2,407.3 L422.2,407.6 L426.2,407.8 L430.2,407.9 L434.2,407.9 L438.2,408.0 L442.2,408.0 L446.2,407.6 L450.2,407.3 L454.2,407.3 L458.2,407.7 L462.2,407.7 L466.2,407.7 L470.2,408.0 L474.2,408.1 L478.2,407.9 L482.2,407.5 L486.2,407.5 L488.0,407.5" stroke="#a00a0a" stroke-width="2.5" fill="none" stroke-linejoin="round"/>
<path d="M382.2,407.3 L386.2,407.5 L390.2,407.9 L394.2,408.1 L398.2,407.9 L402.2,407.8 L406.2,407.9 L410.2,407.6 L414.2,407.4 L418.2,407.3 L422.2,407.6 L426.2,407.8 L430.2,407.9 L434.2,407.9 L438.2,408.0 L442.2,408.0 L446.2,407.6 L450.2,407.3 L454.2,407.3 L458.2,407.7 L462.2,407.7 L466.2,407.7 L470.2,408.0 L474.2,408.1 L478.2,407.9 L482.2,407.5 L486.2,407.5 L488.0,407.5" stroke="#a00a0a" stroke-width="4.6000000000000005" fill="none" stroke-dasharray="1.4,1.8"/>
<path d="M382.2,425.1 L386.2,424.9 L390.2,425.0 L394.2,425.3 L398.2,425.4 L402.2,425.3 L406.2,425.4 L410.2,425.5 L414.2,425.3 L418.2,425.0 L422.2,424.9 L426.2,425.1 L430.2,425.2 L434.2,425.2 L438.2,425.2 L442.2,425.6 L446.2,425.5 L450.2,425.2 L454.2,425.1 L458.2,425.1 L462.2,425.1 L466.2,425.1 L470.2,425.1 L474.2,425.4 L478.2,425.6 L482.2,425.3 L486.2,425.3 L488.0,425.2" stroke="#1a80e4" stroke-width="3.38" fill="none" stroke-linejoin="round"/>
<path d="M382.2,425.1 L386.2,424.9 L390.2,425.0 L394.2,425.3 L398.2,425.4 L402.2,425.3 L406.2,425.4 L410.2,425.5 L414.2,425.3 L418.2,425.0 L422.2,424.9 L426.2,425.1 L430.2,425.2 L434.2,425.2 L438.2,425.2 L442.2,425.6 L446.2,425.5 L450.2,425.2 L454.2,425.1 L458.2,425.1 L462.2,425.1 L466.2,425.1 L470.2,425.1 L474.2,425.4 L478.2,425.6 L482.2,425.3 L486.2,425.3 L488.0,425.2" stroke="#1a80e4" stroke-width="6.5" fill="none" stroke-dasharray="1.4,1.8"/>
<path d="M382.2,449.0 L386.2,448.7 L390.2,448.3 L394.2,448.1 L398.2,448.4 L402.2,448.5 L406.2,448.4 L410.2,448.8 L414.2,449.2 L418.2,449.0 L422.2,448.5 L426.2,448.4 L430.2,448.5 L434.2,448.4 L438.2,448.2 L442.2,448.5 L446.2,449.0 L450.2,449.0 L454.2,448.8 L458.2,448.6 L462.2,448.6 L466.2,448.5 L470.2,448.2 L474.2,448.2 L478.2,448.4 L482.2,448.8 L486.2,448.8 L488.0,448.9" stroke="#a00a0a" stroke-width="3.5" fill="none" stroke-linejoin="round"/>
<path d="M382.2,449.0 L386.2,448.7 L390.2,448.3 L394.2,448.1 L398.2,448.4 L402.2,448.5 L406.2,448.4 L410.2,448.8 L414.2,449.2 L418.2,449.0 L422.2,448.5 L426.2,448.4 L430.2,448.5 L434.2,448.4 L438.2,448.2 L442.2,448.5 L446.2,449.0 L450.2,449.0 L454.2,448.8 L458.2,448.6 L462.2,448.6 L466.2,448.5 L470.2,448.2 L474.2,448.2 L478.2,448.4 L482.2,448.8 L486.2,448.8 L488.0,448.9" stroke="#a00a0a" stroke-width="6.44" fill="none" stroke-dasharray="1.4,1.8"/>
<path d="M382.2,454.7 L386.2,454.8 L390.2,454.7 L394.2,455.0 L398.2,455.3 L402.2,455.1 L406.2,454.9 L410.2,454.9 L414.2,454.9 L418.2,454.6 L422.2,454.6 L426.2,454.8 L430.2,455.1 L434.2,455.0 L438.2,455.0 L442.2,455.1 L446.2,455.0 L450.2,454.8 L454.2,454.6 L458.2,454.6 L462.2,454.8 L466.2,454.9 L470.2,455.0 L474.2,455.1 L478.2,455.2 L482.2,455.0 L486.2,454.9 L488.0,454.7" stroke="#1a80e4" stroke-width="3.12" fill="none" stroke-linejoin="round"/>
<path d="M382.2,454.7 L386.2,454.8 L390.2,454.7 L394.2,455.0 L398.2,455.3 L402.2,455.1 L406.2,454.9 L410.2,454.9 L414.2,454.9 L418.2,454.6 L422.2,454.6 L426.2,454.8 L430.2,455.1 L434.2,455.0 L438.2,455.0 L442.2,455.1 L446.2,455.0 L450.2,454.8 L454.2,454.6 L458.2,454.6 L462.2,454.8 L466.2,454.9 L470.2,455.0 L474.2,455.1 L478.2,455.2 L482.2,455.0 L486.2,454.9 L488.0,454.7" stroke="#1a80e4" stroke-width="6" fill="none" stroke-dasharray="1.4,1.8"/>
<path d="M382.2,477.3 L386.2,477.7 L390.2,478.1 L394.2,478.2 L398.2,478.0 L402.2,478.1 L406.2,477.9 L410.2,477.6 L414.2,477.3 L418.2,477.5 L422.2,477.8 L426.2,478.0 L430.2,477.9 L434.2,478.1 L438.2,478.2 L442.2,478.0 L446.2,477.4 L450.2,477.5 L454.2,477.6 L458.2,477.6 L462.2,477.8 L466.2,477.9 L470.2,478.4 L474.2,478.3 L478.2,477.8 L482.2,477.5 L486.2,477.6 L488.0,477.6" stroke="#a00a0a" stroke-width="3.5" fill="none" stroke-linejoin="round"/>
<path d="M382.2,477.3 L386.2,477.7 L390.2,478.1 L394.2,478.2 L398.2,478.0 L402.2,478.1 L406.2,477.9 L410.2,477.6 L414.2,477.3 L418.2,477.5 L422.2,477.8 L426.2,478.0 L430.2,477.9 L434.2,478.1 L438.2,478.2 L442.2,478.0 L446.2,477.4 L450.2,477.5 L454.2,477.6 L458.2,477.6 L462.2,477.8 L466.2,477.9 L470.2,478.4 L474.2,478.3 L478.2,477.8 L482.2,477.5 L486.2,477.6 L488.0,477.6" stroke="#a00a0a" stroke-width="6.44" fill="none" stroke-dasharray="1.4,1.8"/>
<path d="M382.2,484.7 L386.2,484.6 L390.2,484.5 L394.2,484.7 L398.2,484.9 L402.2,484.8 L406.2,485.0 L410.2,485.0 L414.2,485.0 L418.2,484.7 L422.2,484.6 L426.2,484.7 L430.2,484.7 L434.2,484.7 L438.2,484.7 L442.2,485.1 L446.2,485.1 L450.2,484.9 L454.2,484.7 L458.2,484.7 L462.2,484.7 L466.2,484.6 L470.2,484.6 L474.2,484.9 L478.2,485.0 L482.2,485.1 L486.2,484.9 L488.0,484.8" stroke="#1a80e4" stroke-width="2.6" fill="none" stroke-linejoin="round"/>
<path d="M382.2,484.7 L386.2,484.6 L390.2,484.5 L394.2,484.7 L398.2,484.9 L402.2,484.8 L406.2,485.0 L410.2,485.0 L414.2,485.0 L418.2,484.7 L422.2,484.6 L426.2,484.7 L430.2,484.7 L434.2,484.7 L438.2,484.7 L442.2,485.1 L446.2,485.1 L450.2,484.9 L454.2,484.7 L458.2,484.7 L462.2,484.7 L466.2,484.6 L470.2,484.6 L474.2,484.9 L478.2,485.0 L482.2,485.1 L486.2,484.9 L488.0,484.8" stroke="#1a80e4" stroke-width="5" fill="none" stroke-dasharray="1.4,1.8"/>
<text x="385.7" y="423.7" font-size="9.5" font-weight="bold" fill="#111" letter-spacing="0.45">Adsorption</text>
<text x="385.7" y="436.5" font-size="9.5" font-weight="bold" fill="#111" letter-spacing="0.45">and</text>
<text x="385.2" y="448.2" font-size="9.5" font-weight="bold" fill="#111" letter-spacing="0.45">interaction</text>
<text x="385.2" y="478.6" font-size="9.5" font-weight="bold" fill="#111" letter-spacing="0.45">Fiber fracture</text>
<ellipse cx="442.2" cy="422.9" rx="26.9" ry="12.9" fill="none" stroke="#f2ea1a" stroke-width="1.2"/>
<ellipse cx="399.3" cy="457.9" rx="12.9" ry="8.2" fill="none" stroke="#f2ea1a" stroke-width="1.2"/>
<rect x="382.2" y="406.1" width="105.8" height="80.6" fill="none" stroke="#1a1a1a" stroke-width="0.7" stroke-dasharray="2,1.3"/>
<rect x="388.0" y="501.3" width="9.4" height="12.7" fill="#9a9a9a"/>
<rect x="407.9" y="501.3" width="9.3" height="12.7" fill="#9a9a9a"/>
<rect x="425.4" y="501.3" width="7.0" height="12.7" fill="#9a9a9a"/>
<rect x="440.6" y="501.3" width="9.4" height="12.7" fill="#9a9a9a"/>
<rect x="457.0" y="501.3" width="8.1" height="12.7" fill="#9a9a9a"/>
<rect x="388.0" y="504.4" width="9.4" height="1.8" fill="#111"/>
<rect x="407.9" y="508.7" width="9.3" height="1.8" fill="#111"/>
<rect x="425.4" y="503.6" width="7.0" height="1.8" fill="#111"/>
<rect x="425.4" y="508.7" width="7.0" height="1.8" fill="#111"/>
<rect x="440.6" y="504.4" width="9.4" height="1.8" fill="#111"/>
<rect x="457.0" y="504.4" width="8.1" height="1.8" fill="#111"/>
<line x1="382.9" y1="502.9" x2="466.3" y2="502.9" stroke="#2a84e0" stroke-width="1.3"/>
<rect x="466.3" y="0" width="29.7" height="5" transform="translate(0,500.4)" fill="url(#pw)"/>
<path d="M381.9,501.6 L383.9,502.9 L381.9,504.2Z M495.0,501.6 L497.0,502.9 L495.0,504.2Z" fill="#2a84e0"/>
<line x1="382.9" y1="509.9" x2="466.3" y2="509.9" stroke="#2a84e0" stroke-width="1.3"/>
<rect x="466.3" y="0" width="29.7" height="5" transform="translate(0,507.4)" fill="url(#pw)"/>
<path d="M381.9,508.6 L383.9,509.9 L381.9,511.2Z M495.0,508.6 L497.0,509.9 L495.0,511.2Z" fill="#2a84e0"/>
<line x1="382.9" y1="515.0" x2="466.3" y2="515.0" stroke="#2a84e0" stroke-width="1.3"/>
<rect x="466.3" y="0" width="29.7" height="5" transform="translate(0,512.5)" fill="url(#pw)"/>
<path d="M381.9,513.7 L383.9,515.0 L381.9,516.3Z M495.0,513.7 L497.0,515.0 L495.0,516.3Z" fill="#2a84e0"/>
<line x1="382.9" y1="500.7" x2="496.5" y2="500.7" stroke="#a01515" stroke-width="1.15"/>
<line x1="382.9" y1="507.3" x2="496.5" y2="507.3" stroke="#a01515" stroke-width="1.15"/>
<line x1="382.9" y1="512.7" x2="496.5" y2="512.7" stroke="#a01515" stroke-width="1.15"/>
<text x="488.0" y="531.7" font-size="14.2" fill="#000" text-anchor="start" font-weight="bold">350 ps</text>
<line x1="426.6" y1="515.6" x2="382.2" y2="524.9" stroke="#555" stroke-width="0.45"/>
<line x1="437.1" y1="515.6" x2="487.3" y2="524.9" stroke="#555" stroke-width="0.45"/>
<rect x="412.6" y="526.5" width="44.4" height="14.1" fill="url(#pc2)"/>
<polygon points="464.9,546.0 464.3,547.7 465.7,549.3 465.4,551.0 416.9,551.0 416.9,549.3 417.0,547.7 414.6,546.0" fill="url(#pg)"/>
<rect x="418.4" y="552.2" width="45.6" height="11.7" fill="url(#pc2)"/>
<polygon points="466.3,576.0 465.6,577.3 465.8,578.7 467.0,580.0 418.3,580.0 419.8,578.7 419.6,577.3 420.6,576.0" fill="url(#pg)"/>
<rect x="417.2" y="581.4" width="46.8" height="10.6" fill="url(#pc2)"/>
<line x1="382.2" y1="526.8" x2="487.3" y2="526.8" stroke="#a00a0a" stroke-width="0.8"/>
<line x1="382.2" y1="526.8" x2="487.3" y2="526.8" stroke="#a00a0a" stroke-width="4.5" stroke-dasharray="1.5,1.5"/>
<line x1="382.2" y1="544.5" x2="487.3" y2="544.5" stroke="#1a80e4" stroke-width="0.8"/>
<line x1="382.2" y1="544.5" x2="487.3" y2="544.5" stroke="#1a80e4" stroke-width="5.5" stroke-dasharray="1.6,1.7999999999999998"/>
<line x1="382.2" y1="567.9" x2="487.3" y2="567.9" stroke="#a00a0a" stroke-width="0.8"/>
<line x1="382.2" y1="567.9" x2="487.3" y2="567.9" stroke="#a00a0a" stroke-width="5" stroke-dasharray="1.6,1.6"/>
<line x1="382.2" y1="574.4" x2="487.3" y2="574.4" stroke="#1a80e4" stroke-width="0.8"/>
<line x1="382.2" y1="574.4" x2="487.3" y2="574.4" stroke="#1a80e4" stroke-width="5.5" stroke-dasharray="1.6,1.7999999999999998"/>
<line x1="382.2" y1="597.8" x2="487.3" y2="597.8" stroke="#a00a0a" stroke-width="0.8"/>
<line x1="382.2" y1="597.8" x2="487.3" y2="597.8" stroke="#a00a0a" stroke-width="5.5" stroke-dasharray="1.6,1.6"/>
<line x1="382.2" y1="603.6" x2="487.3" y2="603.6" stroke="#1a80e4" stroke-width="0.8"/>
<line x1="382.2" y1="603.6" x2="487.3" y2="603.6" stroke="#1a80e4" stroke-width="4.5" stroke-dasharray="1.6,1.4"/>
<text x="384.5" y="547.6" font-size="9.5" font-weight="bold" fill="#111" letter-spacing="0.45">Fiber</text>
<text x="384.5" y="560.7" font-size="9.5" font-weight="bold" fill="#111" letter-spacing="0.45">fracture</text>
<text x="385.7" y="602.1" font-size="9.5" font-weight="bold" fill="#111" letter-spacing="0.45">Fiber fracture</text>
<ellipse cx="474.5" cy="546.9" rx="9.8" ry="11.7" fill="none" stroke="#000" stroke-width="1.0"/>
<ellipse cx="402.0" cy="574.4" rx="17.5" ry="8.9" fill="none" stroke="#000" stroke-width="1.0"/>
<ellipse cx="475.7" cy="571.6" rx="8.2" ry="8.9" fill="none" stroke="#000" stroke-width="1.0"/>
<rect x="382.2" y="524.9" width="105.1" height="81.1" fill="none" stroke="#1a1a1a" stroke-width="0.7" stroke-dasharray="2,1.3"/>
</svg></body></html>
